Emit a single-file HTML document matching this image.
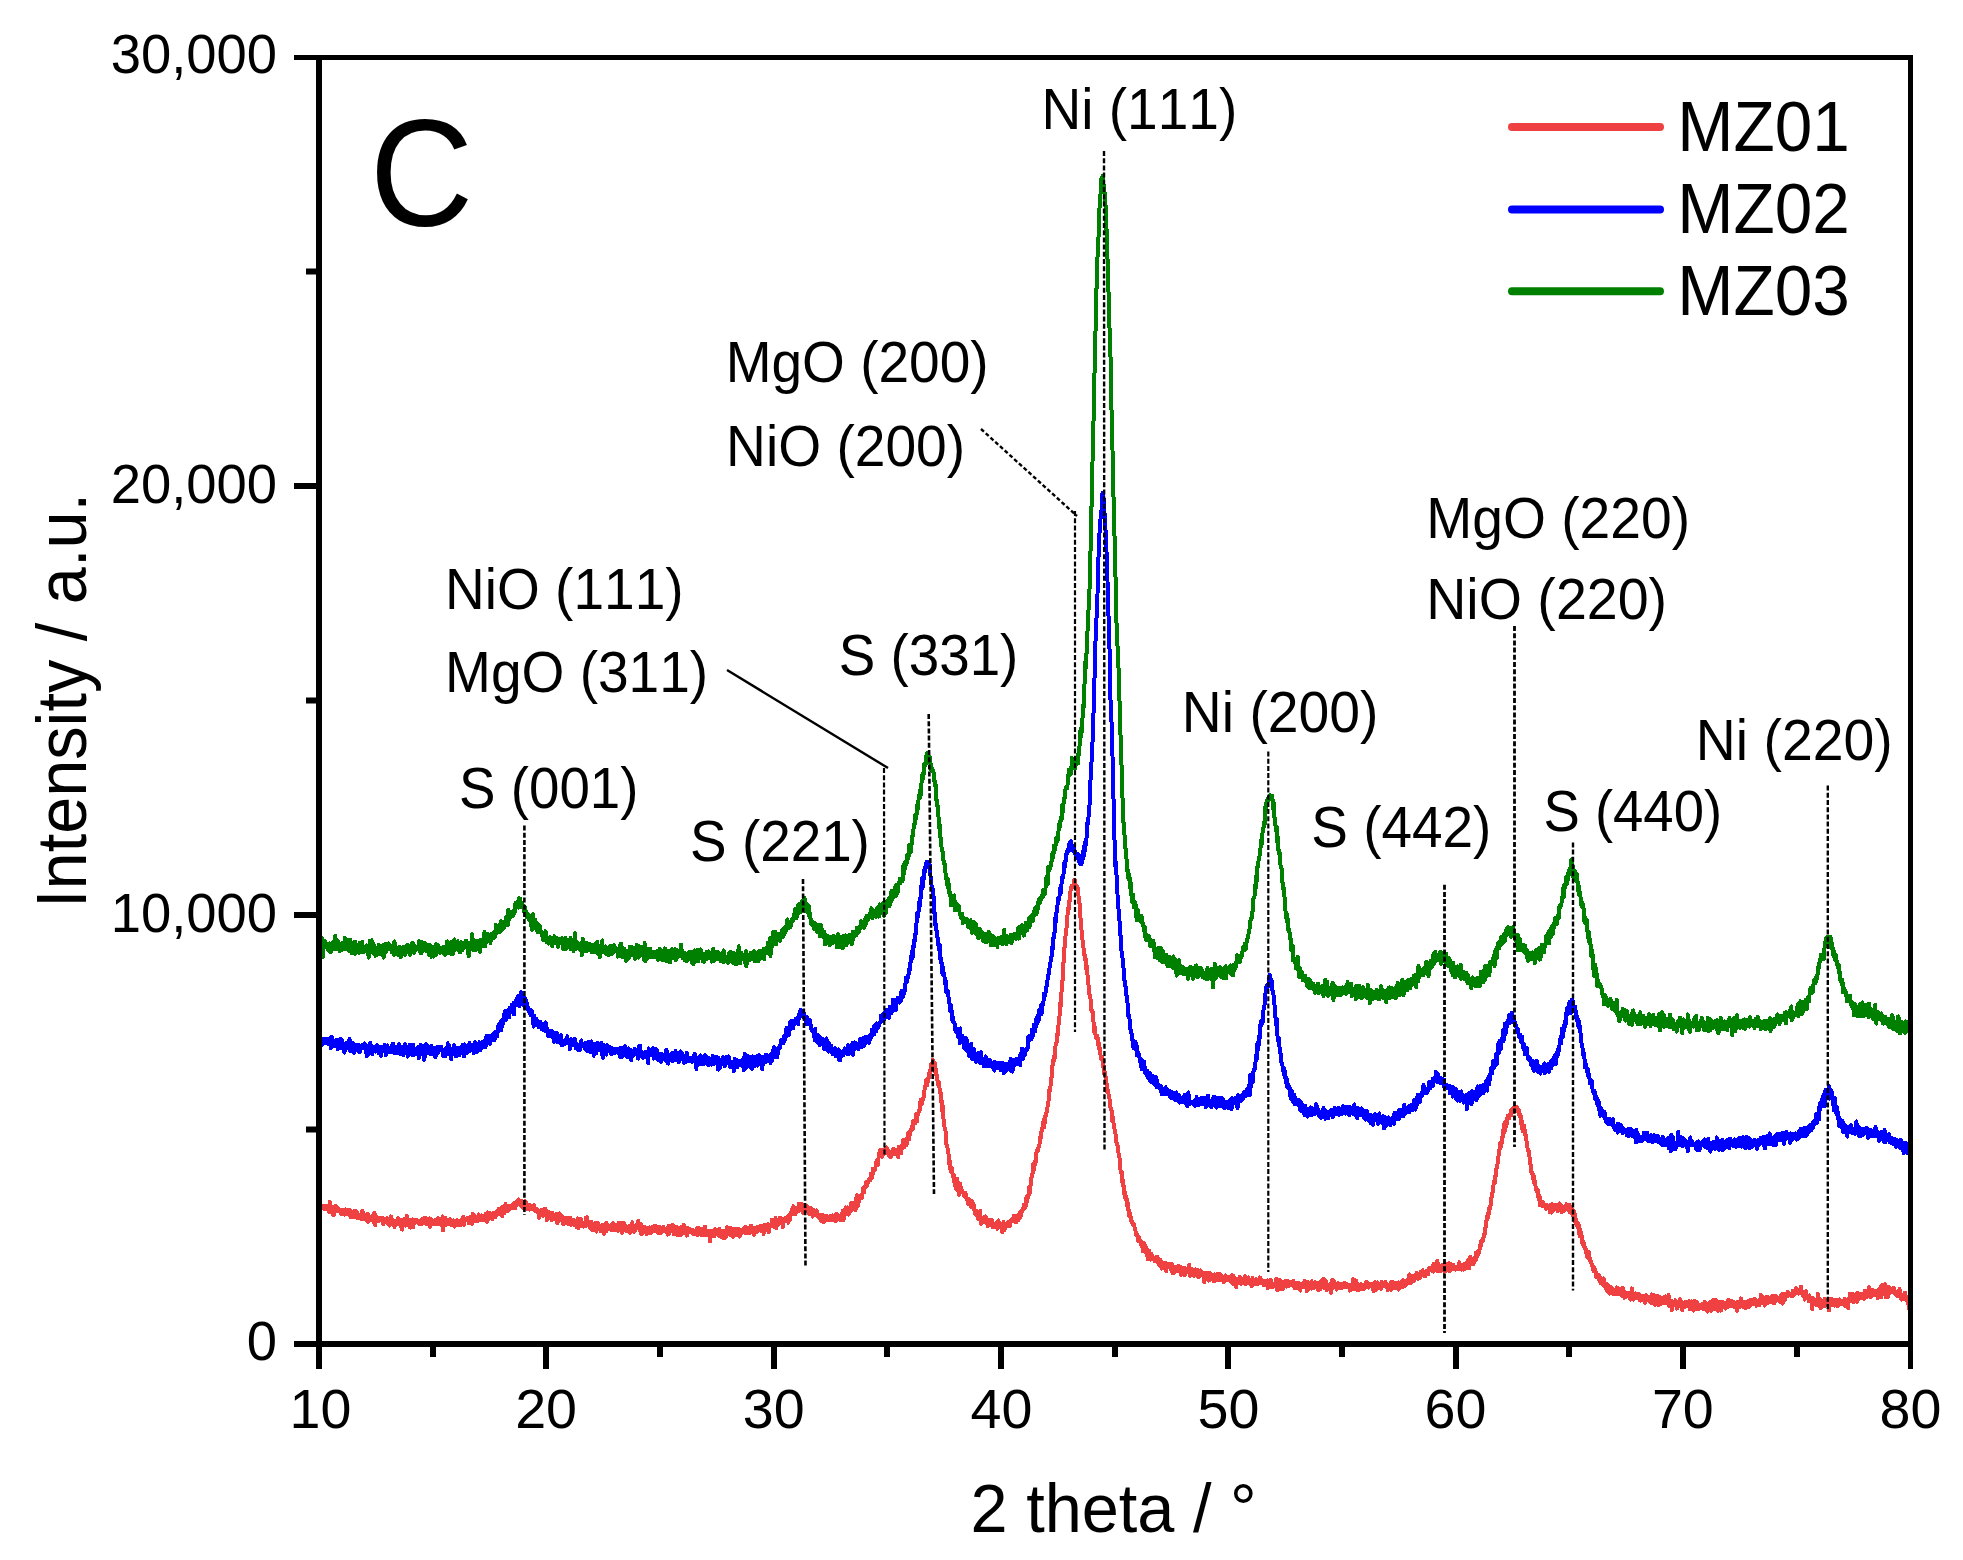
<!DOCTYPE html>
<html><head><meta charset="utf-8"><title>XRD patterns MZ01-MZ03</title>
<style>html,body{margin:0;padding:0;background:#fff;}svg{display:block;}</style>
</head><body>
<svg width="1963" height="1560" viewBox="0 0 1963 1560">
<rect width="100%" height="100%" fill="#fff"/>
<polyline fill="none" stroke="#EF4142" stroke-width="4" stroke-linejoin="round" shape-rendering="crispEdges" points="319.0,1207.3 319.5,1208.6 319.9,1207.5 320.4,1203.4 320.8,1209.0 321.3,1208.0 321.7,1205.6 322.2,1208.5 322.6,1208.0 323.1,1207.9 323.5,1207.4 324.0,1208.8 324.5,1205.6 324.9,1207.2 325.4,1206.5 325.8,1209.3 326.3,1208.0 326.7,1207.2 327.2,1206.1 327.6,1207.5 328.1,1208.3 328.5,1207.7 329.0,1211.7 329.5,1211.1 329.9,1201.9 330.4,1204.1 330.8,1208.5 331.3,1208.0 331.7,1209.7 332.2,1209.8 332.6,1214.7 333.1,1206.7 333.6,1208.6 334.0,1214.8 334.5,1211.4 334.9,1211.6 335.4,1208.8 335.8,1206.0 336.3,1210.7 336.7,1210.7 337.2,1207.4 337.6,1208.9 338.1,1210.6 338.6,1208.5 339.0,1210.7 339.5,1211.3 339.9,1211.3 340.4,1210.1 340.8,1213.0 341.3,1213.8 341.7,1212.5 342.2,1209.8 342.6,1213.8 343.1,1210.8 343.6,1214.4 344.0,1209.6 344.5,1214.7 344.9,1212.5 345.4,1209.5 345.8,1212.0 346.3,1213.0 346.7,1213.7 347.2,1210.7 347.6,1210.5 348.1,1213.8 348.6,1212.3 349.0,1214.2 349.5,1215.6 349.9,1209.7 350.4,1214.5 350.8,1217.1 351.3,1213.4 351.7,1212.2 352.2,1216.2 352.6,1215.1 353.1,1216.8 353.6,1213.8 354.0,1211.1 354.5,1214.6 354.9,1213.9 355.4,1217.0 355.8,1215.6 356.3,1211.2 356.7,1212.4 357.2,1217.7 357.7,1217.2 358.1,1214.0 358.6,1215.7 359.0,1216.9 359.5,1217.1 359.9,1218.2 360.4,1216.7 360.8,1215.9 361.3,1215.6 361.7,1219.0 362.2,1210.8 362.7,1216.2 363.1,1216.7 363.6,1213.1 364.0,1217.6 364.5,1215.2 364.9,1219.1 365.4,1216.7 365.8,1218.8 366.3,1220.3 366.7,1218.3 367.2,1215.2 367.7,1213.7 368.1,1222.0 368.6,1217.4 369.0,1216.1 369.5,1218.2 369.9,1217.5 370.4,1220.2 370.8,1218.2 371.3,1218.3 371.7,1216.6 372.2,1219.6 372.7,1215.9 373.1,1220.3 373.6,1222.5 374.0,1215.0 374.5,1212.7 374.9,1220.5 375.4,1225.4 375.8,1216.7 376.3,1216.1 376.7,1220.8 377.2,1217.3 377.7,1218.3 378.1,1218.7 378.6,1221.0 379.0,1218.8 379.5,1220.6 379.9,1219.5 380.4,1217.9 380.8,1219.3 381.3,1217.8 381.8,1220.3 382.2,1217.6 382.7,1217.7 383.1,1224.2 383.6,1220.5 384.0,1220.6 384.5,1222.0 384.9,1219.8 385.4,1220.3 385.8,1222.0 386.3,1221.8 386.8,1218.2 387.2,1223.3 387.7,1219.8 388.1,1218.7 388.6,1219.1 389.0,1220.5 389.5,1225.6 389.9,1218.6 390.4,1222.0 390.8,1216.3 391.3,1221.7 391.8,1224.1 392.2,1221.3 392.7,1220.3 393.1,1222.5 393.6,1223.7 394.0,1223.7 394.5,1227.0 394.9,1222.7 395.4,1220.7 395.8,1221.9 396.3,1222.1 396.8,1222.5 397.2,1222.2 397.7,1222.8 398.1,1218.2 398.6,1224.5 399.0,1221.0 399.5,1219.5 399.9,1224.0 400.4,1225.8 400.8,1223.7 401.3,1222.9 401.8,1220.2 402.2,1229.7 402.7,1224.7 403.1,1219.7 403.6,1220.6 404.0,1222.7 404.5,1218.6 404.9,1222.9 405.4,1221.4 405.9,1225.6 406.3,1224.9 406.8,1215.7 407.2,1222.6 407.7,1218.5 408.1,1225.3 408.6,1222.9 409.0,1223.9 409.5,1219.8 409.9,1227.1 410.4,1227.6 410.9,1219.8 411.3,1223.4 411.8,1220.8 412.2,1222.4 412.7,1219.3 413.1,1227.2 413.6,1220.1 414.0,1221.8 414.5,1223.8 414.9,1220.9 415.4,1221.9 415.9,1221.1 416.3,1222.2 416.8,1219.6 417.2,1221.4 417.7,1222.0 418.1,1221.7 418.6,1222.6 419.0,1221.8 419.5,1224.4 419.9,1221.7 420.4,1222.2 420.9,1220.8 421.3,1221.2 421.8,1219.3 422.2,1223.8 422.7,1219.6 423.1,1220.6 423.6,1223.4 424.0,1223.5 424.5,1221.5 424.9,1217.5 425.4,1223.6 425.9,1223.1 426.3,1219.0 426.8,1224.4 427.2,1220.7 427.7,1219.7 428.1,1222.7 428.6,1222.1 429.0,1223.0 429.5,1218.5 430.0,1227.0 430.4,1221.0 430.9,1218.7 431.3,1224.0 431.8,1221.6 432.2,1223.3 432.7,1221.7 433.1,1222.4 433.6,1223.1 434.0,1220.6 434.5,1224.2 435.0,1221.3 435.4,1220.3 435.9,1222.7 436.3,1223.6 436.8,1221.9 437.2,1220.3 437.7,1224.0 438.1,1218.1 438.6,1219.9 439.0,1222.6 439.5,1219.1 440.0,1222.6 440.4,1222.4 440.9,1224.7 441.3,1220.2 441.8,1220.9 442.2,1223.3 442.7,1216.4 443.1,1230.3 443.6,1220.8 444.0,1220.7 444.5,1224.7 445.0,1222.4 445.4,1218.1 445.9,1224.1 446.3,1224.6 446.8,1221.4 447.2,1221.8 447.7,1223.7 448.1,1220.2 448.6,1223.6 449.0,1223.0 449.5,1220.8 450.0,1219.0 450.4,1221.9 450.9,1220.2 451.3,1224.9 451.8,1222.7 452.2,1224.3 452.7,1222.7 453.1,1223.0 453.6,1220.3 454.1,1223.9 454.5,1226.7 455.0,1221.4 455.4,1220.7 455.9,1221.7 456.3,1220.9 456.8,1220.3 457.2,1222.4 457.7,1221.2 458.1,1225.5 458.6,1221.9 459.1,1222.6 459.5,1224.2 460.0,1221.0 460.4,1225.3 460.9,1220.0 461.3,1219.5 461.8,1220.6 462.2,1221.2 462.7,1217.9 463.1,1221.2 463.6,1217.1 464.1,1224.7 464.5,1220.9 465.0,1219.5 465.4,1218.7 465.9,1220.0 466.3,1220.3 466.8,1218.2 467.2,1218.4 467.7,1220.2 468.1,1219.3 468.6,1222.9 469.1,1223.3 469.5,1220.4 470.0,1221.5 470.4,1216.9 470.9,1221.7 471.3,1219.9 471.8,1221.2 472.2,1223.9 472.7,1214.1 473.2,1220.3 473.6,1216.9 474.1,1221.0 474.5,1216.1 475.0,1218.1 475.4,1219.7 475.9,1220.7 476.3,1219.2 476.8,1217.0 477.2,1217.5 477.7,1221.0 478.2,1218.7 478.6,1214.4 479.1,1220.6 479.5,1219.4 480.0,1220.5 480.4,1217.4 480.9,1220.2 481.3,1215.3 481.8,1219.3 482.2,1216.6 482.7,1219.4 483.2,1220.1 483.6,1215.6 484.1,1217.3 484.5,1217.4 485.0,1220.1 485.4,1218.8 485.9,1213.9 486.3,1218.0 486.8,1218.6 487.2,1222.0 487.7,1212.3 488.2,1215.1 488.6,1219.7 489.1,1212.8 489.5,1213.1 490.0,1217.3 490.4,1218.4 490.9,1214.1 491.3,1217.0 491.8,1215.8 492.2,1219.2 492.7,1215.2 493.2,1217.6 493.6,1212.7 494.1,1214.3 494.5,1214.4 495.0,1217.3 495.4,1215.7 495.9,1212.2 496.3,1215.6 496.8,1215.6 497.3,1213.2 497.7,1212.7 498.2,1212.6 498.6,1208.7 499.1,1213.2 499.5,1213.1 500.0,1210.1 500.4,1213.9 500.9,1208.4 501.3,1210.3 501.8,1210.3 502.3,1216.2 502.7,1207.0 503.2,1212.2 503.6,1213.0 504.1,1211.4 504.5,1213.2 505.0,1207.5 505.4,1204.1 505.9,1211.5 506.3,1206.3 506.8,1208.3 507.3,1205.9 507.7,1211.2 508.2,1210.4 508.6,1206.2 509.1,1210.0 509.5,1207.7 510.0,1206.8 510.4,1206.9 510.9,1206.0 511.3,1207.7 511.8,1206.7 512.3,1204.7 512.7,1207.8 513.2,1203.5 513.6,1205.4 514.1,1205.5 514.5,1207.9 515.0,1202.7 515.4,1208.0 515.9,1203.9 516.3,1202.7 516.8,1201.3 517.3,1204.3 517.7,1202.8 518.2,1199.7 518.6,1199.5 519.1,1200.8 519.5,1200.4 520.0,1204.8 520.4,1205.5 520.9,1204.2 521.4,1202.9 521.8,1201.0 522.3,1202.3 522.7,1204.4 523.2,1207.7 523.6,1204.8 524.1,1201.9 524.5,1202.9 525.0,1201.8 525.4,1201.3 525.9,1203.0 526.4,1204.3 526.8,1208.6 527.3,1204.5 527.7,1208.0 528.2,1209.3 528.6,1205.4 529.1,1209.6 529.5,1207.7 530.0,1205.1 530.4,1207.2 530.9,1206.9 531.4,1206.6 531.8,1207.0 532.3,1208.2 532.7,1209.2 533.2,1206.2 533.6,1208.7 534.1,1205.2 534.5,1209.9 535.0,1211.1 535.4,1210.1 535.9,1210.7 536.4,1211.6 536.8,1208.7 537.3,1210.0 537.7,1212.1 538.2,1213.5 538.6,1212.2 539.1,1217.8 539.5,1211.4 540.0,1214.3 540.4,1215.2 540.9,1211.9 541.4,1210.3 541.8,1209.6 542.3,1213.2 542.7,1215.8 543.2,1213.9 543.6,1213.8 544.1,1212.6 544.5,1215.1 545.0,1208.6 545.5,1214.7 545.9,1214.3 546.4,1211.0 546.8,1220.0 547.3,1211.3 547.7,1212.2 548.2,1212.1 548.6,1218.0 549.1,1213.2 549.5,1217.2 550.0,1217.2 550.5,1216.5 550.9,1212.7 551.4,1214.6 551.8,1220.4 552.3,1213.1 552.7,1214.4 553.2,1216.2 553.6,1218.8 554.1,1217.5 554.5,1218.9 555.0,1214.5 555.5,1219.7 555.9,1218.8 556.4,1213.6 556.8,1221.5 557.3,1223.5 557.7,1216.0 558.2,1218.2 558.6,1221.7 559.1,1214.6 559.5,1213.5 560.0,1215.3 560.5,1217.3 560.9,1217.4 561.4,1220.5 561.8,1219.7 562.3,1216.1 562.7,1220.7 563.2,1224.1 563.6,1222.5 564.1,1222.2 564.5,1219.8 565.0,1222.4 565.5,1217.6 565.9,1222.0 566.4,1220.1 566.8,1223.2 567.3,1221.7 567.7,1217.9 568.2,1221.1 568.6,1223.9 569.1,1218.1 569.6,1219.7 570.0,1219.3 570.5,1217.6 570.9,1223.8 571.4,1224.8 571.8,1223.6 572.3,1222.4 572.7,1221.7 573.2,1222.6 573.6,1220.2 574.1,1224.4 574.6,1224.9 575.0,1224.7 575.5,1221.2 575.9,1222.8 576.4,1222.3 576.8,1227.3 577.3,1223.4 577.7,1218.3 578.2,1224.1 578.6,1227.9 579.1,1225.0 579.6,1225.6 580.0,1223.6 580.5,1218.7 580.9,1219.2 581.4,1220.7 581.8,1223.6 582.3,1224.7 582.7,1225.8 583.2,1223.3 583.6,1226.6 584.1,1223.6 584.6,1222.6 585.0,1226.6 585.5,1222.3 585.9,1217.8 586.4,1222.1 586.8,1225.1 587.3,1217.2 587.7,1224.1 588.2,1224.2 588.6,1221.6 589.1,1221.5 589.6,1224.1 590.0,1224.0 590.5,1228.6 590.9,1226.4 591.4,1221.6 591.8,1223.5 592.3,1227.5 592.7,1230.5 593.2,1226.8 593.7,1226.7 594.1,1230.6 594.6,1226.0 595.0,1225.3 595.5,1222.6 595.9,1224.9 596.4,1231.7 596.8,1222.8 597.3,1226.4 597.7,1222.9 598.2,1226.8 598.7,1228.8 599.1,1226.0 599.6,1228.5 600.0,1228.5 600.5,1227.9 600.9,1231.1 601.4,1228.8 601.8,1226.1 602.3,1225.2 602.7,1224.9 603.2,1228.2 603.7,1226.2 604.1,1233.9 604.6,1231.7 605.0,1226.6 605.5,1226.4 605.9,1231.5 606.4,1222.6 606.8,1226.2 607.3,1229.7 607.7,1225.1 608.2,1226.2 608.7,1226.6 609.1,1229.2 609.6,1227.9 610.0,1228.6 610.5,1229.1 610.9,1227.7 611.4,1230.5 611.8,1225.9 612.3,1224.2 612.7,1223.3 613.2,1223.8 613.7,1226.5 614.1,1230.5 614.6,1228.3 615.0,1226.5 615.5,1225.3 615.9,1226.7 616.4,1227.0 616.8,1226.7 617.3,1224.5 617.8,1226.9 618.2,1230.7 618.7,1222.8 619.1,1227.6 619.6,1223.0 620.0,1228.7 620.5,1226.4 620.9,1223.1 621.4,1228.6 621.8,1232.9 622.3,1228.7 622.8,1231.4 623.2,1228.3 623.7,1223.1 624.1,1229.8 624.6,1227.5 625.0,1224.9 625.5,1230.6 625.9,1229.4 626.4,1227.4 626.8,1230.9 627.3,1226.6 627.8,1230.4 628.2,1226.4 628.7,1230.2 629.1,1226.1 629.6,1232.6 630.0,1229.5 630.5,1232.5 630.9,1226.9 631.4,1227.8 631.8,1231.1 632.3,1222.2 632.8,1226.4 633.2,1231.6 633.7,1230.3 634.1,1231.6 634.6,1228.4 635.0,1230.6 635.5,1227.4 635.9,1225.8 636.4,1225.0 636.8,1227.9 637.3,1227.9 637.8,1227.7 638.2,1220.5 638.7,1224.3 639.1,1228.0 639.6,1230.1 640.0,1228.0 640.5,1227.2 640.9,1223.7 641.4,1234.5 641.9,1226.7 642.3,1233.7 642.8,1233.4 643.2,1230.2 643.7,1228.1 644.1,1229.9 644.6,1226.7 645.0,1230.3 645.5,1229.7 645.9,1231.0 646.4,1232.1 646.9,1234.1 647.3,1228.8 647.8,1232.4 648.2,1227.8 648.7,1227.6 649.1,1228.3 649.6,1227.4 650.0,1232.3 650.5,1232.2 650.9,1233.1 651.4,1229.9 651.9,1230.6 652.3,1228.5 652.8,1227.1 653.2,1231.1 653.7,1230.7 654.1,1227.3 654.6,1231.5 655.0,1225.7 655.5,1229.6 655.9,1228.5 656.4,1228.8 656.9,1227.4 657.3,1232.5 657.8,1231.6 658.2,1233.2 658.7,1230.5 659.1,1227.0 659.6,1229.3 660.0,1227.3 660.5,1231.4 660.9,1233.3 661.4,1231.1 661.9,1228.8 662.3,1229.4 662.8,1230.8 663.2,1226.7 663.7,1230.7 664.1,1230.9 664.6,1229.0 665.0,1229.4 665.5,1230.9 666.0,1228.4 666.4,1228.4 666.9,1232.4 667.3,1231.0 667.8,1234.7 668.2,1228.0 668.7,1226.1 669.1,1232.9 669.6,1233.0 670.0,1228.7 670.5,1226.9 671.0,1230.5 671.4,1226.2 671.9,1229.8 672.3,1225.2 672.8,1230.1 673.2,1225.4 673.7,1230.1 674.1,1234.5 674.6,1230.1 675.0,1232.7 675.5,1229.1 676.0,1228.5 676.4,1227.0 676.9,1233.4 677.3,1230.7 677.8,1234.9 678.2,1227.9 678.7,1230.3 679.1,1231.1 679.6,1234.4 680.0,1235.4 680.5,1229.3 681.0,1228.1 681.4,1226.6 681.9,1234.3 682.3,1230.7 682.8,1229.4 683.2,1230.9 683.7,1224.6 684.1,1226.7 684.6,1233.4 685.0,1232.1 685.5,1231.5 686.0,1228.6 686.4,1232.6 686.9,1235.6 687.3,1228.1 687.8,1231.2 688.2,1230.1 688.7,1232.1 689.1,1231.3 689.6,1230.9 690.1,1229.1 690.5,1231.2 691.0,1229.8 691.4,1230.9 691.9,1231.2 692.3,1233.0 692.8,1229.9 693.2,1230.6 693.7,1234.1 694.1,1230.9 694.6,1230.8 695.1,1233.6 695.5,1232.2 696.0,1231.7 696.4,1232.1 696.9,1228.4 697.3,1232.7 697.8,1234.9 698.2,1233.0 698.7,1227.7 699.1,1232.3 699.6,1229.4 700.1,1231.1 700.5,1232.0 701.0,1228.7 701.4,1235.1 701.9,1231.6 702.3,1233.7 702.8,1233.4 703.2,1235.2 703.7,1234.8 704.1,1228.2 704.6,1232.0 705.1,1226.5 705.5,1230.8 706.0,1233.7 706.4,1234.2 706.9,1235.2 707.3,1231.0 707.8,1232.8 708.2,1232.2 708.7,1235.2 709.1,1236.0 709.6,1231.1 710.1,1241.5 710.5,1232.1 711.0,1231.2 711.4,1233.6 711.9,1234.0 712.3,1233.5 712.8,1230.5 713.2,1235.8 713.7,1232.3 714.2,1236.0 714.6,1235.7 715.1,1229.0 715.5,1229.8 716.0,1229.7 716.4,1232.9 716.9,1232.4 717.3,1233.0 717.8,1230.3 718.2,1233.4 718.7,1235.8 719.2,1229.0 719.6,1231.8 720.1,1233.0 720.5,1232.0 721.0,1231.9 721.4,1236.8 721.9,1235.6 722.3,1234.5 722.8,1230.5 723.2,1238.0 723.7,1233.3 724.2,1231.0 724.6,1231.6 725.1,1231.2 725.5,1237.7 726.0,1233.0 726.4,1232.6 726.9,1227.1 727.3,1234.3 727.8,1229.8 728.2,1229.6 728.7,1234.0 729.2,1230.3 729.6,1234.6 730.1,1235.3 730.5,1228.0 731.0,1232.1 731.4,1228.5 731.9,1232.3 732.3,1234.7 732.8,1229.0 733.2,1236.9 733.7,1231.6 734.2,1229.4 734.6,1232.1 735.1,1234.3 735.5,1228.9 736.0,1232.3 736.4,1228.9 736.9,1235.3 737.3,1232.6 737.8,1231.1 738.3,1234.8 738.7,1228.9 739.2,1231.1 739.6,1236.7 740.1,1231.7 740.5,1235.4 741.0,1232.4 741.4,1230.1 741.9,1231.2 742.3,1232.0 742.8,1230.7 743.3,1229.6 743.7,1229.7 744.2,1227.9 744.6,1231.8 745.1,1232.5 745.5,1233.3 746.0,1226.9 746.4,1233.3 746.9,1231.2 747.3,1227.6 747.8,1231.4 748.3,1233.1 748.7,1232.3 749.2,1232.8 749.6,1233.3 750.1,1233.1 750.5,1230.7 751.0,1225.5 751.4,1228.7 751.9,1231.5 752.3,1229.3 752.8,1232.1 753.3,1232.4 753.7,1230.4 754.2,1234.9 754.6,1227.7 755.1,1232.4 755.5,1228.8 756.0,1228.0 756.4,1231.4 756.9,1228.3 757.4,1231.9 757.8,1226.7 758.3,1229.6 758.7,1227.4 759.2,1228.8 759.6,1228.3 760.1,1226.3 760.5,1230.7 761.0,1225.8 761.4,1226.4 761.9,1231.0 762.4,1231.0 762.8,1230.2 763.3,1229.2 763.7,1233.9 764.2,1225.1 764.6,1226.1 765.1,1225.4 765.5,1230.0 766.0,1228.3 766.4,1230.2 766.9,1229.7 767.4,1226.6 767.8,1225.0 768.3,1224.4 768.7,1232.2 769.2,1229.0 769.6,1227.9 770.1,1225.4 770.5,1225.6 771.0,1225.1 771.4,1225.0 771.9,1219.6 772.4,1225.3 772.8,1224.3 773.3,1225.8 773.7,1225.5 774.2,1226.9 774.6,1224.6 775.1,1226.4 775.5,1217.9 776.0,1221.3 776.4,1228.2 776.9,1220.7 777.4,1222.8 777.8,1225.1 778.3,1220.9 778.7,1224.7 779.2,1219.1 779.6,1217.7 780.1,1219.0 780.5,1217.9 781.0,1221.8 781.5,1220.8 781.9,1222.2 782.4,1218.6 782.8,1227.3 783.3,1220.4 783.7,1220.3 784.2,1221.3 784.6,1219.3 785.1,1218.1 785.5,1219.6 786.0,1221.4 786.5,1220.5 786.9,1221.0 787.4,1216.9 787.8,1216.1 788.3,1222.8 788.7,1216.9 789.2,1218.3 789.6,1218.7 790.1,1220.0 790.5,1212.7 791.0,1214.4 791.5,1214.1 791.9,1214.0 792.4,1208.3 792.8,1213.7 793.3,1206.2 793.7,1213.8 794.2,1214.0 794.6,1213.8 795.1,1208.9 795.5,1213.9 796.0,1209.0 796.5,1207.7 796.9,1207.9 797.4,1207.8 797.8,1210.0 798.3,1211.3 798.7,1203.6 799.2,1207.2 799.6,1210.6 800.1,1208.6 800.5,1209.3 801.0,1204.2 801.5,1210.4 801.9,1204.1 802.4,1208.6 802.8,1211.6 803.3,1212.9 803.7,1209.6 804.2,1210.6 804.6,1207.0 805.1,1207.5 805.6,1211.8 806.0,1209.0 806.5,1208.8 806.9,1205.8 807.4,1209.8 807.8,1211.2 808.3,1207.8 808.7,1208.6 809.2,1214.0 809.6,1210.7 810.1,1209.7 810.6,1207.8 811.0,1209.4 811.5,1210.6 811.9,1214.9 812.4,1210.2 812.8,1216.6 813.3,1210.1 813.7,1211.8 814.2,1215.1 814.6,1212.8 815.1,1211.6 815.6,1213.7 816.0,1215.5 816.5,1210.4 816.9,1214.3 817.4,1215.0 817.8,1214.5 818.3,1217.6 818.7,1214.6 819.2,1215.4 819.6,1216.6 820.1,1218.5 820.6,1216.2 821.0,1220.7 821.5,1214.7 821.9,1220.3 822.4,1215.0 822.8,1216.8 823.3,1218.2 823.7,1222.4 824.2,1219.6 824.6,1216.4 825.1,1220.7 825.6,1217.0 826.0,1215.6 826.5,1218.7 826.9,1217.9 827.4,1220.1 827.8,1216.4 828.3,1218.7 828.7,1219.4 829.2,1218.5 829.7,1217.8 830.1,1216.2 830.6,1220.2 831.0,1218.3 831.5,1219.2 831.9,1217.1 832.4,1218.0 832.8,1215.4 833.3,1218.2 833.7,1219.9 834.2,1218.2 834.7,1220.1 835.1,1218.7 835.6,1221.2 836.0,1217.3 836.5,1213.6 836.9,1218.6 837.4,1217.0 837.8,1214.8 838.3,1218.7 838.7,1217.6 839.2,1217.9 839.7,1215.8 840.1,1216.9 840.6,1216.9 841.0,1220.5 841.5,1214.1 841.9,1215.6 842.4,1216.3 842.8,1210.8 843.3,1210.8 843.7,1219.9 844.2,1209.7 844.7,1215.2 845.1,1211.2 845.6,1211.0 846.0,1207.4 846.5,1209.7 846.9,1213.4 847.4,1207.5 847.8,1212.0 848.3,1210.8 848.7,1214.6 849.2,1207.9 849.7,1211.8 850.1,1210.4 850.6,1207.1 851.0,1203.2 851.5,1210.8 851.9,1203.2 852.4,1205.1 852.8,1208.1 853.3,1208.3 853.8,1203.1 854.2,1204.7 854.7,1203.8 855.1,1207.0 855.6,1209.9 856.0,1198.6 856.5,1205.0 856.9,1195.1 857.4,1201.8 857.8,1198.4 858.3,1205.6 858.8,1200.4 859.2,1197.4 859.7,1197.2 860.1,1196.2 860.6,1197.2 861.0,1195.5 861.5,1196.6 861.9,1198.0 862.4,1195.0 862.8,1189.3 863.3,1187.4 863.8,1188.6 864.2,1192.2 864.7,1187.8 865.1,1186.0 865.6,1187.2 866.0,1182.4 866.5,1182.3 866.9,1185.6 867.4,1182.9 867.8,1181.8 868.3,1182.9 868.8,1179.9 869.2,1178.8 869.7,1178.5 870.1,1180.2 870.6,1177.8 871.0,1173.6 871.5,1174.7 871.9,1175.9 872.4,1177.8 872.8,1169.0 873.3,1171.5 873.8,1168.8 874.2,1170.4 874.7,1168.3 875.1,1169.7 875.6,1166.3 876.0,1162.5 876.5,1161.3 876.9,1162.4 877.4,1161.1 877.9,1164.9 878.3,1161.9 878.8,1153.6 879.2,1156.4 879.7,1151.3 880.1,1149.8 880.6,1155.2 881.0,1154.4 881.5,1150.3 881.9,1156.9 882.4,1150.3 882.9,1149.7 883.3,1154.2 883.8,1153.1 884.2,1152.1 884.7,1152.2 885.1,1152.9 885.6,1152.0 886.0,1151.8 886.5,1147.5 886.9,1148.8 887.4,1153.7 887.9,1150.3 888.3,1153.4 888.8,1155.1 889.2,1151.1 889.7,1152.6 890.1,1157.1 890.6,1153.6 891.0,1156.4 891.5,1155.6 891.9,1153.6 892.4,1151.4 892.9,1149.6 893.3,1148.8 893.8,1152.8 894.2,1152.7 894.7,1151.1 895.1,1153.6 895.6,1149.9 896.0,1154.2 896.5,1151.4 896.9,1151.2 897.4,1151.2 897.9,1150.9 898.3,1157.3 898.8,1146.9 899.2,1151.2 899.7,1153.6 900.1,1151.9 900.6,1149.0 901.0,1153.6 901.5,1146.0 902.0,1144.9 902.4,1148.9 902.9,1143.2 903.3,1140.2 903.8,1147.6 904.2,1146.5 904.7,1145.7 905.1,1141.9 905.6,1142.8 906.0,1139.1 906.5,1145.1 907.0,1141.9 907.4,1140.8 907.9,1133.1 908.3,1138.9 908.8,1139.5 909.2,1137.6 909.7,1135.4 910.1,1132.2 910.6,1130.1 911.0,1131.2 911.5,1129.5 912.0,1127.9 912.4,1125.4 912.9,1129.3 913.3,1121.1 913.8,1122.9 914.2,1120.6 914.7,1123.6 915.1,1123.6 915.6,1122.2 916.0,1120.0 916.5,1113.6 917.0,1121.4 917.4,1116.4 917.9,1113.8 918.3,1113.0 918.8,1111.0 919.2,1111.7 919.7,1110.1 920.1,1107.1 920.6,1100.1 921.0,1104.9 921.5,1104.6 922.0,1103.1 922.4,1099.6 922.9,1099.4 923.3,1099.1 923.8,1093.6 924.2,1096.6 924.7,1086.3 925.1,1086.3 925.6,1085.5 926.1,1079.9 926.5,1081.7 927.0,1085.5 927.4,1083.6 927.9,1079.0 928.3,1081.3 928.8,1076.0 929.2,1072.6 929.7,1073.0 930.1,1070.4 930.6,1070.9 931.1,1063.8 931.5,1068.6 932.0,1063.8 932.4,1066.2 932.9,1059.7 933.3,1062.5 933.8,1064.2 934.2,1067.0 934.7,1062.9 935.1,1071.5 935.6,1070.2 936.1,1069.4 936.5,1075.7 937.0,1074.9 937.4,1079.6 937.9,1084.5 938.3,1082.7 938.8,1081.9 939.2,1084.8 939.7,1090.2 940.1,1092.5 940.6,1092.9 941.1,1096.6 941.5,1103.2 942.0,1110.7 942.4,1101.9 942.9,1114.1 943.3,1115.7 943.8,1122.1 944.2,1126.2 944.7,1127.8 945.1,1128.7 945.6,1131.4 946.1,1133.8 946.5,1145.0 947.0,1144.9 947.4,1147.4 947.9,1151.1 948.3,1151.4 948.8,1158.3 949.2,1163.6 949.7,1165.8 950.2,1161.7 950.6,1171.5 951.1,1168.4 951.5,1167.5 952.0,1170.9 952.4,1172.9 952.9,1176.5 953.3,1174.9 953.8,1174.7 954.2,1178.7 954.7,1185.0 955.2,1179.2 955.6,1182.8 956.1,1182.5 956.5,1189.6 957.0,1178.8 957.4,1187.0 957.9,1181.7 958.3,1184.0 958.8,1185.9 959.2,1194.8 959.7,1185.7 960.2,1183.5 960.6,1192.1 961.1,1187.4 961.5,1189.6 962.0,1190.7 962.4,1191.6 962.9,1191.6 963.3,1193.3 963.8,1194.2 964.2,1196.1 964.7,1193.5 965.2,1193.4 965.6,1193.3 966.1,1198.1 966.5,1197.2 967.0,1199.5 967.4,1200.2 967.9,1203.9 968.3,1201.0 968.8,1203.2 969.2,1199.1 969.7,1200.2 970.2,1203.0 970.6,1201.5 971.1,1207.1 971.5,1202.8 972.0,1207.1 972.4,1201.5 972.9,1205.6 973.3,1208.2 973.8,1209.1 974.3,1205.9 974.7,1211.2 975.2,1214.0 975.6,1213.8 976.1,1211.2 976.5,1211.9 977.0,1211.0 977.4,1216.1 977.9,1218.7 978.3,1214.4 978.8,1211.9 979.3,1217.2 979.7,1218.9 980.2,1210.8 980.6,1218.3 981.1,1223.8 981.5,1220.8 982.0,1220.4 982.4,1220.3 982.9,1222.2 983.3,1217.4 983.8,1217.9 984.3,1221.3 984.7,1218.8 985.2,1221.4 985.6,1216.3 986.1,1223.2 986.5,1223.6 987.0,1221.9 987.4,1222.4 987.9,1226.2 988.3,1219.7 988.8,1220.3 989.3,1220.1 989.7,1222.0 990.2,1220.7 990.6,1223.5 991.1,1222.0 991.5,1220.1 992.0,1220.1 992.4,1227.1 992.9,1224.1 993.3,1223.8 993.8,1224.6 994.3,1224.5 994.7,1226.7 995.2,1226.3 995.6,1223.5 996.1,1223.0 996.5,1222.5 997.0,1222.1 997.4,1228.8 997.9,1223.1 998.4,1220.4 998.8,1223.4 999.3,1223.5 999.7,1226.3 1000.2,1223.3 1000.6,1226.8 1001.1,1226.4 1001.5,1228.6 1002.0,1230.7 1002.4,1232.4 1002.9,1228.5 1003.4,1222.1 1003.8,1223.9 1004.3,1225.4 1004.7,1229.8 1005.2,1226.1 1005.6,1227.3 1006.1,1223.6 1006.5,1225.3 1007.0,1225.5 1007.4,1222.3 1007.9,1225.2 1008.4,1225.7 1008.8,1222.3 1009.3,1225.0 1009.7,1226.3 1010.2,1222.1 1010.6,1221.7 1011.1,1220.7 1011.5,1219.6 1012.0,1221.3 1012.4,1219.6 1012.9,1219.5 1013.4,1218.1 1013.8,1215.9 1014.3,1217.1 1014.7,1220.0 1015.2,1215.9 1015.6,1217.0 1016.1,1222.4 1016.5,1220.8 1017.0,1215.9 1017.4,1218.7 1017.9,1215.2 1018.4,1220.5 1018.8,1214.5 1019.3,1215.7 1019.7,1218.4 1020.2,1212.3 1020.6,1217.1 1021.1,1211.1 1021.5,1213.0 1022.0,1210.8 1022.5,1210.4 1022.9,1210.1 1023.4,1208.4 1023.8,1205.0 1024.3,1208.5 1024.7,1206.9 1025.2,1207.1 1025.6,1206.0 1026.1,1197.8 1026.5,1202.9 1027.0,1201.5 1027.5,1195.5 1027.9,1197.9 1028.4,1197.4 1028.8,1190.6 1029.3,1186.6 1029.7,1187.1 1030.2,1192.8 1030.6,1184.2 1031.1,1178.3 1031.5,1178.4 1032.0,1174.3 1032.5,1173.6 1032.9,1172.7 1033.4,1163.9 1033.8,1169.1 1034.3,1169.7 1034.7,1163.6 1035.2,1161.0 1035.6,1162.6 1036.1,1154.6 1036.5,1152.6 1037.0,1150.2 1037.5,1151.2 1037.9,1150.5 1038.4,1147.2 1038.8,1146.7 1039.3,1145.4 1039.7,1142.5 1040.2,1137.1 1040.6,1136.4 1041.1,1138.1 1041.6,1130.3 1042.0,1130.2 1042.5,1127.7 1042.9,1126.3 1043.4,1122.0 1043.8,1119.4 1044.3,1127.2 1044.7,1121.5 1045.2,1115.7 1045.6,1115.7 1046.1,1115.9 1046.6,1111.5 1047.0,1112.0 1047.5,1106.7 1047.9,1104.7 1048.4,1102.3 1048.8,1098.0 1049.3,1089.3 1049.7,1091.7 1050.2,1088.5 1050.6,1085.4 1051.1,1078.2 1051.6,1078.0 1052.0,1074.1 1052.5,1065.5 1052.9,1060.8 1053.4,1064.0 1053.8,1056.9 1054.3,1058.4 1054.7,1058.1 1055.2,1048.2 1055.6,1044.9 1056.1,1043.5 1056.6,1042.0 1057.0,1034.1 1057.5,1036.4 1057.9,1031.8 1058.4,1026.8 1058.8,1019.4 1059.3,1018.4 1059.7,1013.5 1060.2,1003.4 1060.6,1006.5 1061.1,995.3 1061.6,991.6 1062.0,984.0 1062.5,980.6 1062.9,976.4 1063.4,964.9 1063.8,956.1 1064.3,952.3 1064.7,943.5 1065.2,938.6 1065.7,934.4 1066.1,929.4 1066.6,927.6 1067.0,916.8 1067.5,915.3 1067.9,908.7 1068.4,909.3 1068.8,908.7 1069.3,900.2 1069.7,901.2 1070.2,893.6 1070.7,889.0 1071.1,888.0 1071.6,885.6 1072.0,885.6 1072.5,885.6 1072.9,887.2 1073.4,884.4 1073.8,882.6 1074.3,879.9 1074.7,879.7 1075.2,882.8 1075.7,884.9 1076.1,887.1 1076.6,889.2 1077.0,889.6 1077.5,886.7 1077.9,890.5 1078.4,893.3 1078.8,902.0 1079.3,899.6 1079.7,907.1 1080.2,915.5 1080.7,919.8 1081.1,924.9 1081.6,930.9 1082.0,933.3 1082.5,940.2 1082.9,945.5 1083.4,947.1 1083.8,950.4 1084.3,953.0 1084.7,959.0 1085.2,955.3 1085.7,960.5 1086.1,965.5 1086.6,970.9 1087.0,966.0 1087.5,975.2 1087.9,980.5 1088.4,982.7 1088.8,991.5 1089.3,993.7 1089.8,995.8 1090.2,996.3 1090.7,1000.5 1091.1,1004.7 1091.6,1011.5 1092.0,1010.4 1092.5,1011.1 1092.9,1015.3 1093.4,1020.0 1093.8,1028.1 1094.3,1032.5 1094.8,1027.3 1095.2,1033.1 1095.7,1036.4 1096.1,1038.1 1096.6,1036.7 1097.0,1035.8 1097.5,1039.8 1097.9,1038.4 1098.4,1045.5 1098.8,1048.7 1099.3,1043.7 1099.8,1050.1 1100.2,1052.6 1100.7,1056.7 1101.1,1058.8 1101.6,1059.1 1102.0,1057.3 1102.5,1060.1 1102.9,1066.2 1103.4,1064.0 1103.8,1067.9 1104.3,1074.5 1104.8,1073.6 1105.2,1072.6 1105.7,1078.0 1106.1,1083.0 1106.6,1083.5 1107.0,1089.5 1107.5,1092.3 1107.9,1090.0 1108.4,1092.9 1108.8,1096.5 1109.3,1096.3 1109.8,1102.9 1110.2,1104.2 1110.7,1109.4 1111.1,1108.8 1111.6,1111.0 1112.0,1120.6 1112.5,1116.5 1112.9,1119.9 1113.4,1122.1 1113.9,1125.7 1114.3,1126.6 1114.8,1131.2 1115.2,1132.0 1115.7,1135.2 1116.1,1139.7 1116.6,1143.1 1117.0,1145.1 1117.5,1144.8 1117.9,1150.5 1118.4,1152.2 1118.9,1155.4 1119.3,1154.5 1119.8,1163.8 1120.2,1165.0 1120.7,1172.8 1121.1,1173.2 1121.6,1171.8 1122.0,1173.9 1122.5,1182.8 1122.9,1180.2 1123.4,1186.4 1123.9,1186.3 1124.3,1194.5 1124.8,1191.6 1125.2,1197.3 1125.7,1199.0 1126.1,1196.5 1126.6,1198.8 1127.0,1205.3 1127.5,1203.5 1127.9,1203.1 1128.4,1210.2 1128.9,1215.4 1129.3,1210.6 1129.8,1216.0 1130.2,1213.8 1130.7,1219.3 1131.1,1217.0 1131.6,1222.6 1132.0,1222.3 1132.5,1222.0 1132.9,1224.6 1133.4,1224.1 1133.9,1224.1 1134.3,1225.6 1134.8,1229.4 1135.2,1228.0 1135.7,1232.9 1136.1,1234.3 1136.6,1235.2 1137.0,1233.9 1137.5,1236.3 1138.0,1237.1 1138.4,1241.4 1138.9,1237.0 1139.3,1239.0 1139.8,1240.3 1140.2,1241.4 1140.7,1240.7 1141.1,1241.8 1141.6,1246.7 1142.0,1243.3 1142.5,1247.9 1143.0,1251.4 1143.4,1250.2 1143.9,1243.2 1144.3,1250.3 1144.8,1250.2 1145.2,1251.0 1145.7,1246.2 1146.1,1252.8 1146.6,1248.8 1147.0,1255.3 1147.5,1255.3 1148.0,1259.6 1148.4,1252.8 1148.9,1250.5 1149.3,1257.5 1149.8,1257.5 1150.2,1254.9 1150.7,1259.7 1151.1,1258.5 1151.6,1254.0 1152.0,1256.8 1152.5,1257.0 1153.0,1258.3 1153.4,1259.4 1153.9,1257.6 1154.3,1259.2 1154.8,1261.5 1155.2,1260.1 1155.7,1260.0 1156.1,1260.2 1156.6,1261.0 1157.0,1256.7 1157.5,1262.2 1158.0,1259.5 1158.4,1262.6 1158.9,1258.9 1159.3,1265.2 1159.8,1263.7 1160.2,1260.0 1160.7,1264.2 1161.1,1262.0 1161.6,1268.6 1162.1,1265.5 1162.5,1262.5 1163.0,1265.3 1163.4,1264.9 1163.9,1268.2 1164.3,1266.3 1164.8,1266.8 1165.2,1262.9 1165.7,1267.9 1166.1,1271.3 1166.6,1267.9 1167.1,1266.3 1167.5,1267.0 1168.0,1264.4 1168.4,1267.4 1168.9,1264.3 1169.3,1267.3 1169.8,1266.4 1170.2,1265.4 1170.7,1269.1 1171.1,1264.0 1171.6,1267.8 1172.1,1264.7 1172.5,1272.7 1173.0,1273.2 1173.4,1270.5 1173.9,1273.2 1174.3,1270.0 1174.8,1270.0 1175.2,1267.7 1175.7,1266.6 1176.1,1269.3 1176.6,1267.7 1177.1,1268.1 1177.5,1271.1 1178.0,1269.1 1178.4,1265.6 1178.9,1269.0 1179.3,1267.8 1179.8,1269.0 1180.2,1267.1 1180.7,1273.0 1181.1,1274.8 1181.6,1267.4 1182.1,1271.9 1182.5,1271.8 1183.0,1267.7 1183.4,1270.8 1183.9,1274.1 1184.3,1272.8 1184.8,1274.9 1185.2,1268.0 1185.7,1269.1 1186.2,1271.8 1186.6,1272.1 1187.1,1271.3 1187.5,1270.4 1188.0,1270.4 1188.4,1270.0 1188.9,1272.8 1189.3,1264.8 1189.8,1275.8 1190.2,1270.6 1190.7,1268.4 1191.2,1273.5 1191.6,1268.7 1192.1,1273.3 1192.5,1271.4 1193.0,1274.0 1193.4,1274.5 1193.9,1275.9 1194.3,1271.5 1194.8,1272.1 1195.2,1272.9 1195.7,1269.5 1196.2,1274.6 1196.6,1273.5 1197.1,1269.9 1197.5,1276.4 1198.0,1276.9 1198.4,1270.3 1198.9,1275.1 1199.3,1276.9 1199.8,1275.9 1200.2,1271.5 1200.7,1270.5 1201.2,1273.8 1201.6,1272.9 1202.1,1274.2 1202.5,1274.1 1203.0,1275.8 1203.4,1273.1 1203.9,1274.2 1204.3,1282.1 1204.8,1274.5 1205.2,1276.7 1205.7,1275.7 1206.2,1275.6 1206.6,1272.8 1207.1,1276.5 1207.5,1275.2 1208.0,1277.4 1208.4,1280.6 1208.9,1276.0 1209.3,1277.5 1209.8,1273.1 1210.3,1276.1 1210.7,1279.7 1211.2,1275.8 1211.6,1274.4 1212.1,1276.6 1212.5,1275.7 1213.0,1275.7 1213.4,1275.4 1213.9,1281.4 1214.3,1274.3 1214.8,1275.6 1215.3,1275.2 1215.7,1279.8 1216.2,1276.1 1216.6,1280.2 1217.1,1277.4 1217.5,1277.0 1218.0,1273.5 1218.4,1280.2 1218.9,1278.6 1219.3,1278.4 1219.8,1277.1 1220.3,1276.5 1220.7,1274.4 1221.2,1280.0 1221.6,1278.4 1222.1,1276.9 1222.5,1276.3 1223.0,1278.2 1223.4,1277.8 1223.9,1282.2 1224.3,1280.1 1224.8,1276.7 1225.3,1275.5 1225.7,1277.8 1226.2,1276.1 1226.6,1278.7 1227.1,1279.6 1227.5,1280.2 1228.0,1279.7 1228.4,1278.3 1228.9,1280.3 1229.3,1276.6 1229.8,1278.7 1230.3,1281.0 1230.7,1279.8 1231.2,1275.9 1231.6,1276.3 1232.1,1275.2 1232.5,1283.8 1233.0,1275.5 1233.4,1279.1 1233.9,1284.1 1234.4,1282.2 1234.8,1282.9 1235.3,1278.4 1235.7,1281.6 1236.2,1287.4 1236.6,1279.7 1237.1,1280.9 1237.5,1279.1 1238.0,1279.9 1238.4,1281.0 1238.9,1283.5 1239.4,1277.9 1239.8,1276.6 1240.3,1280.3 1240.7,1280.8 1241.2,1283.9 1241.6,1282.2 1242.1,1278.9 1242.5,1281.9 1243.0,1283.3 1243.4,1281.3 1243.9,1279.8 1244.4,1282.4 1244.8,1279.8 1245.3,1276.1 1245.7,1284.1 1246.2,1277.6 1246.6,1280.1 1247.1,1280.2 1247.5,1280.2 1248.0,1280.3 1248.4,1277.5 1248.9,1282.5 1249.4,1281.3 1249.8,1281.4 1250.3,1284.0 1250.7,1284.1 1251.2,1284.7 1251.6,1286.1 1252.1,1282.6 1252.5,1277.7 1253.0,1282.1 1253.4,1281.7 1253.9,1281.9 1254.4,1280.2 1254.8,1279.6 1255.3,1283.8 1255.7,1284.3 1256.2,1279.1 1256.6,1283.3 1257.1,1281.6 1257.5,1281.1 1258.0,1283.8 1258.5,1282.0 1258.9,1280.8 1259.4,1282.4 1259.8,1277.3 1260.3,1280.9 1260.7,1281.3 1261.2,1279.0 1261.6,1282.9 1262.1,1283.2 1262.5,1281.1 1263.0,1282.2 1263.5,1284.4 1263.9,1285.4 1264.4,1280.9 1264.8,1283.7 1265.3,1285.4 1265.7,1282.8 1266.2,1281.0 1266.6,1281.1 1267.1,1282.2 1267.5,1280.5 1268.0,1288.1 1268.5,1281.7 1268.9,1284.1 1269.4,1283.7 1269.8,1284.9 1270.3,1282.4 1270.7,1280.1 1271.2,1287.5 1271.6,1283.2 1272.1,1283.8 1272.5,1284.0 1273.0,1286.7 1273.5,1285.5 1273.9,1286.6 1274.4,1285.8 1274.8,1284.1 1275.3,1284.4 1275.7,1282.0 1276.2,1279.0 1276.6,1283.3 1277.1,1281.3 1277.5,1290.5 1278.0,1287.9 1278.5,1287.0 1278.9,1282.7 1279.4,1289.3 1279.8,1279.9 1280.3,1281.2 1280.7,1282.3 1281.2,1281.9 1281.6,1284.7 1282.1,1284.9 1282.6,1289.2 1283.0,1286.9 1283.5,1287.5 1283.9,1285.6 1284.4,1284.2 1284.8,1282.9 1285.3,1280.9 1285.7,1282.5 1286.2,1283.7 1286.6,1286.6 1287.1,1280.5 1287.6,1281.4 1288.0,1285.4 1288.5,1282.2 1288.9,1285.7 1289.4,1283.9 1289.8,1283.1 1290.3,1281.7 1290.7,1284.8 1291.2,1283.2 1291.6,1283.5 1292.1,1283.5 1292.6,1285.6 1293.0,1285.5 1293.5,1280.9 1293.9,1284.8 1294.4,1286.2 1294.8,1287.9 1295.3,1287.3 1295.7,1285.9 1296.2,1282.5 1296.6,1283.5 1297.1,1287.7 1297.6,1283.7 1298.0,1288.0 1298.5,1288.7 1298.9,1282.8 1299.4,1286.6 1299.8,1285.3 1300.3,1290.6 1300.7,1287.7 1301.2,1284.3 1301.6,1286.6 1302.1,1283.4 1302.6,1285.3 1303.0,1286.2 1303.5,1286.1 1303.9,1286.5 1304.4,1283.5 1304.8,1281.1 1305.3,1284.9 1305.7,1283.6 1306.2,1284.0 1306.7,1291.2 1307.1,1288.7 1307.6,1285.4 1308.0,1282.3 1308.5,1282.6 1308.9,1286.8 1309.4,1288.6 1309.8,1285.2 1310.3,1286.3 1310.7,1286.6 1311.2,1288.6 1311.7,1281.2 1312.1,1286.3 1312.6,1287.0 1313.0,1288.3 1313.5,1287.0 1313.9,1283.2 1314.4,1284.5 1314.8,1282.2 1315.3,1286.5 1315.7,1286.5 1316.2,1287.3 1316.7,1283.6 1317.1,1283.1 1317.6,1289.8 1318.0,1286.5 1318.5,1290.4 1318.9,1287.1 1319.4,1282.3 1319.8,1288.0 1320.3,1289.1 1320.7,1284.9 1321.2,1281.2 1321.7,1287.7 1322.1,1285.6 1322.6,1286.7 1323.0,1279.3 1323.5,1287.1 1323.9,1279.1 1324.4,1283.8 1324.8,1288.2 1325.3,1281.4 1325.8,1281.3 1326.2,1284.9 1326.7,1290.1 1327.1,1290.0 1327.6,1284.5 1328.0,1288.5 1328.5,1287.4 1328.9,1286.7 1329.4,1286.9 1329.8,1284.2 1330.3,1288.0 1330.8,1288.6 1331.2,1292.7 1331.7,1288.3 1332.1,1279.9 1332.6,1283.0 1333.0,1286.8 1333.5,1286.2 1333.9,1281.3 1334.4,1285.6 1334.8,1285.1 1335.3,1285.9 1335.8,1285.7 1336.2,1288.3 1336.7,1289.6 1337.1,1287.7 1337.6,1283.2 1338.0,1283.8 1338.5,1284.3 1338.9,1285.8 1339.4,1284.9 1339.8,1285.1 1340.3,1283.7 1340.8,1288.4 1341.2,1288.1 1341.7,1288.4 1342.1,1285.8 1342.6,1287.1 1343.0,1283.7 1343.5,1283.5 1343.9,1284.6 1344.4,1287.5 1344.8,1285.6 1345.3,1283.1 1345.8,1286.2 1346.2,1287.0 1346.7,1286.4 1347.1,1284.3 1347.6,1286.2 1348.0,1284.9 1348.5,1285.2 1348.9,1285.8 1349.4,1287.9 1349.9,1290.6 1350.3,1289.9 1350.8,1287.6 1351.2,1285.0 1351.7,1285.2 1352.1,1285.3 1352.6,1288.9 1353.0,1279.1 1353.5,1286.6 1353.9,1281.0 1354.4,1286.0 1354.9,1289.3 1355.3,1283.7 1355.8,1280.3 1356.2,1289.2 1356.7,1289.8 1357.1,1287.2 1357.6,1289.1 1358.0,1284.0 1358.5,1288.9 1358.9,1290.3 1359.4,1287.6 1359.9,1286.7 1360.3,1289.2 1360.8,1288.8 1361.2,1284.1 1361.7,1289.4 1362.1,1287.9 1362.6,1286.4 1363.0,1289.3 1363.5,1288.3 1363.9,1287.9 1364.4,1284.7 1364.9,1288.1 1365.3,1283.2 1365.8,1285.7 1366.2,1281.8 1366.7,1281.7 1367.1,1287.1 1367.6,1285.8 1368.0,1286.2 1368.5,1287.5 1368.9,1286.9 1369.4,1283.8 1369.9,1286.2 1370.3,1285.8 1370.8,1284.7 1371.2,1285.7 1371.7,1285.1 1372.1,1284.4 1372.6,1285.2 1373.0,1286.6 1373.5,1291.2 1374.0,1284.0 1374.4,1287.3 1374.9,1282.3 1375.3,1290.0 1375.8,1285.2 1376.2,1286.3 1376.7,1289.2 1377.1,1288.5 1377.6,1282.3 1378.0,1287.4 1378.5,1285.4 1379.0,1287.5 1379.4,1286.4 1379.9,1287.8 1380.3,1286.7 1380.8,1285.7 1381.2,1288.9 1381.7,1282.1 1382.1,1284.9 1382.6,1283.6 1383.0,1285.6 1383.5,1284.9 1384.0,1285.6 1384.4,1284.8 1384.9,1284.8 1385.3,1281.9 1385.8,1285.9 1386.2,1286.8 1386.7,1284.5 1387.1,1284.4 1387.6,1284.4 1388.0,1290.2 1388.5,1286.5 1389.0,1287.0 1389.4,1285.2 1389.9,1284.8 1390.3,1283.8 1390.8,1289.9 1391.2,1281.7 1391.7,1286.7 1392.1,1285.9 1392.6,1285.4 1393.0,1282.1 1393.5,1282.9 1394.0,1288.5 1394.4,1284.3 1394.9,1288.2 1395.3,1287.6 1395.8,1287.4 1396.2,1287.8 1396.7,1282.8 1397.1,1284.6 1397.6,1287.4 1398.1,1282.4 1398.5,1289.6 1399.0,1284.0 1399.4,1285.1 1399.9,1282.6 1400.3,1285.9 1400.8,1283.0 1401.2,1284.1 1401.7,1281.7 1402.1,1287.4 1402.6,1280.2 1403.1,1285.2 1403.5,1284.5 1404.0,1284.8 1404.4,1281.0 1404.9,1285.9 1405.3,1285.5 1405.8,1283.3 1406.2,1283.5 1406.7,1282.1 1407.1,1283.8 1407.6,1280.0 1408.1,1283.2 1408.5,1282.6 1409.0,1277.8 1409.4,1274.5 1409.9,1280.5 1410.3,1280.1 1410.8,1283.3 1411.2,1280.2 1411.7,1278.5 1412.1,1276.1 1412.6,1279.0 1413.1,1277.5 1413.5,1276.0 1414.0,1278.2 1414.4,1280.8 1414.9,1278.1 1415.3,1275.0 1415.8,1278.2 1416.2,1274.4 1416.7,1272.9 1417.1,1277.8 1417.6,1274.9 1418.1,1278.8 1418.5,1276.5 1419.0,1273.5 1419.4,1275.8 1419.9,1278.2 1420.3,1274.2 1420.8,1271.8 1421.2,1272.5 1421.7,1271.9 1422.2,1270.7 1422.6,1270.2 1423.1,1274.3 1423.5,1275.7 1424.0,1271.8 1424.4,1274.5 1424.9,1274.5 1425.3,1276.3 1425.8,1271.4 1426.2,1270.7 1426.7,1272.5 1427.2,1271.4 1427.6,1271.8 1428.1,1274.1 1428.5,1269.6 1429.0,1271.0 1429.4,1267.8 1429.9,1269.7 1430.3,1268.3 1430.8,1267.9 1431.2,1269.1 1431.7,1268.4 1432.2,1270.3 1432.6,1271.3 1433.1,1265.5 1433.5,1271.6 1434.0,1263.4 1434.4,1269.5 1434.9,1270.6 1435.3,1267.1 1435.8,1268.1 1436.2,1266.7 1436.7,1270.8 1437.2,1260.6 1437.6,1266.0 1438.1,1263.5 1438.5,1268.8 1439.0,1271.5 1439.4,1271.2 1439.9,1269.8 1440.3,1268.7 1440.8,1266.1 1441.2,1271.0 1441.7,1269.5 1442.2,1265.8 1442.6,1264.6 1443.1,1266.2 1443.5,1270.5 1444.0,1270.8 1444.4,1271.7 1444.9,1265.7 1445.3,1266.7 1445.8,1271.0 1446.3,1268.1 1446.7,1269.4 1447.2,1264.1 1447.6,1266.5 1448.1,1267.3 1448.5,1266.4 1449.0,1266.3 1449.4,1263.2 1449.9,1271.3 1450.3,1267.5 1450.8,1263.5 1451.3,1269.8 1451.7,1267.2 1452.2,1268.8 1452.6,1266.5 1453.1,1265.0 1453.5,1265.0 1454.0,1267.7 1454.4,1268.7 1454.9,1268.0 1455.3,1268.3 1455.8,1269.6 1456.3,1267.3 1456.7,1269.0 1457.2,1269.2 1457.6,1267.1 1458.1,1266.1 1458.5,1265.2 1459.0,1263.2 1459.4,1262.2 1459.9,1269.3 1460.3,1265.9 1460.8,1264.5 1461.3,1269.7 1461.7,1268.1 1462.2,1265.7 1462.6,1268.0 1463.1,1264.9 1463.5,1266.1 1464.0,1269.6 1464.4,1267.6 1464.9,1264.1 1465.3,1266.4 1465.8,1267.4 1466.3,1264.0 1466.7,1263.0 1467.2,1268.5 1467.6,1262.9 1468.1,1260.1 1468.5,1263.5 1469.0,1268.6 1469.4,1264.2 1469.9,1264.8 1470.4,1256.7 1470.8,1260.4 1471.3,1264.5 1471.7,1260.2 1472.2,1264.1 1472.6,1261.7 1473.1,1261.1 1473.5,1263.9 1474.0,1258.0 1474.4,1257.7 1474.9,1258.7 1475.4,1258.5 1475.8,1253.1 1476.3,1259.6 1476.7,1256.3 1477.2,1254.3 1477.6,1255.3 1478.1,1251.6 1478.5,1254.4 1479.0,1250.3 1479.4,1250.7 1479.9,1245.4 1480.4,1245.5 1480.8,1245.8 1481.3,1241.2 1481.7,1240.4 1482.2,1240.4 1482.6,1241.6 1483.1,1239.0 1483.5,1237.6 1484.0,1234.2 1484.4,1233.8 1484.9,1233.5 1485.4,1228.0 1485.8,1226.7 1486.3,1225.0 1486.7,1216.5 1487.2,1219.3 1487.6,1218.5 1488.1,1217.2 1488.5,1212.4 1489.0,1213.4 1489.4,1207.2 1489.9,1206.1 1490.4,1208.4 1490.8,1198.5 1491.3,1199.3 1491.7,1196.8 1492.2,1194.5 1492.6,1191.0 1493.1,1191.6 1493.5,1184.9 1494.0,1181.8 1494.5,1183.7 1494.9,1176.9 1495.4,1178.0 1495.8,1174.3 1496.3,1169.6 1496.7,1167.5 1497.2,1165.2 1497.6,1163.6 1498.1,1158.0 1498.5,1156.2 1499.0,1150.3 1499.5,1150.4 1499.9,1143.7 1500.4,1145.8 1500.8,1142.3 1501.3,1146.4 1501.7,1142.3 1502.2,1136.7 1502.6,1137.7 1503.1,1134.6 1503.5,1129.5 1504.0,1124.9 1504.5,1132.3 1504.9,1129.0 1505.4,1121.7 1505.8,1126.8 1506.3,1126.1 1506.7,1120.8 1507.2,1123.1 1507.6,1115.6 1508.1,1118.1 1508.5,1117.5 1509.0,1118.3 1509.5,1116.2 1509.9,1114.7 1510.4,1114.6 1510.8,1110.7 1511.3,1115.2 1511.7,1109.9 1512.2,1112.1 1512.6,1109.5 1513.1,1108.4 1513.5,1110.1 1514.0,1109.5 1514.5,1111.5 1514.9,1110.8 1515.4,1106.7 1515.8,1109.6 1516.3,1109.0 1516.7,1107.3 1517.2,1107.2 1517.6,1111.4 1518.1,1110.4 1518.6,1109.3 1519.0,1113.6 1519.5,1115.7 1519.9,1116.7 1520.4,1114.8 1520.8,1117.9 1521.3,1124.2 1521.7,1120.5 1522.2,1123.2 1522.6,1131.4 1523.1,1128.1 1523.6,1127.6 1524.0,1125.7 1524.5,1132.9 1524.9,1130.3 1525.4,1135.4 1525.8,1135.1 1526.3,1135.2 1526.7,1145.7 1527.2,1143.7 1527.6,1148.8 1528.1,1151.0 1528.6,1150.0 1529.0,1154.8 1529.5,1156.4 1529.9,1162.5 1530.4,1163.9 1530.8,1164.6 1531.3,1172.3 1531.7,1172.0 1532.2,1174.2 1532.6,1173.4 1533.1,1178.5 1533.6,1175.7 1534.0,1182.2 1534.5,1180.3 1534.9,1184.7 1535.4,1185.2 1535.8,1188.1 1536.3,1190.0 1536.7,1190.5 1537.2,1192.1 1537.6,1190.0 1538.1,1190.4 1538.6,1199.7 1539.0,1199.4 1539.5,1195.5 1539.9,1205.2 1540.4,1199.7 1540.8,1203.8 1541.3,1204.5 1541.7,1204.5 1542.2,1206.4 1542.7,1201.9 1543.1,1205.7 1543.6,1205.4 1544.0,1206.3 1544.5,1205.6 1544.9,1204.8 1545.4,1204.7 1545.8,1208.9 1546.3,1204.6 1546.7,1207.8 1547.2,1207.9 1547.7,1206.8 1548.1,1208.2 1548.6,1208.6 1549.0,1206.0 1549.5,1208.3 1549.9,1212.3 1550.4,1204.9 1550.8,1206.9 1551.3,1205.8 1551.7,1212.7 1552.2,1204.3 1552.7,1207.9 1553.1,1210.2 1553.6,1205.7 1554.0,1207.6 1554.5,1206.2 1554.9,1204.6 1555.4,1207.8 1555.8,1209.2 1556.3,1207.0 1556.7,1208.4 1557.2,1209.7 1557.7,1211.0 1558.1,1204.9 1558.6,1209.5 1559.0,1206.4 1559.5,1203.3 1559.9,1206.1 1560.4,1209.6 1560.8,1208.8 1561.3,1205.3 1561.7,1212.0 1562.2,1209.0 1562.7,1207.8 1563.1,1206.6 1563.6,1209.0 1564.0,1207.0 1564.5,1210.8 1564.9,1208.8 1565.4,1209.5 1565.8,1207.2 1566.3,1204.3 1566.8,1209.3 1567.2,1205.5 1567.7,1207.7 1568.1,1208.0 1568.6,1206.1 1569.0,1210.3 1569.5,1204.7 1569.9,1212.3 1570.4,1207.5 1570.8,1211.9 1571.3,1213.3 1571.8,1208.7 1572.2,1209.8 1572.7,1214.9 1573.1,1214.0 1573.6,1214.8 1574.0,1211.1 1574.5,1212.7 1574.9,1219.4 1575.4,1222.9 1575.8,1218.8 1576.3,1219.8 1576.8,1223.8 1577.2,1225.8 1577.7,1227.4 1578.1,1226.3 1578.6,1224.0 1579.0,1233.8 1579.5,1230.3 1579.9,1236.1 1580.4,1229.3 1580.8,1236.5 1581.3,1235.7 1581.8,1235.7 1582.2,1242.4 1582.7,1244.8 1583.1,1241.7 1583.6,1246.3 1584.0,1243.4 1584.5,1245.8 1584.9,1248.0 1585.4,1249.0 1585.8,1252.6 1586.3,1249.2 1586.8,1255.7 1587.2,1256.8 1587.7,1254.9 1588.1,1253.6 1588.6,1251.7 1589.0,1258.5 1589.5,1257.8 1589.9,1260.9 1590.4,1259.0 1590.9,1262.6 1591.3,1263.4 1591.8,1264.5 1592.2,1266.2 1592.7,1267.1 1593.1,1269.8 1593.6,1266.4 1594.0,1271.1 1594.5,1270.7 1594.9,1270.2 1595.4,1269.8 1595.9,1276.8 1596.3,1274.7 1596.8,1273.7 1597.2,1276.0 1597.7,1276.6 1598.1,1276.1 1598.6,1274.7 1599.0,1279.1 1599.5,1279.0 1599.9,1279.2 1600.4,1282.9 1600.9,1277.7 1601.3,1279.1 1601.8,1282.4 1602.2,1284.5 1602.7,1284.5 1603.1,1285.2 1603.6,1278.4 1604.0,1285.5 1604.5,1285.8 1604.9,1286.9 1605.4,1283.9 1605.9,1287.3 1606.3,1288.9 1606.8,1290.8 1607.2,1287.8 1607.7,1284.3 1608.1,1288.1 1608.6,1289.9 1609.0,1289.9 1609.5,1293.7 1610.0,1288.8 1610.4,1287.0 1610.9,1288.3 1611.3,1291.7 1611.8,1288.4 1612.2,1288.1 1612.7,1288.8 1613.1,1294.1 1613.6,1291.9 1614.0,1290.7 1614.5,1293.8 1615.0,1293.5 1615.4,1289.6 1615.9,1294.2 1616.3,1292.9 1616.8,1287.3 1617.2,1289.6 1617.7,1293.3 1618.1,1294.0 1618.6,1292.2 1619.0,1290.6 1619.5,1293.7 1620.0,1288.7 1620.4,1294.7 1620.9,1293.1 1621.3,1293.5 1621.8,1292.1 1622.2,1295.8 1622.7,1288.1 1623.1,1291.8 1623.6,1295.5 1624.0,1292.4 1624.5,1297.8 1625.0,1295.4 1625.4,1292.5 1625.9,1297.2 1626.3,1294.3 1626.8,1296.1 1627.2,1293.2 1627.7,1293.3 1628.1,1296.6 1628.6,1295.2 1629.0,1293.2 1629.5,1292.9 1630.0,1296.8 1630.4,1299.6 1630.9,1293.2 1631.3,1297.1 1631.8,1288.3 1632.2,1292.1 1632.7,1297.2 1633.1,1299.6 1633.6,1295.9 1634.1,1297.1 1634.5,1296.5 1635.0,1298.4 1635.4,1293.3 1635.9,1297.6 1636.3,1295.0 1636.8,1295.3 1637.2,1296.2 1637.7,1295.8 1638.1,1294.4 1638.6,1295.8 1639.1,1294.1 1639.5,1300.2 1640.0,1298.3 1640.4,1295.6 1640.9,1300.6 1641.3,1300.0 1641.8,1298.1 1642.2,1295.6 1642.7,1297.6 1643.1,1298.5 1643.6,1300.6 1644.1,1296.8 1644.5,1295.9 1645.0,1303.0 1645.4,1300.9 1645.9,1298.3 1646.3,1295.3 1646.8,1298.9 1647.2,1300.5 1647.7,1299.7 1648.1,1300.0 1648.6,1298.1 1649.1,1300.9 1649.5,1296.7 1650.0,1297.2 1650.4,1297.1 1650.9,1296.8 1651.3,1303.3 1651.8,1294.4 1652.2,1299.2 1652.7,1296.3 1653.1,1295.7 1653.6,1299.1 1654.1,1295.1 1654.5,1298.8 1655.0,1304.8 1655.4,1299.0 1655.9,1300.4 1656.3,1297.3 1656.8,1300.7 1657.2,1295.9 1657.7,1300.1 1658.2,1299.4 1658.6,1305.2 1659.1,1299.7 1659.5,1299.1 1660.0,1298.7 1660.4,1297.2 1660.9,1302.1 1661.3,1303.9 1661.8,1299.5 1662.2,1302.2 1662.7,1299.7 1663.2,1301.6 1663.6,1301.9 1664.1,1297.3 1664.5,1299.0 1665.0,1303.3 1665.4,1296.3 1665.9,1301.2 1666.3,1300.4 1666.8,1299.0 1667.2,1301.5 1667.7,1302.3 1668.2,1302.9 1668.6,1295.1 1669.1,1305.9 1669.5,1300.7 1670.0,1304.5 1670.4,1301.7 1670.9,1300.6 1671.3,1302.0 1671.8,1310.2 1672.2,1306.2 1672.7,1301.6 1673.2,1303.1 1673.6,1305.4 1674.1,1304.1 1674.5,1303.0 1675.0,1302.3 1675.4,1300.2 1675.9,1304.9 1676.3,1305.8 1676.8,1308.7 1677.2,1301.8 1677.7,1304.9 1678.2,1303.3 1678.6,1306.6 1679.1,1303.3 1679.5,1302.0 1680.0,1299.4 1680.4,1305.5 1680.9,1304.2 1681.3,1306.7 1681.8,1302.6 1682.3,1310.5 1682.7,1302.3 1683.2,1305.4 1683.6,1305.2 1684.1,1307.0 1684.5,1303.9 1685.0,1302.1 1685.4,1302.0 1685.9,1306.6 1686.3,1304.8 1686.8,1305.5 1687.3,1302.7 1687.7,1305.1 1688.2,1305.4 1688.6,1306.4 1689.1,1301.3 1689.5,1303.1 1690.0,1309.3 1690.4,1304.1 1690.9,1304.9 1691.3,1304.2 1691.8,1301.5 1692.3,1302.6 1692.7,1306.2 1693.2,1303.7 1693.6,1310.5 1694.1,1301.7 1694.5,1300.6 1695.0,1304.5 1695.4,1302.5 1695.9,1309.0 1696.3,1304.6 1696.8,1307.0 1697.3,1302.1 1697.7,1307.4 1698.2,1307.3 1698.6,1308.9 1699.1,1306.3 1699.5,1307.1 1700.0,1306.2 1700.4,1308.2 1700.9,1304.8 1701.3,1307.3 1701.8,1304.5 1702.3,1307.7 1702.7,1305.2 1703.2,1304.3 1703.6,1304.3 1704.1,1309.6 1704.5,1302.1 1705.0,1302.3 1705.4,1307.6 1705.9,1303.5 1706.4,1304.8 1706.8,1304.7 1707.3,1311.7 1707.7,1304.3 1708.2,1304.2 1708.6,1305.0 1709.1,1306.5 1709.5,1307.2 1710.0,1302.3 1710.4,1307.1 1710.9,1310.8 1711.4,1301.5 1711.8,1307.3 1712.3,1307.8 1712.7,1306.3 1713.2,1305.4 1713.6,1300.0 1714.1,1308.8 1714.5,1305.0 1715.0,1305.3 1715.4,1308.9 1715.9,1299.9 1716.4,1305.6 1716.8,1307.2 1717.3,1307.5 1717.7,1307.2 1718.2,1310.8 1718.6,1306.4 1719.1,1308.2 1719.5,1307.5 1720.0,1301.9 1720.4,1303.6 1720.9,1310.7 1721.4,1304.8 1721.8,1305.3 1722.3,1302.2 1722.7,1304.6 1723.2,1302.1 1723.6,1303.8 1724.1,1306.7 1724.5,1303.2 1725.0,1303.7 1725.4,1308.6 1725.9,1306.4 1726.4,1306.4 1726.8,1307.6 1727.3,1303.7 1727.7,1304.1 1728.2,1299.9 1728.6,1306.8 1729.1,1304.4 1729.5,1304.9 1730.0,1302.1 1730.5,1306.4 1730.9,1306.3 1731.4,1305.2 1731.8,1300.7 1732.3,1302.5 1732.7,1304.5 1733.2,1302.5 1733.6,1305.5 1734.1,1307.0 1734.5,1302.5 1735.0,1303.9 1735.5,1302.6 1735.9,1306.9 1736.4,1306.5 1736.8,1310.8 1737.3,1304.2 1737.7,1301.8 1738.2,1305.1 1738.6,1303.4 1739.1,1304.4 1739.5,1307.0 1740.0,1303.1 1740.5,1305.6 1740.9,1298.4 1741.4,1306.3 1741.8,1304.0 1742.3,1303.0 1742.7,1302.3 1743.2,1307.0 1743.6,1302.1 1744.1,1306.5 1744.5,1302.0 1745.0,1303.4 1745.5,1304.1 1745.9,1308.2 1746.4,1303.7 1746.8,1303.6 1747.3,1302.8 1747.7,1302.2 1748.2,1301.3 1748.6,1307.3 1749.1,1306.4 1749.5,1301.0 1750.0,1303.0 1750.5,1299.6 1750.9,1304.9 1751.4,1304.2 1751.8,1302.7 1752.3,1300.3 1752.7,1304.2 1753.2,1303.8 1753.6,1301.7 1754.1,1303.9 1754.6,1298.7 1755.0,1300.5 1755.5,1299.5 1755.9,1302.1 1756.4,1305.9 1756.8,1301.8 1757.3,1304.5 1757.7,1301.5 1758.2,1300.5 1758.6,1304.0 1759.1,1302.7 1759.6,1304.9 1760.0,1303.7 1760.5,1299.2 1760.9,1294.8 1761.4,1301.4 1761.8,1298.1 1762.3,1297.4 1762.7,1297.2 1763.2,1299.2 1763.6,1300.2 1764.1,1300.7 1764.6,1305.7 1765.0,1297.5 1765.5,1300.4 1765.9,1297.3 1766.4,1297.8 1766.8,1300.4 1767.3,1301.2 1767.7,1296.9 1768.2,1302.9 1768.6,1297.7 1769.1,1302.3 1769.6,1299.7 1770.0,1302.0 1770.5,1301.1 1770.9,1298.9 1771.4,1300.8 1771.8,1296.1 1772.3,1296.1 1772.7,1298.4 1773.2,1302.7 1773.6,1297.3 1774.1,1297.6 1774.6,1303.1 1775.0,1299.0 1775.5,1298.8 1775.9,1296.1 1776.4,1298.7 1776.8,1300.0 1777.3,1298.3 1777.7,1300.2 1778.2,1299.0 1778.7,1300.7 1779.1,1300.0 1779.6,1297.5 1780.0,1299.9 1780.5,1302.2 1780.9,1298.3 1781.4,1294.4 1781.8,1297.8 1782.3,1296.7 1782.7,1303.6 1783.2,1298.8 1783.7,1294.1 1784.1,1296.2 1784.6,1300.2 1785.0,1293.5 1785.5,1295.1 1785.9,1296.2 1786.4,1295.7 1786.8,1294.4 1787.3,1296.1 1787.7,1292.1 1788.2,1294.1 1788.7,1293.9 1789.1,1294.5 1789.6,1294.4 1790.0,1295.0 1790.5,1293.9 1790.9,1293.6 1791.4,1295.3 1791.8,1296.5 1792.3,1296.4 1792.7,1290.9 1793.2,1294.1 1793.7,1295.1 1794.1,1292.3 1794.6,1293.9 1795.0,1291.9 1795.5,1293.2 1795.9,1288.2 1796.4,1293.0 1796.8,1290.4 1797.3,1289.6 1797.7,1290.5 1798.2,1293.6 1798.7,1293.4 1799.1,1291.6 1799.6,1293.1 1800.0,1289.9 1800.5,1288.0 1800.9,1286.6 1801.4,1291.5 1801.8,1291.6 1802.3,1292.4 1802.8,1292.9 1803.2,1296.3 1803.7,1291.5 1804.1,1292.4 1804.6,1299.6 1805.0,1297.3 1805.5,1295.1 1805.9,1291.3 1806.4,1294.7 1806.8,1296.3 1807.3,1297.3 1807.8,1298.3 1808.2,1297.4 1808.7,1301.1 1809.1,1295.4 1809.6,1297.9 1810.0,1297.1 1810.5,1300.9 1810.9,1299.5 1811.4,1301.3 1811.8,1299.6 1812.3,1309.0 1812.8,1301.6 1813.2,1298.1 1813.7,1300.1 1814.1,1299.3 1814.6,1302.3 1815.0,1303.0 1815.5,1301.7 1815.9,1300.4 1816.4,1299.4 1816.8,1305.2 1817.3,1304.1 1817.8,1294.1 1818.2,1301.7 1818.7,1299.6 1819.1,1300.9 1819.6,1306.1 1820.0,1299.2 1820.5,1299.5 1820.9,1308.4 1821.4,1301.1 1821.8,1301.8 1822.3,1305.3 1822.8,1301.3 1823.2,1302.7 1823.7,1303.3 1824.1,1306.3 1824.6,1298.8 1825.0,1300.8 1825.5,1302.6 1825.9,1305.2 1826.4,1301.4 1826.9,1304.1 1827.3,1301.7 1827.8,1302.0 1828.2,1306.2 1828.7,1302.4 1829.1,1310.4 1829.6,1303.9 1830.0,1305.8 1830.5,1304.8 1830.9,1299.0 1831.4,1299.0 1831.9,1304.1 1832.3,1300.0 1832.8,1301.4 1833.2,1301.9 1833.7,1300.4 1834.1,1305.6 1834.6,1304.5 1835.0,1302.9 1835.5,1303.8 1835.9,1300.1 1836.4,1304.5 1836.9,1300.1 1837.3,1306.1 1837.8,1300.4 1838.2,1300.6 1838.7,1304.8 1839.1,1303.5 1839.6,1299.4 1840.0,1303.2 1840.5,1301.6 1840.9,1301.5 1841.4,1302.9 1841.9,1302.8 1842.3,1303.8 1842.8,1302.3 1843.2,1301.8 1843.7,1300.7 1844.1,1304.5 1844.6,1298.8 1845.0,1305.4 1845.5,1305.9 1845.9,1305.8 1846.4,1299.9 1846.9,1305.4 1847.3,1302.9 1847.8,1302.6 1848.2,1308.1 1848.7,1300.2 1849.1,1301.0 1849.6,1296.4 1850.0,1293.8 1850.5,1300.0 1851.0,1300.2 1851.4,1300.8 1851.9,1299.7 1852.3,1293.8 1852.8,1299.7 1853.2,1301.4 1853.7,1302.4 1854.1,1296.0 1854.6,1296.0 1855.0,1296.4 1855.5,1296.4 1856.0,1293.9 1856.4,1296.1 1856.9,1301.7 1857.3,1295.0 1857.8,1292.8 1858.2,1296.7 1858.7,1296.0 1859.1,1298.9 1859.6,1295.2 1860.0,1296.5 1860.5,1294.8 1861.0,1294.3 1861.4,1297.6 1861.9,1296.9 1862.3,1296.3 1862.8,1297.6 1863.2,1294.1 1863.7,1296.1 1864.1,1296.5 1864.6,1298.8 1865.0,1291.0 1865.5,1294.7 1866.0,1296.5 1866.4,1293.8 1866.9,1295.4 1867.3,1296.7 1867.8,1296.0 1868.2,1290.4 1868.7,1291.5 1869.1,1287.3 1869.6,1295.9 1870.0,1294.6 1870.5,1297.3 1871.0,1294.0 1871.4,1290.8 1871.9,1296.2 1872.3,1290.1 1872.8,1293.2 1873.2,1292.6 1873.7,1294.9 1874.1,1295.1 1874.6,1291.6 1875.1,1290.7 1875.5,1292.3 1876.0,1290.8 1876.4,1294.6 1876.9,1293.0 1877.3,1295.4 1877.8,1298.4 1878.2,1289.5 1878.7,1290.1 1879.1,1292.7 1879.6,1292.4 1880.1,1290.4 1880.5,1286.9 1881.0,1297.5 1881.4,1291.2 1881.9,1288.0 1882.3,1284.8 1882.8,1294.3 1883.2,1291.6 1883.7,1290.7 1884.1,1288.0 1884.6,1290.3 1885.1,1289.6 1885.5,1284.2 1886.0,1297.2 1886.4,1291.6 1886.9,1289.6 1887.3,1288.1 1887.8,1289.0 1888.2,1296.7 1888.7,1291.6 1889.1,1287.3 1889.6,1293.0 1890.1,1292.1 1890.5,1292.3 1891.0,1290.8 1891.4,1290.8 1891.9,1291.9 1892.3,1291.0 1892.8,1288.2 1893.2,1289.4 1893.7,1292.1 1894.2,1288.2 1894.6,1292.1 1895.1,1291.9 1895.5,1294.7 1896.0,1293.5 1896.4,1292.6 1896.9,1292.8 1897.3,1294.8 1897.8,1296.3 1898.2,1291.5 1898.7,1290.5 1899.2,1292.7 1899.6,1289.0 1900.1,1293.0 1900.5,1297.3 1901.0,1297.9 1901.4,1299.5 1901.9,1296.0 1902.3,1296.5 1902.8,1294.8 1903.2,1295.3 1903.7,1297.5 1904.2,1299.4 1904.6,1298.4 1905.1,1292.5 1905.5,1299.1 1906.0,1298.2 1906.4,1296.9 1906.9,1299.1 1907.3,1301.3 1907.8,1299.6 1908.2,1297.8 1908.7,1308.3 1909.2,1298.6 1909.6,1301.7 1910.1,1304.0 1910.5,1299.0"/>
<polyline fill="none" stroke="#0000FF" stroke-width="4" stroke-linejoin="round" shape-rendering="crispEdges" points="319.0,1040.9 319.5,1038.7 319.9,1039.1 320.4,1032.8 320.8,1046.0 321.3,1044.1 321.7,1039.6 322.2,1043.0 322.6,1041.6 323.1,1039.0 323.5,1043.8 324.0,1039.9 324.5,1039.9 324.9,1038.6 325.4,1042.5 325.8,1040.9 326.3,1042.9 326.7,1039.4 327.2,1041.8 327.6,1038.7 328.1,1044.2 328.5,1042.2 329.0,1042.8 329.5,1043.1 329.9,1038.8 330.4,1044.4 330.8,1048.5 331.3,1037.1 331.7,1036.9 332.2,1037.7 332.6,1045.1 333.1,1043.0 333.6,1046.0 334.0,1045.0 334.5,1043.6 334.9,1043.9 335.4,1042.6 335.8,1045.9 336.3,1039.8 336.7,1042.1 337.2,1044.3 337.6,1049.2 338.1,1041.4 338.6,1040.5 339.0,1042.2 339.5,1047.1 339.9,1043.5 340.4,1048.4 340.8,1038.6 341.3,1048.0 341.7,1047.8 342.2,1040.4 342.6,1045.3 343.1,1048.7 343.6,1045.3 344.0,1048.3 344.5,1052.6 344.9,1046.2 345.4,1044.6 345.8,1043.2 346.3,1047.7 346.7,1045.2 347.2,1045.3 347.6,1045.7 348.1,1048.1 348.6,1042.9 349.0,1041.5 349.5,1038.8 349.9,1050.2 350.4,1046.8 350.8,1051.3 351.3,1046.7 351.7,1044.5 352.2,1048.4 352.6,1046.8 353.1,1043.2 353.6,1044.4 354.0,1052.7 354.5,1048.4 354.9,1048.7 355.4,1046.6 355.8,1045.4 356.3,1050.3 356.7,1047.3 357.2,1045.3 357.7,1047.3 358.1,1045.0 358.6,1048.4 359.0,1051.4 359.5,1045.4 359.9,1052.4 360.4,1046.0 360.8,1048.5 361.3,1045.5 361.7,1047.5 362.2,1048.3 362.7,1046.9 363.1,1046.1 363.6,1046.2 364.0,1045.8 364.5,1043.5 364.9,1047.6 365.4,1049.7 365.8,1051.3 366.3,1050.5 366.7,1056.2 367.2,1049.6 367.7,1047.2 368.1,1054.5 368.6,1045.4 369.0,1051.7 369.5,1045.8 369.9,1049.9 370.4,1042.7 370.8,1051.6 371.3,1048.4 371.7,1045.9 372.2,1054.1 372.7,1051.3 373.1,1049.1 373.6,1046.7 374.0,1048.9 374.5,1048.6 374.9,1051.4 375.4,1051.6 375.8,1047.1 376.3,1047.5 376.7,1047.6 377.2,1045.1 377.7,1047.4 378.1,1049.0 378.6,1051.5 379.0,1053.4 379.5,1046.9 379.9,1051.1 380.4,1048.0 380.8,1055.9 381.3,1049.3 381.8,1051.1 382.2,1046.6 382.7,1047.0 383.1,1050.2 383.6,1048.4 384.0,1050.7 384.5,1044.8 384.9,1051.7 385.4,1046.9 385.8,1055.0 386.3,1048.8 386.8,1053.2 387.2,1045.4 387.7,1051.1 388.1,1047.1 388.6,1048.3 389.0,1049.9 389.5,1048.9 389.9,1050.7 390.4,1052.2 390.8,1052.0 391.3,1049.7 391.8,1045.7 392.2,1047.5 392.7,1049.4 393.1,1043.5 393.6,1052.4 394.0,1049.3 394.5,1049.3 394.9,1053.0 395.4,1052.2 395.8,1050.8 396.3,1047.1 396.8,1051.1 397.2,1051.3 397.7,1047.5 398.1,1053.5 398.6,1051.8 399.0,1044.2 399.5,1050.7 399.9,1046.4 400.4,1053.8 400.8,1052.8 401.3,1046.9 401.8,1047.6 402.2,1050.7 402.7,1049.6 403.1,1055.1 403.6,1052.7 404.0,1049.6 404.5,1052.2 404.9,1044.2 405.4,1051.4 405.9,1053.2 406.3,1050.0 406.8,1048.3 407.2,1052.3 407.7,1056.6 408.1,1051.2 408.6,1047.1 409.0,1055.1 409.5,1044.8 409.9,1052.2 410.4,1048.9 410.9,1053.6 411.3,1048.1 411.8,1054.8 412.2,1051.7 412.7,1045.4 413.1,1044.6 413.6,1049.8 414.0,1054.8 414.5,1051.2 414.9,1051.0 415.4,1050.1 415.9,1053.1 416.3,1052.0 416.8,1051.7 417.2,1047.8 417.7,1054.6 418.1,1055.2 418.6,1046.9 419.0,1058.1 419.5,1053.2 419.9,1049.5 420.4,1045.1 420.9,1053.1 421.3,1052.8 421.8,1049.2 422.2,1045.5 422.7,1054.6 423.1,1049.3 423.6,1049.6 424.0,1059.9 424.5,1057.7 424.9,1054.1 425.4,1049.7 425.9,1053.2 426.3,1044.1 426.8,1051.5 427.2,1048.8 427.7,1047.2 428.1,1046.3 428.6,1052.9 429.0,1051.5 429.5,1051.8 430.0,1053.9 430.4,1048.7 430.9,1047.5 431.3,1045.8 431.8,1050.3 432.2,1053.7 432.7,1050.9 433.1,1053.3 433.6,1047.7 434.0,1049.9 434.5,1049.0 435.0,1047.5 435.4,1057.2 435.9,1054.0 436.3,1049.0 436.8,1049.0 437.2,1051.2 437.7,1047.0 438.1,1052.8 438.6,1047.4 439.0,1050.3 439.5,1048.3 440.0,1050.0 440.4,1047.3 440.9,1046.6 441.3,1048.5 441.8,1049.4 442.2,1050.6 442.7,1051.7 443.1,1056.2 443.6,1054.0 444.0,1050.7 444.5,1053.7 445.0,1049.4 445.4,1056.0 445.9,1053.2 446.3,1047.3 446.8,1053.8 447.2,1054.0 447.7,1043.2 448.1,1049.2 448.6,1050.0 449.0,1045.5 449.5,1048.2 450.0,1048.5 450.4,1053.0 450.9,1052.3 451.3,1059.5 451.8,1050.1 452.2,1054.9 452.7,1051.5 453.1,1052.1 453.6,1047.6 454.1,1045.3 454.5,1048.8 455.0,1053.5 455.4,1056.0 455.9,1052.9 456.3,1052.5 456.8,1048.3 457.2,1055.6 457.7,1055.0 458.1,1049.1 458.6,1050.5 459.1,1047.5 459.5,1055.1 460.0,1051.7 460.4,1050.1 460.9,1051.6 461.3,1051.6 461.8,1048.9 462.2,1046.2 462.7,1046.0 463.1,1044.5 463.6,1051.3 464.1,1056.6 464.5,1044.4 465.0,1050.0 465.4,1050.8 465.9,1046.4 466.3,1050.0 466.8,1045.8 467.2,1052.8 467.7,1047.2 468.1,1049.2 468.6,1050.9 469.1,1047.4 469.5,1043.1 470.0,1046.9 470.4,1050.8 470.9,1048.0 471.3,1048.9 471.8,1044.7 472.2,1048.4 472.7,1050.1 473.2,1047.8 473.6,1053.5 474.1,1046.9 474.5,1044.1 475.0,1042.2 475.4,1050.7 475.9,1046.8 476.3,1050.0 476.8,1048.2 477.2,1051.7 477.7,1050.4 478.2,1045.2 478.6,1047.1 479.1,1049.5 479.5,1042.2 480.0,1050.4 480.4,1049.5 480.9,1048.6 481.3,1044.7 481.8,1046.1 482.2,1041.5 482.7,1044.9 483.2,1042.7 483.6,1044.6 484.1,1042.5 484.5,1044.7 485.0,1047.2 485.4,1039.2 485.9,1045.9 486.3,1036.5 486.8,1035.7 487.2,1041.7 487.7,1041.8 488.2,1042.8 488.6,1036.0 489.1,1040.5 489.5,1040.8 490.0,1043.9 490.4,1039.3 490.9,1040.9 491.3,1035.7 491.8,1037.7 492.2,1036.4 492.7,1039.4 493.2,1033.6 493.6,1033.4 494.1,1037.2 494.5,1040.3 495.0,1035.3 495.4,1034.4 495.9,1031.7 496.3,1035.4 496.8,1033.0 497.3,1036.0 497.7,1031.0 498.2,1026.3 498.6,1026.8 499.1,1024.8 499.5,1023.3 500.0,1030.4 500.4,1028.3 500.9,1021.3 501.3,1030.0 501.8,1024.6 502.3,1020.3 502.7,1023.8 503.2,1021.7 503.6,1018.9 504.1,1014.6 504.5,1020.1 505.0,1020.2 505.4,1010.6 505.9,1019.7 506.3,1019.2 506.8,1015.2 507.3,1016.3 507.7,1014.4 508.2,1012.0 508.6,1012.9 509.1,1017.5 509.5,1008.2 510.0,1012.8 510.4,1011.9 510.9,1008.4 511.3,1008.5 511.8,1004.7 512.3,1005.6 512.7,1007.5 513.2,1007.6 513.6,1002.9 514.1,1014.4 514.5,1002.3 515.0,1003.6 515.4,1001.8 515.9,1000.5 516.3,1005.1 516.8,998.9 517.3,1003.9 517.7,1002.8 518.2,995.6 518.6,1001.7 519.1,996.2 519.5,1006.5 520.0,996.8 520.4,995.1 520.9,992.3 521.4,994.5 521.8,997.0 522.3,996.2 522.7,996.0 523.2,998.2 523.6,1000.4 524.1,1006.2 524.5,997.2 525.0,1001.5 525.4,1001.1 525.9,1000.2 526.4,1001.8 526.8,1003.8 527.3,1009.7 527.7,1007.7 528.2,1007.4 528.6,1011.8 529.1,1011.5 529.5,1010.6 530.0,1013.2 530.4,1010.1 530.9,1015.2 531.4,1015.4 531.8,1013.3 532.3,1011.5 532.7,1020.6 533.2,1016.9 533.6,1026.7 534.1,1015.9 534.5,1021.2 535.0,1017.9 535.4,1020.6 535.9,1023.0 536.4,1018.6 536.8,1021.3 537.3,1022.7 537.7,1023.1 538.2,1025.1 538.6,1026.9 539.1,1026.8 539.5,1025.5 540.0,1024.0 540.4,1022.1 540.9,1023.7 541.4,1024.8 541.8,1029.0 542.3,1026.1 542.7,1023.8 543.2,1030.0 543.6,1026.0 544.1,1026.5 544.5,1028.5 545.0,1031.0 545.5,1022.5 545.9,1026.8 546.4,1031.2 546.8,1029.9 547.3,1028.7 547.7,1030.0 548.2,1036.3 548.6,1030.9 549.1,1034.9 549.5,1035.4 550.0,1031.9 550.5,1035.0 550.9,1032.5 551.4,1032.4 551.8,1031.1 552.3,1037.6 552.7,1034.0 553.2,1033.8 553.6,1032.3 554.1,1041.7 554.5,1038.7 555.0,1036.3 555.5,1034.9 555.9,1032.6 556.4,1038.5 556.8,1038.8 557.3,1033.8 557.7,1042.1 558.2,1041.2 558.6,1036.0 559.1,1037.6 559.5,1038.2 560.0,1040.3 560.5,1039.6 560.9,1035.2 561.4,1045.0 561.8,1041.7 562.3,1044.8 562.7,1044.9 563.2,1040.6 563.6,1042.4 564.1,1043.8 564.5,1044.1 565.0,1041.3 565.5,1040.0 565.9,1042.2 566.4,1039.7 566.8,1040.6 567.3,1036.2 567.7,1042.9 568.2,1039.5 568.6,1041.1 569.1,1042.8 569.6,1044.1 570.0,1049.1 570.5,1044.0 570.9,1039.1 571.4,1044.0 571.8,1041.8 572.3,1045.0 572.7,1041.8 573.2,1041.8 573.6,1042.5 574.1,1042.3 574.6,1038.6 575.0,1042.3 575.5,1044.5 575.9,1048.3 576.4,1043.8 576.8,1043.6 577.3,1046.7 577.7,1046.7 578.2,1050.0 578.6,1047.0 579.1,1045.2 579.6,1049.5 580.0,1050.2 580.5,1044.0 580.9,1046.1 581.4,1040.5 581.8,1044.6 582.3,1043.1 582.7,1045.3 583.2,1044.5 583.6,1045.6 584.1,1045.8 584.6,1047.8 585.0,1047.0 585.5,1044.6 585.9,1042.5 586.4,1050.4 586.8,1051.0 587.3,1045.3 587.7,1048.5 588.2,1042.1 588.6,1042.1 589.1,1046.1 589.6,1051.6 590.0,1043.9 590.5,1044.6 590.9,1052.2 591.4,1041.4 591.8,1049.4 592.3,1049.0 592.7,1046.9 593.2,1048.2 593.7,1055.8 594.1,1044.2 594.6,1046.8 595.0,1047.1 595.5,1045.8 595.9,1043.8 596.4,1053.0 596.8,1048.8 597.3,1042.7 597.7,1046.1 598.2,1049.6 598.7,1049.6 599.1,1044.0 599.6,1048.2 600.0,1049.4 600.5,1049.8 600.9,1049.9 601.4,1043.1 601.8,1054.6 602.3,1049.5 602.7,1054.6 603.2,1057.9 603.7,1048.6 604.1,1045.3 604.6,1051.9 605.0,1048.7 605.5,1048.0 605.9,1046.2 606.4,1054.7 606.8,1048.2 607.3,1045.3 607.7,1048.3 608.2,1046.2 608.7,1050.3 609.1,1048.6 609.6,1046.7 610.0,1051.9 610.5,1048.1 610.9,1052.4 611.4,1054.1 611.8,1049.2 612.3,1048.3 612.7,1051.0 613.2,1053.2 613.7,1050.5 614.1,1051.0 614.6,1050.6 615.0,1051.7 615.5,1052.7 615.9,1048.7 616.4,1049.4 616.8,1051.1 617.3,1049.0 617.8,1051.5 618.2,1052.8 618.7,1051.1 619.1,1049.4 619.6,1048.9 620.0,1056.8 620.5,1054.2 620.9,1048.0 621.4,1049.0 621.8,1057.4 622.3,1056.4 622.8,1052.2 623.2,1055.4 623.7,1047.3 624.1,1051.9 624.6,1054.3 625.0,1046.3 625.5,1049.7 625.9,1054.6 626.4,1055.7 626.8,1050.4 627.3,1053.2 627.8,1057.4 628.2,1051.3 628.7,1048.4 629.1,1052.4 629.6,1051.4 630.0,1056.7 630.5,1053.2 630.9,1050.3 631.4,1060.3 631.8,1051.3 632.3,1054.4 632.8,1055.1 633.2,1055.5 633.7,1053.7 634.1,1055.0 634.6,1053.0 635.0,1048.9 635.5,1052.7 635.9,1052.8 636.4,1052.9 636.8,1053.9 637.3,1051.6 637.8,1057.7 638.2,1058.5 638.7,1046.9 639.1,1053.8 639.6,1051.6 640.0,1045.8 640.5,1055.2 640.9,1052.1 641.4,1052.9 641.9,1052.1 642.3,1057.5 642.8,1058.0 643.2,1055.1 643.7,1056.4 644.1,1054.0 644.6,1054.8 645.0,1052.1 645.5,1054.6 645.9,1052.3 646.4,1055.8 646.9,1057.2 647.3,1055.7 647.8,1058.4 648.2,1063.1 648.7,1048.3 649.1,1054.9 649.6,1053.2 650.0,1053.6 650.5,1050.8 650.9,1055.3 651.4,1054.3 651.9,1053.2 652.3,1054.5 652.8,1053.5 653.2,1048.1 653.7,1058.7 654.1,1054.5 654.6,1052.5 655.0,1056.5 655.5,1053.5 655.9,1048.9 656.4,1058.4 656.9,1050.5 657.3,1055.1 657.8,1056.2 658.2,1060.0 658.7,1059.6 659.1,1056.5 659.6,1053.6 660.0,1054.8 660.5,1059.5 660.9,1061.7 661.4,1057.9 661.9,1054.2 662.3,1059.5 662.8,1055.2 663.2,1055.1 663.7,1055.6 664.1,1058.3 664.6,1057.4 665.0,1059.6 665.5,1060.6 666.0,1058.2 666.4,1049.5 666.9,1051.5 667.3,1057.3 667.8,1056.6 668.2,1063.6 668.7,1056.8 669.1,1056.5 669.6,1059.9 670.0,1060.4 670.5,1056.4 671.0,1058.6 671.4,1053.7 671.9,1054.3 672.3,1061.1 672.8,1053.0 673.2,1060.2 673.7,1059.5 674.1,1059.8 674.6,1060.3 675.0,1059.3 675.5,1050.9 676.0,1054.5 676.4,1055.8 676.9,1060.5 677.3,1054.3 677.8,1055.6 678.2,1056.7 678.7,1062.0 679.1,1053.5 679.6,1053.8 680.0,1059.9 680.5,1051.5 681.0,1059.1 681.4,1056.7 681.9,1053.3 682.3,1056.9 682.8,1055.2 683.2,1058.8 683.7,1059.5 684.1,1063.0 684.6,1058.4 685.0,1058.8 685.5,1056.7 686.0,1058.5 686.4,1061.9 686.9,1052.7 687.3,1060.8 687.8,1057.1 688.2,1059.0 688.7,1059.9 689.1,1061.5 689.6,1059.7 690.1,1057.8 690.5,1060.0 691.0,1059.1 691.4,1058.5 691.9,1059.8 692.3,1061.9 692.8,1059.7 693.2,1059.8 693.7,1055.4 694.1,1059.0 694.6,1053.7 695.1,1061.8 695.5,1056.7 696.0,1063.6 696.4,1068.9 696.9,1058.5 697.3,1063.9 697.8,1061.1 698.2,1058.1 698.7,1057.3 699.1,1061.7 699.6,1064.3 700.1,1061.1 700.5,1055.4 701.0,1056.9 701.4,1059.5 701.9,1064.4 702.3,1061.2 702.8,1061.3 703.2,1064.1 703.7,1059.8 704.1,1060.2 704.6,1060.0 705.1,1055.1 705.5,1062.1 706.0,1061.9 706.4,1063.7 706.9,1057.1 707.3,1058.3 707.8,1063.7 708.2,1061.9 708.7,1065.2 709.1,1058.3 709.6,1061.6 710.1,1059.0 710.5,1062.1 711.0,1059.6 711.4,1062.9 711.9,1064.6 712.3,1063.4 712.8,1055.7 713.2,1064.3 713.7,1062.8 714.2,1058.2 714.6,1058.7 715.1,1061.6 715.5,1063.3 716.0,1060.2 716.4,1056.6 716.9,1062.6 717.3,1062.2 717.8,1069.3 718.2,1057.8 718.7,1069.7 719.2,1067.3 719.6,1062.9 720.1,1067.1 720.5,1062.3 721.0,1065.0 721.4,1059.8 721.9,1062.3 722.3,1059.0 722.8,1057.3 723.2,1061.3 723.7,1060.2 724.2,1064.0 724.6,1066.2 725.1,1061.8 725.5,1062.5 726.0,1063.0 726.4,1057.2 726.9,1063.3 727.3,1062.5 727.8,1062.3 728.2,1059.1 728.7,1056.4 729.2,1061.8 729.6,1063.6 730.1,1066.8 730.5,1066.1 731.0,1067.2 731.4,1063.8 731.9,1066.3 732.3,1062.1 732.8,1064.7 733.2,1065.7 733.7,1071.1 734.2,1063.6 734.6,1058.9 735.1,1067.1 735.5,1060.4 736.0,1062.7 736.4,1062.0 736.9,1060.1 737.3,1067.0 737.8,1064.8 738.3,1061.0 738.7,1063.2 739.2,1061.6 739.6,1064.9 740.1,1061.8 740.5,1060.6 741.0,1061.0 741.4,1061.6 741.9,1063.9 742.3,1060.1 742.8,1062.7 743.3,1064.4 743.7,1070.2 744.2,1065.7 744.6,1053.7 745.1,1061.4 745.5,1061.7 746.0,1063.9 746.4,1067.7 746.9,1065.1 747.3,1055.6 747.8,1063.6 748.3,1062.9 748.7,1063.8 749.2,1066.6 749.6,1059.0 750.1,1065.7 750.5,1057.0 751.0,1062.2 751.4,1063.1 751.9,1068.9 752.3,1059.5 752.8,1056.3 753.3,1063.6 753.7,1059.3 754.2,1066.1 754.6,1058.9 755.1,1058.3 755.5,1064.7 756.0,1061.0 756.4,1063.8 756.9,1056.1 757.4,1065.6 757.8,1058.5 758.3,1062.8 758.7,1057.0 759.2,1055.2 759.6,1059.2 760.1,1060.4 760.5,1064.7 761.0,1060.8 761.4,1061.8 761.9,1061.6 762.4,1069.1 762.8,1056.8 763.3,1063.2 763.7,1058.7 764.2,1059.9 764.6,1057.3 765.1,1062.5 765.5,1054.9 766.0,1054.6 766.4,1057.9 766.9,1054.8 767.4,1060.5 767.8,1061.0 768.3,1055.7 768.7,1060.3 769.2,1055.7 769.6,1057.4 770.1,1057.4 770.5,1063.0 771.0,1057.0 771.4,1054.0 771.9,1053.7 772.4,1059.9 772.8,1050.7 773.3,1054.0 773.7,1053.9 774.2,1047.1 774.6,1052.8 775.1,1056.9 775.5,1054.0 776.0,1050.0 776.4,1054.4 776.9,1053.3 777.4,1057.4 777.8,1048.2 778.3,1048.7 778.7,1049.5 779.2,1048.3 779.6,1048.4 780.1,1047.1 780.5,1044.5 781.0,1040.9 781.5,1043.3 781.9,1039.7 782.4,1039.8 782.8,1040.4 783.3,1042.6 783.7,1042.7 784.2,1035.8 784.6,1039.0 785.1,1039.6 785.5,1036.1 786.0,1030.3 786.5,1027.9 786.9,1036.2 787.4,1035.7 787.8,1032.9 788.3,1028.0 788.7,1035.0 789.2,1033.4 789.6,1028.7 790.1,1027.4 790.5,1021.3 791.0,1029.0 791.5,1020.9 791.9,1027.4 792.4,1026.9 792.8,1024.3 793.3,1028.3 793.7,1021.8 794.2,1024.1 794.6,1024.1 795.1,1021.8 795.5,1019.1 796.0,1023.6 796.5,1020.5 796.9,1018.0 797.4,1017.5 797.8,1017.9 798.3,1024.1 798.7,1017.0 799.2,1015.6 799.6,1012.7 800.1,1012.0 800.5,1009.8 801.0,1016.3 801.5,1015.8 801.9,1012.6 802.4,1011.4 802.8,1015.2 803.3,1014.9 803.7,1012.7 804.2,1018.2 804.6,1018.2 805.1,1018.0 805.6,1021.1 806.0,1017.2 806.5,1023.9 806.9,1017.0 807.4,1022.3 807.8,1023.3 808.3,1021.2 808.7,1023.8 809.2,1019.6 809.6,1019.7 810.1,1024.7 810.6,1024.0 811.0,1029.0 811.5,1028.2 811.9,1030.9 812.4,1030.9 812.8,1031.3 813.3,1031.8 813.7,1031.1 814.2,1031.5 814.6,1040.0 815.1,1029.0 815.6,1034.6 816.0,1039.0 816.5,1037.8 816.9,1041.6 817.4,1039.6 817.8,1034.6 818.3,1038.1 818.7,1035.3 819.2,1043.3 819.6,1045.2 820.1,1039.9 820.6,1043.4 821.0,1040.9 821.5,1038.2 821.9,1041.7 822.4,1038.7 822.8,1042.3 823.3,1045.1 823.7,1047.1 824.2,1049.3 824.6,1044.7 825.1,1046.8 825.6,1047.8 826.0,1048.6 826.5,1038.4 826.9,1045.2 827.4,1050.4 827.8,1044.8 828.3,1049.4 828.7,1051.5 829.2,1043.4 829.7,1049.0 830.1,1050.6 830.6,1050.2 831.0,1045.8 831.5,1051.9 831.9,1049.3 832.4,1053.9 832.8,1053.0 833.3,1050.3 833.7,1052.8 834.2,1050.4 834.7,1050.7 835.1,1048.2 835.6,1052.6 836.0,1056.1 836.5,1054.1 836.9,1053.8 837.4,1052.0 837.8,1052.3 838.3,1056.2 838.7,1049.3 839.2,1060.3 839.7,1053.6 840.1,1060.5 840.6,1057.3 841.0,1052.3 841.5,1055.8 841.9,1054.2 842.4,1054.7 842.8,1055.6 843.3,1051.3 843.7,1051.0 844.2,1051.5 844.7,1048.4 845.1,1051.6 845.6,1053.0 846.0,1052.9 846.5,1052.6 846.9,1050.6 847.4,1054.1 847.8,1045.1 848.3,1050.1 848.7,1050.1 849.2,1053.8 849.7,1052.9 850.1,1053.1 850.6,1050.5 851.0,1053.3 851.5,1047.0 851.9,1050.2 852.4,1043.2 852.8,1054.9 853.3,1054.3 853.8,1047.3 854.2,1046.4 854.7,1042.3 855.1,1043.8 855.6,1048.7 856.0,1047.6 856.5,1043.3 856.9,1046.1 857.4,1045.3 857.8,1048.5 858.3,1049.0 858.8,1045.9 859.2,1046.6 859.7,1045.9 860.1,1039.2 860.6,1045.9 861.0,1044.8 861.5,1046.9 861.9,1038.5 862.4,1046.1 862.8,1041.3 863.3,1043.7 863.8,1046.1 864.2,1037.3 864.7,1037.3 865.1,1043.9 865.6,1036.8 866.0,1036.8 866.5,1041.2 866.9,1038.1 867.4,1040.7 867.8,1038.7 868.3,1037.1 868.8,1039.8 869.2,1043.0 869.7,1035.4 870.1,1039.7 870.6,1038.1 871.0,1034.4 871.5,1034.9 871.9,1030.0 872.4,1030.5 872.8,1032.7 873.3,1031.1 873.8,1034.7 874.2,1026.1 874.7,1028.6 875.1,1026.9 875.6,1027.9 876.0,1031.4 876.5,1023.4 876.9,1029.2 877.4,1024.1 877.9,1024.4 878.3,1027.9 878.8,1023.3 879.2,1025.7 879.7,1023.3 880.1,1021.9 880.6,1020.7 881.0,1015.8 881.5,1018.3 881.9,1020.5 882.4,1020.1 882.9,1014.2 883.3,1021.4 883.8,1019.5 884.2,1013.1 884.7,1013.3 885.1,1017.5 885.6,1010.0 886.0,1012.6 886.5,1014.2 886.9,1013.5 887.4,1013.2 887.9,1014.1 888.3,1009.9 888.8,1010.4 889.2,1017.8 889.7,1006.6 890.1,1009.1 890.6,1010.4 891.0,1007.6 891.5,1012.9 891.9,1008.9 892.4,1010.5 892.9,999.6 893.3,1010.9 893.8,1010.3 894.2,1003.9 894.7,1009.8 895.1,1006.0 895.6,1007.5 896.0,1009.7 896.5,1003.9 896.9,999.8 897.4,1002.3 897.9,997.8 898.3,998.6 898.8,998.1 899.2,997.5 899.7,1002.6 900.1,1000.9 900.6,994.7 901.0,1000.2 901.5,990.7 902.0,993.0 902.4,993.7 902.9,996.9 903.3,994.3 903.8,992.2 904.2,993.4 904.7,990.1 905.1,990.4 905.6,982.0 906.0,977.5 906.5,979.6 907.0,981.6 907.4,978.0 907.9,978.1 908.3,975.7 908.8,973.3 909.2,972.4 909.7,965.7 910.1,969.4 910.6,960.8 911.0,961.5 911.5,955.3 912.0,958.9 912.4,950.2 912.9,956.8 913.3,945.5 913.8,947.4 914.2,942.8 914.7,937.1 915.1,940.2 915.6,931.5 916.0,934.0 916.5,922.9 917.0,920.1 917.4,912.8 917.9,917.1 918.3,914.7 918.8,909.0 919.2,904.4 919.7,898.6 920.1,905.6 920.6,897.5 921.0,886.4 921.5,888.2 922.0,878.1 922.4,888.2 922.9,886.8 923.3,882.7 923.8,875.7 924.2,871.9 924.7,867.3 925.1,871.1 925.6,865.0 926.1,864.3 926.5,861.9 927.0,861.7 927.4,864.7 927.9,867.1 928.3,863.1 928.8,864.1 929.2,862.6 929.7,864.8 930.1,868.3 930.6,877.7 931.1,879.2 931.5,885.1 932.0,887.0 932.4,888.0 932.9,889.0 933.3,896.1 933.8,897.6 934.2,913.3 934.7,912.9 935.1,915.8 935.6,927.6 936.1,924.1 936.5,930.7 937.0,932.0 937.4,937.0 937.9,937.9 938.3,943.8 938.8,949.8 939.2,944.5 939.7,944.5 940.1,958.6 940.6,957.8 941.1,962.9 941.5,962.0 942.0,970.5 942.4,974.0 942.9,967.2 943.3,975.4 943.8,973.8 944.2,973.0 944.7,979.3 945.1,984.2 945.6,980.2 946.1,982.6 946.5,992.5 947.0,990.8 947.4,994.0 947.9,991.3 948.3,995.0 948.8,999.6 949.2,1002.0 949.7,1004.2 950.2,1011.0 950.6,1008.8 951.1,1005.7 951.5,1010.0 952.0,1014.7 952.4,1021.0 952.9,1016.8 953.3,1019.7 953.8,1022.7 954.2,1022.2 954.7,1023.4 955.2,1026.7 955.6,1031.8 956.1,1031.3 956.5,1029.9 957.0,1033.0 957.4,1028.6 957.9,1036.7 958.3,1036.7 958.8,1036.2 959.2,1030.9 959.7,1043.2 960.2,1028.4 960.6,1035.1 961.1,1036.1 961.5,1041.8 962.0,1035.6 962.4,1041.7 962.9,1041.1 963.3,1041.2 963.8,1045.4 964.2,1047.7 964.7,1045.1 965.2,1043.5 965.6,1037.8 966.1,1050.0 966.5,1045.0 967.0,1040.6 967.4,1047.4 967.9,1051.9 968.3,1047.4 968.8,1044.7 969.2,1055.9 969.7,1051.2 970.2,1050.9 970.6,1053.5 971.1,1043.9 971.5,1051.0 972.0,1051.2 972.4,1059.2 972.9,1050.8 973.3,1051.3 973.8,1049.1 974.3,1051.3 974.7,1053.6 975.2,1055.5 975.6,1054.5 976.1,1061.8 976.5,1057.4 977.0,1058.3 977.4,1060.9 977.9,1059.0 978.3,1055.7 978.8,1052.8 979.3,1059.1 979.7,1055.7 980.2,1062.7 980.6,1056.5 981.1,1052.2 981.5,1059.6 982.0,1063.1 982.4,1059.3 982.9,1060.8 983.3,1060.9 983.8,1066.1 984.3,1061.9 984.7,1061.1 985.2,1059.5 985.6,1056.5 986.1,1066.4 986.5,1065.8 987.0,1059.4 987.4,1064.6 987.9,1064.0 988.3,1062.0 988.8,1062.4 989.3,1066.0 989.7,1060.1 990.2,1062.5 990.6,1064.1 991.1,1064.5 991.5,1064.1 992.0,1065.6 992.4,1066.8 992.9,1062.5 993.3,1065.8 993.8,1064.1 994.3,1070.7 994.7,1061.7 995.2,1065.5 995.6,1068.6 996.1,1065.7 996.5,1065.7 997.0,1065.1 997.4,1068.0 997.9,1063.4 998.4,1066.9 998.8,1067.0 999.3,1062.8 999.7,1068.3 1000.2,1066.1 1000.6,1068.6 1001.1,1070.4 1001.5,1068.8 1002.0,1064.0 1002.4,1068.8 1002.9,1062.7 1003.4,1065.3 1003.8,1073.0 1004.3,1067.7 1004.7,1072.5 1005.2,1066.9 1005.6,1067.5 1006.1,1063.8 1006.5,1070.2 1007.0,1066.4 1007.4,1068.9 1007.9,1068.1 1008.4,1068.2 1008.8,1067.4 1009.3,1066.0 1009.7,1065.9 1010.2,1063.5 1010.6,1058.8 1011.1,1066.8 1011.5,1071.5 1012.0,1068.1 1012.4,1071.7 1012.9,1065.6 1013.4,1060.8 1013.8,1060.4 1014.3,1065.5 1014.7,1063.9 1015.2,1061.9 1015.6,1064.4 1016.1,1059.0 1016.5,1063.0 1017.0,1060.1 1017.4,1061.0 1017.9,1063.9 1018.4,1059.3 1018.8,1063.6 1019.3,1063.0 1019.7,1056.0 1020.2,1065.3 1020.6,1053.6 1021.1,1056.7 1021.5,1058.9 1022.0,1048.9 1022.5,1058.9 1022.9,1058.7 1023.4,1054.2 1023.8,1054.8 1024.3,1053.9 1024.7,1051.7 1025.2,1054.8 1025.6,1049.3 1026.1,1049.3 1026.5,1049.4 1027.0,1049.8 1027.5,1049.3 1027.9,1039.9 1028.4,1036.9 1028.8,1041.5 1029.3,1040.4 1029.7,1035.9 1030.2,1038.9 1030.6,1038.5 1031.1,1036.4 1031.5,1039.1 1032.0,1029.4 1032.5,1031.5 1032.9,1036.3 1033.4,1031.3 1033.8,1024.5 1034.3,1027.6 1034.7,1029.6 1035.2,1031.3 1035.6,1025.8 1036.1,1026.4 1036.5,1018.2 1037.0,1019.8 1037.5,1023.3 1037.9,1015.4 1038.4,1017.1 1038.8,1010.3 1039.3,1019.6 1039.7,1013.3 1040.2,1014.3 1040.6,1006.4 1041.1,1005.6 1041.6,1014.1 1042.0,1005.7 1042.5,1003.5 1042.9,1005.1 1043.4,1003.5 1043.8,993.7 1044.3,994.9 1044.7,996.1 1045.2,993.9 1045.6,992.8 1046.1,988.2 1046.6,986.3 1047.0,985.4 1047.5,980.0 1047.9,976.8 1048.4,974.9 1048.8,973.8 1049.3,970.3 1049.7,966.3 1050.2,964.0 1050.6,961.4 1051.1,959.3 1051.6,955.9 1052.0,947.1 1052.5,950.4 1052.9,938.5 1053.4,941.4 1053.8,933.5 1054.3,933.6 1054.7,931.2 1055.2,918.1 1055.6,922.2 1056.1,917.5 1056.6,911.6 1057.0,910.9 1057.5,905.0 1057.9,903.9 1058.4,897.4 1058.8,900.3 1059.3,896.9 1059.7,894.8 1060.2,887.8 1060.6,893.0 1061.1,891.0 1061.6,882.1 1062.0,878.6 1062.5,876.3 1062.9,877.4 1063.4,876.2 1063.8,868.4 1064.3,862.2 1064.7,867.5 1065.2,863.3 1065.7,861.4 1066.1,859.8 1066.6,852.2 1067.0,853.4 1067.5,850.1 1067.9,850.3 1068.4,851.5 1068.8,846.6 1069.3,843.3 1069.7,849.8 1070.2,848.3 1070.7,845.7 1071.1,841.1 1071.6,844.4 1072.0,848.1 1072.5,850.0 1072.9,847.2 1073.4,850.9 1073.8,848.2 1074.3,849.6 1074.7,853.2 1075.2,851.3 1075.7,853.4 1076.1,856.5 1076.6,858.3 1077.0,854.0 1077.5,856.1 1077.9,853.9 1078.4,855.0 1078.8,861.0 1079.3,859.3 1079.7,855.9 1080.2,863.9 1080.7,860.0 1081.1,861.9 1081.6,863.9 1082.0,862.8 1082.5,859.8 1082.9,852.0 1083.4,858.1 1083.8,852.5 1084.3,847.6 1084.7,842.5 1085.2,850.6 1085.7,843.8 1086.1,840.2 1086.6,837.8 1087.0,831.4 1087.5,822.4 1087.9,823.9 1088.4,819.2 1088.8,811.4 1089.3,807.9 1089.8,801.8 1090.2,785.2 1090.7,777.3 1091.1,771.9 1091.6,759.7 1092.0,749.8 1092.5,742.1 1092.9,731.1 1093.4,716.1 1093.8,704.9 1094.3,685.0 1094.8,667.9 1095.2,650.5 1095.7,636.5 1096.1,629.0 1096.6,615.4 1097.0,606.1 1097.5,594.0 1097.9,573.8 1098.4,561.2 1098.8,546.7 1099.3,535.7 1099.8,528.8 1100.2,521.4 1100.7,517.3 1101.1,511.2 1101.6,510.8 1102.0,500.7 1102.5,493.1 1102.9,497.3 1103.4,496.3 1103.8,503.4 1104.3,512.7 1104.8,514.2 1105.2,523.3 1105.7,534.1 1106.1,539.8 1106.6,554.5 1107.0,567.2 1107.5,581.0 1107.9,596.3 1108.4,611.0 1108.8,628.9 1109.3,642.7 1109.8,658.5 1110.2,683.9 1110.7,709.2 1111.1,718.7 1111.6,722.6 1112.0,739.6 1112.5,756.1 1112.9,768.1 1113.4,795.9 1113.9,809.6 1114.3,835.1 1114.8,846.2 1115.2,866.0 1115.7,861.1 1116.1,873.7 1116.6,875.3 1117.0,890.4 1117.5,894.3 1117.9,903.9 1118.4,908.2 1118.9,910.8 1119.3,918.8 1119.8,923.1 1120.2,929.5 1120.7,938.9 1121.1,947.3 1121.6,952.0 1122.0,956.1 1122.5,957.8 1122.9,966.0 1123.4,966.3 1123.9,974.0 1124.3,980.1 1124.8,981.0 1125.2,984.0 1125.7,987.8 1126.1,994.8 1126.6,995.6 1127.0,995.9 1127.5,1002.9 1127.9,1004.9 1128.4,1016.8 1128.9,1016.2 1129.3,1015.4 1129.8,1024.3 1130.2,1028.9 1130.7,1030.5 1131.1,1030.5 1131.6,1034.1 1132.0,1036.5 1132.5,1040.6 1132.9,1040.4 1133.4,1047.9 1133.9,1041.8 1134.3,1048.7 1134.8,1045.5 1135.2,1041.5 1135.7,1044.5 1136.1,1043.8 1136.6,1045.3 1137.0,1055.5 1137.5,1050.9 1138.0,1056.0 1138.4,1052.5 1138.9,1056.3 1139.3,1054.2 1139.8,1061.2 1140.2,1058.7 1140.7,1059.1 1141.1,1061.0 1141.6,1069.2 1142.0,1064.8 1142.5,1066.9 1143.0,1061.3 1143.4,1064.0 1143.9,1067.8 1144.3,1061.9 1144.8,1072.6 1145.2,1070.1 1145.7,1070.0 1146.1,1070.2 1146.6,1070.8 1147.0,1070.7 1147.5,1077.3 1148.0,1075.8 1148.4,1078.2 1148.9,1074.1 1149.3,1073.1 1149.8,1080.6 1150.2,1073.4 1150.7,1075.9 1151.1,1080.6 1151.6,1082.4 1152.0,1075.6 1152.5,1079.4 1153.0,1080.9 1153.4,1081.0 1153.9,1079.3 1154.3,1084.6 1154.8,1081.4 1155.2,1082.8 1155.7,1077.1 1156.1,1084.1 1156.6,1078.9 1157.0,1087.5 1157.5,1087.2 1158.0,1084.5 1158.4,1087.0 1158.9,1087.2 1159.3,1086.8 1159.8,1088.7 1160.2,1087.6 1160.7,1086.9 1161.1,1086.2 1161.6,1094.2 1162.1,1089.9 1162.5,1089.6 1163.0,1092.2 1163.4,1089.1 1163.9,1089.4 1164.3,1093.0 1164.8,1094.4 1165.2,1093.6 1165.7,1087.2 1166.1,1092.2 1166.6,1092.3 1167.1,1094.0 1167.5,1090.1 1168.0,1089.9 1168.4,1093.0 1168.9,1090.9 1169.3,1090.6 1169.8,1093.9 1170.2,1097.1 1170.7,1094.9 1171.1,1098.2 1171.6,1091.9 1172.1,1097.3 1172.5,1095.3 1173.0,1092.8 1173.4,1094.4 1173.9,1093.2 1174.3,1095.4 1174.8,1093.9 1175.2,1100.3 1175.7,1095.5 1176.1,1092.4 1176.6,1096.3 1177.1,1098.2 1177.5,1096.2 1178.0,1100.0 1178.4,1094.7 1178.9,1095.0 1179.3,1102.7 1179.8,1097.9 1180.2,1099.7 1180.7,1099.7 1181.1,1100.1 1181.6,1098.6 1182.1,1098.0 1182.5,1102.0 1183.0,1097.4 1183.4,1099.4 1183.9,1101.3 1184.3,1098.1 1184.8,1094.8 1185.2,1101.0 1185.7,1103.1 1186.2,1100.7 1186.6,1095.0 1187.1,1102.2 1187.5,1106.4 1188.0,1095.8 1188.4,1092.4 1188.9,1100.1 1189.3,1101.2 1189.8,1103.5 1190.2,1103.8 1190.7,1101.7 1191.2,1103.2 1191.6,1102.7 1192.1,1102.2 1192.5,1101.7 1193.0,1101.6 1193.4,1104.3 1193.9,1103.5 1194.3,1101.1 1194.8,1105.8 1195.2,1100.3 1195.7,1101.9 1196.2,1103.1 1196.6,1097.0 1197.1,1101.7 1197.5,1105.5 1198.0,1105.4 1198.4,1099.3 1198.9,1100.5 1199.3,1099.8 1199.8,1102.3 1200.2,1102.9 1200.7,1098.2 1201.2,1104.1 1201.6,1103.3 1202.1,1102.9 1202.5,1101.1 1203.0,1102.6 1203.4,1097.8 1203.9,1103.9 1204.3,1103.9 1204.8,1102.9 1205.2,1099.7 1205.7,1107.1 1206.2,1106.7 1206.6,1097.6 1207.1,1104.6 1207.5,1103.8 1208.0,1095.6 1208.4,1104.9 1208.9,1105.3 1209.3,1105.5 1209.8,1103.9 1210.3,1101.4 1210.7,1101.9 1211.2,1105.0 1211.6,1107.0 1212.1,1102.0 1212.5,1102.6 1213.0,1105.6 1213.4,1097.0 1213.9,1104.8 1214.3,1102.8 1214.8,1096.9 1215.3,1105.8 1215.7,1100.7 1216.2,1105.9 1216.6,1107.7 1217.1,1099.7 1217.5,1099.9 1218.0,1103.5 1218.4,1098.2 1218.9,1105.7 1219.3,1104.1 1219.8,1106.5 1220.3,1098.0 1220.7,1104.1 1221.2,1104.9 1221.6,1098.1 1222.1,1106.2 1222.5,1099.3 1223.0,1104.0 1223.4,1099.4 1223.9,1105.7 1224.3,1108.4 1224.8,1103.4 1225.3,1103.3 1225.7,1107.0 1226.2,1101.7 1226.6,1103.1 1227.1,1105.3 1227.5,1104.1 1228.0,1107.5 1228.4,1106.2 1228.9,1108.3 1229.3,1102.4 1229.8,1105.7 1230.3,1099.8 1230.7,1104.9 1231.2,1107.3 1231.6,1109.0 1232.1,1098.0 1232.5,1101.1 1233.0,1103.7 1233.4,1098.7 1233.9,1102.9 1234.4,1102.7 1234.8,1099.4 1235.3,1099.1 1235.7,1097.8 1236.2,1101.3 1236.6,1104.1 1237.1,1100.9 1237.5,1108.3 1238.0,1095.2 1238.4,1097.8 1238.9,1101.4 1239.4,1095.7 1239.8,1100.0 1240.3,1101.1 1240.7,1098.9 1241.2,1097.4 1241.6,1100.6 1242.1,1098.6 1242.5,1099.2 1243.0,1098.2 1243.4,1094.1 1243.9,1092.3 1244.4,1094.0 1244.8,1095.1 1245.3,1093.4 1245.7,1096.3 1246.2,1093.6 1246.6,1095.1 1247.1,1091.8 1247.5,1088.6 1248.0,1092.6 1248.4,1090.8 1248.9,1085.9 1249.4,1086.3 1249.8,1095.0 1250.3,1074.9 1250.7,1087.2 1251.2,1082.4 1251.6,1080.2 1252.1,1077.7 1252.5,1075.1 1253.0,1081.9 1253.4,1071.2 1253.9,1069.5 1254.4,1070.7 1254.8,1067.2 1255.3,1063.3 1255.7,1060.6 1256.2,1054.8 1256.6,1059.4 1257.1,1049.9 1257.5,1042.7 1258.0,1050.2 1258.5,1046.2 1258.9,1041.7 1259.4,1035.9 1259.8,1037.9 1260.3,1027.8 1260.7,1021.4 1261.2,1025.6 1261.6,1024.7 1262.1,1021.5 1262.5,1023.2 1263.0,1016.4 1263.5,1010.1 1263.9,1007.1 1264.4,1007.2 1264.8,1001.1 1265.3,997.7 1265.7,989.6 1266.2,991.2 1266.6,985.4 1267.1,987.5 1267.5,984.9 1268.0,984.6 1268.5,986.3 1268.9,978.9 1269.4,983.0 1269.8,974.6 1270.3,978.7 1270.7,982.2 1271.2,987.0 1271.6,980.1 1272.1,985.7 1272.5,990.5 1273.0,993.6 1273.5,995.0 1273.9,997.1 1274.4,1002.6 1274.8,1010.3 1275.3,1010.3 1275.7,1023.6 1276.2,1025.2 1276.6,1018.8 1277.1,1026.5 1277.5,1035.6 1278.0,1039.5 1278.5,1042.0 1278.9,1037.7 1279.4,1044.4 1279.8,1052.9 1280.3,1052.5 1280.7,1053.9 1281.2,1059.7 1281.6,1063.9 1282.1,1063.7 1282.6,1066.2 1283.0,1070.7 1283.5,1067.6 1283.9,1068.4 1284.4,1075.4 1284.8,1071.2 1285.3,1078.2 1285.7,1076.2 1286.2,1082.7 1286.6,1078.1 1287.1,1086.9 1287.6,1085.9 1288.0,1085.5 1288.5,1085.3 1288.9,1088.9 1289.4,1087.8 1289.8,1088.3 1290.3,1096.5 1290.7,1096.2 1291.2,1099.2 1291.6,1092.2 1292.1,1091.3 1292.6,1093.3 1293.0,1101.0 1293.5,1102.2 1293.9,1094.5 1294.4,1104.0 1294.8,1099.9 1295.3,1098.0 1295.7,1101.8 1296.2,1104.2 1296.6,1102.2 1297.1,1102.7 1297.6,1101.1 1298.0,1099.6 1298.5,1103.3 1298.9,1099.8 1299.4,1107.0 1299.8,1102.9 1300.3,1109.9 1300.7,1101.3 1301.2,1110.9 1301.6,1104.1 1302.1,1104.4 1302.6,1108.4 1303.0,1110.6 1303.5,1108.0 1303.9,1107.3 1304.4,1114.9 1304.8,1110.5 1305.3,1105.5 1305.7,1108.6 1306.2,1115.0 1306.7,1111.0 1307.1,1112.7 1307.6,1116.7 1308.0,1108.8 1308.5,1112.0 1308.9,1108.9 1309.4,1111.2 1309.8,1113.1 1310.3,1107.4 1310.7,1112.2 1311.2,1112.3 1311.7,1115.3 1312.1,1110.3 1312.6,1108.3 1313.0,1113.6 1313.5,1109.0 1313.9,1113.1 1314.4,1114.4 1314.8,1110.0 1315.3,1112.4 1315.7,1109.6 1316.2,1104.1 1316.7,1108.4 1317.1,1106.5 1317.6,1113.0 1318.0,1109.6 1318.5,1112.5 1318.9,1112.8 1319.4,1116.2 1319.8,1111.9 1320.3,1111.7 1320.7,1114.5 1321.2,1117.9 1321.7,1112.6 1322.1,1113.9 1322.6,1112.2 1323.0,1110.6 1323.5,1108.0 1323.9,1112.5 1324.4,1111.9 1324.8,1111.9 1325.3,1118.8 1325.8,1111.6 1326.2,1113.6 1326.7,1111.4 1327.1,1116.2 1327.6,1111.6 1328.0,1118.2 1328.5,1111.6 1328.9,1114.7 1329.4,1115.5 1329.8,1111.5 1330.3,1114.9 1330.8,1112.4 1331.2,1109.7 1331.7,1110.0 1332.1,1113.0 1332.6,1117.5 1333.0,1110.4 1333.5,1113.6 1333.9,1109.3 1334.4,1112.6 1334.8,1107.7 1335.3,1109.2 1335.8,1111.6 1336.2,1109.3 1336.7,1110.7 1337.1,1114.6 1337.6,1111.1 1338.0,1109.2 1338.5,1107.6 1338.9,1109.7 1339.4,1114.9 1339.8,1111.0 1340.3,1110.8 1340.8,1113.5 1341.2,1113.8 1341.7,1114.3 1342.1,1110.0 1342.6,1108.3 1343.0,1105.9 1343.5,1108.9 1343.9,1109.9 1344.4,1113.3 1344.8,1112.0 1345.3,1109.2 1345.8,1113.7 1346.2,1107.1 1346.7,1107.7 1347.1,1107.3 1347.6,1107.6 1348.0,1110.2 1348.5,1108.4 1348.9,1108.7 1349.4,1115.2 1349.9,1106.6 1350.3,1107.9 1350.8,1110.4 1351.2,1112.6 1351.7,1112.8 1352.1,1110.5 1352.6,1110.3 1353.0,1110.7 1353.5,1113.9 1353.9,1108.8 1354.4,1104.5 1354.9,1112.4 1355.3,1108.3 1355.8,1111.9 1356.2,1116.5 1356.7,1112.6 1357.1,1118.1 1357.6,1107.6 1358.0,1113.4 1358.5,1114.0 1358.9,1115.5 1359.4,1110.8 1359.9,1113.7 1360.3,1113.7 1360.8,1113.7 1361.2,1109.3 1361.7,1108.4 1362.1,1115.5 1362.6,1115.1 1363.0,1114.3 1363.5,1116.3 1363.9,1117.8 1364.4,1111.0 1364.9,1117.2 1365.3,1119.6 1365.8,1118.3 1366.2,1117.1 1366.7,1117.6 1367.1,1111.1 1367.6,1114.2 1368.0,1119.1 1368.5,1120.6 1368.9,1117.6 1369.4,1115.0 1369.9,1116.1 1370.3,1119.3 1370.8,1123.1 1371.2,1119.4 1371.7,1115.5 1372.1,1119.2 1372.6,1118.8 1373.0,1125.0 1373.5,1119.6 1374.0,1118.0 1374.4,1117.8 1374.9,1114.3 1375.3,1115.0 1375.8,1116.9 1376.2,1116.0 1376.7,1119.2 1377.1,1119.1 1377.6,1121.8 1378.0,1123.7 1378.5,1119.6 1379.0,1118.6 1379.4,1113.5 1379.9,1120.6 1380.3,1121.5 1380.8,1117.2 1381.2,1118.4 1381.7,1117.5 1382.1,1123.1 1382.6,1121.8 1383.0,1123.7 1383.5,1116.2 1384.0,1128.2 1384.4,1117.4 1384.9,1116.9 1385.3,1120.7 1385.8,1118.4 1386.2,1125.7 1386.7,1118.8 1387.1,1118.0 1387.6,1123.1 1388.0,1123.9 1388.5,1117.4 1389.0,1118.5 1389.4,1118.8 1389.9,1119.3 1390.3,1125.1 1390.8,1123.6 1391.2,1122.8 1391.7,1123.4 1392.1,1119.3 1392.6,1121.8 1393.0,1118.8 1393.5,1116.5 1394.0,1123.8 1394.4,1113.0 1394.9,1118.3 1395.3,1116.3 1395.8,1112.7 1396.2,1116.4 1396.7,1117.6 1397.1,1118.6 1397.6,1114.3 1398.1,1119.0 1398.5,1117.3 1399.0,1118.6 1399.4,1109.8 1399.9,1114.1 1400.3,1113.3 1400.8,1116.7 1401.2,1112.3 1401.7,1112.7 1402.1,1110.4 1402.6,1109.9 1403.1,1110.4 1403.5,1116.0 1404.0,1109.3 1404.4,1104.7 1404.9,1112.8 1405.3,1110.2 1405.8,1112.9 1406.2,1112.5 1406.7,1109.5 1407.1,1108.8 1407.6,1108.0 1408.1,1109.3 1408.5,1106.6 1409.0,1109.2 1409.4,1112.5 1409.9,1105.8 1410.3,1105.5 1410.8,1105.1 1411.2,1108.6 1411.7,1108.3 1412.1,1110.4 1412.6,1107.7 1413.1,1105.5 1413.5,1106.2 1414.0,1100.3 1414.4,1105.7 1414.9,1104.1 1415.3,1109.6 1415.8,1107.1 1416.2,1099.8 1416.7,1100.2 1417.1,1104.2 1417.6,1094.6 1418.1,1097.6 1418.5,1101.0 1419.0,1101.3 1419.4,1099.3 1419.9,1101.7 1420.3,1096.7 1420.8,1097.2 1421.2,1095.7 1421.7,1092.2 1422.2,1095.1 1422.6,1092.7 1423.1,1094.0 1423.5,1085.0 1424.0,1092.9 1424.4,1090.2 1424.9,1089.4 1425.3,1090.9 1425.8,1088.8 1426.2,1092.6 1426.7,1093.0 1427.2,1091.3 1427.6,1091.0 1428.1,1088.5 1428.5,1086.9 1429.0,1082.2 1429.4,1084.4 1429.9,1088.6 1430.3,1086.6 1430.8,1082.1 1431.2,1083.4 1431.7,1085.7 1432.2,1081.4 1432.6,1086.3 1433.1,1078.4 1433.5,1082.7 1434.0,1082.0 1434.4,1080.0 1434.9,1080.0 1435.3,1080.4 1435.8,1071.5 1436.2,1079.7 1436.7,1081.7 1437.2,1079.3 1437.6,1081.5 1438.1,1074.4 1438.5,1078.0 1439.0,1079.4 1439.4,1077.8 1439.9,1082.6 1440.3,1080.8 1440.8,1078.1 1441.2,1082.6 1441.7,1083.1 1442.2,1079.7 1442.6,1083.5 1443.1,1083.3 1443.5,1083.8 1444.0,1079.4 1444.4,1087.8 1444.9,1086.5 1445.3,1085.0 1445.8,1086.7 1446.3,1087.3 1446.7,1085.9 1447.2,1085.5 1447.6,1088.2 1448.1,1086.5 1448.5,1087.3 1449.0,1085.6 1449.4,1088.8 1449.9,1093.0 1450.3,1090.9 1450.8,1090.7 1451.3,1089.8 1451.7,1089.8 1452.2,1086.8 1452.6,1096.8 1453.1,1089.8 1453.5,1087.7 1454.0,1093.9 1454.4,1093.7 1454.9,1091.6 1455.3,1088.9 1455.8,1089.5 1456.3,1098.9 1456.7,1094.0 1457.2,1092.6 1457.6,1100.6 1458.1,1093.4 1458.5,1092.5 1459.0,1097.3 1459.4,1097.0 1459.9,1100.9 1460.3,1091.5 1460.8,1097.4 1461.3,1091.4 1461.7,1098.3 1462.2,1095.0 1462.6,1095.8 1463.1,1095.1 1463.5,1100.1 1464.0,1102.6 1464.4,1097.5 1464.9,1097.0 1465.3,1096.3 1465.8,1099.6 1466.3,1094.8 1466.7,1109.0 1467.2,1097.3 1467.6,1103.3 1468.1,1098.4 1468.5,1093.6 1469.0,1092.9 1469.4,1096.4 1469.9,1095.3 1470.4,1096.7 1470.8,1093.7 1471.3,1104.4 1471.7,1103.5 1472.2,1091.1 1472.6,1098.0 1473.1,1100.0 1473.5,1095.0 1474.0,1095.1 1474.4,1098.9 1474.9,1097.0 1475.4,1091.3 1475.8,1098.5 1476.3,1092.9 1476.7,1099.9 1477.2,1090.9 1477.6,1086.4 1478.1,1093.6 1478.5,1096.7 1479.0,1094.2 1479.4,1092.8 1479.9,1089.1 1480.4,1094.5 1480.8,1085.5 1481.3,1093.4 1481.7,1086.8 1482.2,1088.2 1482.6,1085.5 1483.1,1086.3 1483.5,1093.3 1484.0,1084.4 1484.4,1088.1 1484.9,1084.4 1485.4,1089.5 1485.8,1081.4 1486.3,1085.0 1486.7,1087.1 1487.2,1090.6 1487.6,1079.0 1488.1,1079.0 1488.5,1080.6 1489.0,1084.2 1489.4,1075.2 1489.9,1079.7 1490.4,1073.8 1490.8,1071.2 1491.3,1068.1 1491.7,1072.1 1492.2,1073.3 1492.6,1068.5 1493.1,1060.8 1493.5,1064.3 1494.0,1067.8 1494.5,1066.2 1494.9,1063.0 1495.4,1065.5 1495.8,1055.5 1496.3,1054.3 1496.7,1064.3 1497.2,1057.6 1497.6,1053.5 1498.1,1051.2 1498.5,1043.2 1499.0,1052.6 1499.5,1042.0 1499.9,1040.9 1500.4,1045.4 1500.8,1048.8 1501.3,1041.2 1501.7,1042.0 1502.2,1037.8 1502.6,1038.8 1503.1,1030.6 1503.5,1040.9 1504.0,1029.8 1504.5,1033.1 1504.9,1023.6 1505.4,1034.3 1505.8,1028.7 1506.3,1032.3 1506.7,1022.4 1507.2,1026.4 1507.6,1021.2 1508.1,1020.3 1508.5,1023.3 1509.0,1015.3 1509.5,1019.6 1509.9,1022.7 1510.4,1021.6 1510.8,1019.2 1511.3,1016.9 1511.7,1013.1 1512.2,1021.2 1512.6,1015.2 1513.1,1022.0 1513.5,1018.2 1514.0,1020.4 1514.5,1021.6 1514.9,1024.8 1515.4,1022.9 1515.8,1026.2 1516.3,1025.4 1516.7,1030.1 1517.2,1030.6 1517.6,1032.3 1518.1,1029.4 1518.6,1034.3 1519.0,1034.5 1519.5,1037.4 1519.9,1037.0 1520.4,1035.0 1520.8,1041.6 1521.3,1038.4 1521.7,1042.7 1522.2,1036.5 1522.6,1045.8 1523.1,1047.5 1523.6,1043.6 1524.0,1049.5 1524.5,1047.5 1524.9,1054.0 1525.4,1052.7 1525.8,1047.6 1526.3,1051.9 1526.7,1047.9 1527.2,1053.4 1527.6,1057.1 1528.1,1058.9 1528.6,1056.8 1529.0,1057.3 1529.5,1059.4 1529.9,1057.8 1530.4,1061.5 1530.8,1064.7 1531.3,1062.4 1531.7,1065.2 1532.2,1060.6 1532.6,1062.0 1533.1,1065.0 1533.6,1070.8 1534.0,1068.0 1534.5,1070.6 1534.9,1065.8 1535.4,1070.0 1535.8,1061.2 1536.3,1068.5 1536.7,1060.6 1537.2,1071.4 1537.6,1069.3 1538.1,1071.8 1538.6,1069.6 1539.0,1067.0 1539.5,1066.4 1539.9,1069.5 1540.4,1073.7 1540.8,1071.0 1541.3,1067.3 1541.7,1067.2 1542.2,1066.7 1542.7,1068.2 1543.1,1068.4 1543.6,1067.1 1544.0,1068.5 1544.5,1063.3 1544.9,1073.0 1545.4,1068.6 1545.8,1072.4 1546.3,1068.3 1546.7,1066.5 1547.2,1067.2 1547.7,1067.3 1548.1,1064.3 1548.6,1064.8 1549.0,1071.7 1549.5,1068.4 1549.9,1063.5 1550.4,1066.4 1550.8,1061.7 1551.3,1068.3 1551.7,1060.2 1552.2,1065.6 1552.7,1062.2 1553.1,1061.6 1553.6,1058.2 1554.0,1059.1 1554.5,1056.7 1554.9,1055.5 1555.4,1058.8 1555.8,1064.3 1556.3,1054.4 1556.7,1057.4 1557.2,1052.9 1557.7,1049.3 1558.1,1054.2 1558.6,1050.4 1559.0,1050.3 1559.5,1045.3 1559.9,1043.6 1560.4,1038.8 1560.8,1038.7 1561.3,1043.0 1561.7,1028.9 1562.2,1035.5 1562.7,1037.1 1563.1,1033.1 1563.6,1031.4 1564.0,1025.8 1564.5,1028.2 1564.9,1026.3 1565.4,1020.7 1565.8,1024.2 1566.3,1015.8 1566.8,1008.1 1567.2,1014.5 1567.7,1012.8 1568.1,1009.1 1568.6,1009.0 1569.0,1007.4 1569.5,1002.2 1569.9,1010.6 1570.4,1005.8 1570.8,1013.4 1571.3,1004.4 1571.8,1005.4 1572.2,999.4 1572.7,1007.6 1573.1,1001.5 1573.6,1007.4 1574.0,1009.5 1574.5,1010.2 1574.9,1006.5 1575.4,1008.0 1575.8,1014.4 1576.3,1017.4 1576.8,1019.9 1577.2,1017.0 1577.7,1018.5 1578.1,1026.2 1578.6,1020.8 1579.0,1027.4 1579.5,1026.8 1579.9,1026.4 1580.4,1030.5 1580.8,1038.7 1581.3,1041.4 1581.8,1045.6 1582.2,1046.2 1582.7,1048.9 1583.1,1054.2 1583.6,1055.4 1584.0,1053.2 1584.5,1058.9 1584.9,1067.5 1585.4,1061.8 1585.8,1067.7 1586.3,1067.5 1586.8,1071.8 1587.2,1068.4 1587.7,1068.8 1588.1,1075.8 1588.6,1073.7 1589.0,1077.3 1589.5,1077.9 1589.9,1083.3 1590.4,1082.5 1590.9,1083.6 1591.3,1081.5 1591.8,1081.0 1592.2,1084.6 1592.7,1091.2 1593.1,1092.1 1593.6,1093.1 1594.0,1091.4 1594.5,1090.8 1594.9,1098.8 1595.4,1097.2 1595.9,1099.6 1596.3,1096.2 1596.8,1098.3 1597.2,1103.6 1597.7,1105.1 1598.1,1100.8 1598.6,1105.9 1599.0,1102.4 1599.5,1110.8 1599.9,1110.0 1600.4,1115.8 1600.9,1114.3 1601.3,1108.4 1601.8,1111.9 1602.2,1110.6 1602.7,1113.3 1603.1,1116.1 1603.6,1114.5 1604.0,1115.4 1604.5,1111.8 1604.9,1118.5 1605.4,1117.4 1605.9,1120.1 1606.3,1122.0 1606.8,1119.5 1607.2,1122.2 1607.7,1118.8 1608.1,1124.2 1608.6,1121.7 1609.0,1120.5 1609.5,1122.1 1610.0,1118.9 1610.4,1121.7 1610.9,1122.8 1611.3,1124.6 1611.8,1124.6 1612.2,1123.2 1612.7,1124.9 1613.1,1119.1 1613.6,1126.3 1614.0,1128.0 1614.5,1129.0 1615.0,1130.2 1615.4,1126.5 1615.9,1127.2 1616.3,1126.2 1616.8,1126.4 1617.2,1128.6 1617.7,1132.6 1618.1,1123.5 1618.6,1127.4 1619.0,1130.0 1619.5,1126.3 1620.0,1130.9 1620.4,1125.6 1620.9,1129.0 1621.3,1125.2 1621.8,1131.3 1622.2,1128.3 1622.7,1132.9 1623.1,1130.2 1623.6,1128.4 1624.0,1130.2 1624.5,1132.1 1625.0,1131.8 1625.4,1131.3 1625.9,1131.2 1626.3,1132.5 1626.8,1135.2 1627.2,1131.0 1627.7,1134.3 1628.1,1129.0 1628.6,1136.1 1629.0,1134.6 1629.5,1132.5 1630.0,1132.7 1630.4,1128.7 1630.9,1134.3 1631.3,1133.5 1631.8,1130.1 1632.2,1133.1 1632.7,1136.4 1633.1,1135.3 1633.6,1135.7 1634.1,1133.3 1634.5,1137.8 1635.0,1135.2 1635.4,1138.0 1635.9,1142.4 1636.3,1129.5 1636.8,1134.3 1637.2,1135.9 1637.7,1133.8 1638.1,1139.3 1638.6,1135.2 1639.1,1141.5 1639.5,1138.8 1640.0,1137.9 1640.4,1136.6 1640.9,1139.4 1641.3,1138.4 1641.8,1141.5 1642.2,1138.4 1642.7,1140.4 1643.1,1138.6 1643.6,1138.4 1644.1,1132.7 1644.5,1137.6 1645.0,1138.9 1645.4,1134.2 1645.9,1133.6 1646.3,1137.0 1646.8,1138.9 1647.2,1132.9 1647.7,1139.2 1648.1,1141.3 1648.6,1137.6 1649.1,1139.2 1649.5,1140.0 1650.0,1136.6 1650.4,1140.6 1650.9,1140.2 1651.3,1135.1 1651.8,1140.6 1652.2,1141.8 1652.7,1135.9 1653.1,1141.9 1653.6,1138.5 1654.1,1135.3 1654.5,1136.3 1655.0,1136.9 1655.4,1141.3 1655.9,1138.3 1656.3,1138.6 1656.8,1136.0 1657.2,1140.1 1657.7,1136.2 1658.2,1138.1 1658.6,1142.1 1659.1,1142.4 1659.5,1138.8 1660.0,1140.3 1660.4,1142.2 1660.9,1140.6 1661.3,1144.4 1661.8,1144.9 1662.2,1140.6 1662.7,1137.1 1663.2,1140.5 1663.6,1145.2 1664.1,1144.6 1664.5,1144.9 1665.0,1144.7 1665.4,1139.8 1665.9,1142.3 1666.3,1144.9 1666.8,1142.4 1667.2,1144.4 1667.7,1138.6 1668.2,1138.1 1668.6,1148.1 1669.1,1144.3 1669.5,1143.9 1670.0,1146.6 1670.4,1149.0 1670.9,1151.1 1671.3,1134.9 1671.8,1143.6 1672.2,1145.6 1672.7,1136.6 1673.2,1137.1 1673.6,1142.1 1674.1,1148.5 1674.5,1145.7 1675.0,1149.5 1675.4,1143.8 1675.9,1146.3 1676.3,1147.7 1676.8,1144.5 1677.2,1143.1 1677.7,1143.6 1678.2,1131.8 1678.6,1144.3 1679.1,1137.6 1679.5,1140.8 1680.0,1145.6 1680.4,1144.7 1680.9,1137.3 1681.3,1145.2 1681.8,1145.9 1682.3,1144.3 1682.7,1145.8 1683.2,1145.5 1683.6,1138.5 1684.1,1143.2 1684.5,1143.0 1685.0,1140.1 1685.4,1143.8 1685.9,1141.5 1686.3,1143.8 1686.8,1141.4 1687.3,1147.4 1687.7,1151.0 1688.2,1142.4 1688.6,1144.3 1689.1,1144.4 1689.5,1145.7 1690.0,1143.8 1690.4,1137.4 1690.9,1145.5 1691.3,1144.0 1691.8,1141.1 1692.3,1143.9 1692.7,1142.9 1693.2,1145.3 1693.6,1143.6 1694.1,1143.7 1694.5,1144.9 1695.0,1145.4 1695.4,1144.7 1695.9,1148.3 1696.3,1145.4 1696.8,1142.3 1697.3,1150.1 1697.7,1145.1 1698.2,1149.6 1698.6,1141.5 1699.1,1146.6 1699.5,1150.2 1700.0,1148.8 1700.4,1145.1 1700.9,1143.0 1701.3,1143.0 1701.8,1144.3 1702.3,1141.9 1702.7,1142.6 1703.2,1141.8 1703.6,1141.8 1704.1,1145.7 1704.5,1139.4 1705.0,1145.4 1705.4,1147.1 1705.9,1142.0 1706.4,1142.1 1706.8,1145.0 1707.3,1144.8 1707.7,1147.9 1708.2,1138.7 1708.6,1144.7 1709.1,1149.3 1709.5,1145.2 1710.0,1150.4 1710.4,1151.7 1710.9,1143.2 1711.4,1149.5 1711.8,1146.5 1712.3,1144.8 1712.7,1144.0 1713.2,1144.2 1713.6,1142.0 1714.1,1144.3 1714.5,1147.8 1715.0,1148.7 1715.4,1143.6 1715.9,1146.5 1716.4,1146.3 1716.8,1137.4 1717.3,1147.0 1717.7,1140.9 1718.2,1141.2 1718.6,1147.3 1719.1,1149.9 1719.5,1141.2 1720.0,1141.9 1720.4,1141.7 1720.9,1143.0 1721.4,1143.4 1721.8,1142.0 1722.3,1139.5 1722.7,1150.0 1723.2,1142.9 1723.6,1142.1 1724.1,1147.2 1724.5,1143.3 1725.0,1147.8 1725.4,1146.8 1725.9,1147.4 1726.4,1143.1 1726.8,1146.3 1727.3,1139.5 1727.7,1140.0 1728.2,1144.4 1728.6,1143.2 1729.1,1148.3 1729.5,1143.3 1730.0,1138.6 1730.5,1144.3 1730.9,1143.1 1731.4,1144.6 1731.8,1140.4 1732.3,1141.6 1732.7,1144.1 1733.2,1146.2 1733.6,1145.2 1734.1,1146.2 1734.5,1139.3 1735.0,1143.1 1735.5,1144.4 1735.9,1146.7 1736.4,1144.5 1736.8,1142.9 1737.3,1143.3 1737.7,1143.3 1738.2,1139.1 1738.6,1143.6 1739.1,1146.0 1739.5,1145.7 1740.0,1137.6 1740.5,1143.4 1740.9,1138.7 1741.4,1146.7 1741.8,1145.0 1742.3,1145.4 1742.7,1141.1 1743.2,1137.2 1743.6,1139.9 1744.1,1142.0 1744.5,1138.4 1745.0,1139.9 1745.5,1148.4 1745.9,1138.8 1746.4,1144.6 1746.8,1137.0 1747.3,1143.6 1747.7,1145.3 1748.2,1144.1 1748.6,1146.4 1749.1,1148.2 1749.5,1138.3 1750.0,1143.4 1750.5,1144.1 1750.9,1143.8 1751.4,1147.3 1751.8,1143.2 1752.3,1146.1 1752.7,1145.9 1753.2,1142.7 1753.6,1143.9 1754.1,1139.8 1754.6,1143.1 1755.0,1142.7 1755.5,1141.6 1755.9,1140.6 1756.4,1145.0 1756.8,1141.6 1757.3,1148.9 1757.7,1145.9 1758.2,1144.1 1758.6,1139.9 1759.1,1144.5 1759.6,1142.1 1760.0,1141.9 1760.5,1138.2 1760.9,1143.3 1761.4,1142.2 1761.8,1140.0 1762.3,1139.3 1762.7,1140.5 1763.2,1137.2 1763.6,1139.5 1764.1,1145.5 1764.6,1139.1 1765.0,1148.2 1765.5,1136.9 1765.9,1144.4 1766.4,1144.3 1766.8,1144.5 1767.3,1142.6 1767.7,1135.8 1768.2,1144.3 1768.6,1144.0 1769.1,1140.7 1769.6,1133.2 1770.0,1143.8 1770.5,1137.6 1770.9,1139.5 1771.4,1144.2 1771.8,1144.4 1772.3,1141.4 1772.7,1138.4 1773.2,1145.3 1773.6,1143.6 1774.1,1139.5 1774.6,1136.9 1775.0,1140.7 1775.5,1135.5 1775.9,1145.1 1776.4,1141.1 1776.8,1138.4 1777.3,1140.7 1777.7,1134.1 1778.2,1139.0 1778.7,1137.2 1779.1,1134.2 1779.6,1137.0 1780.0,1140.0 1780.5,1134.4 1780.9,1138.1 1781.4,1134.1 1781.8,1139.2 1782.3,1133.0 1782.7,1140.6 1783.2,1140.3 1783.7,1140.7 1784.1,1143.7 1784.6,1138.5 1785.0,1138.2 1785.5,1139.6 1785.9,1136.2 1786.4,1131.6 1786.8,1133.6 1787.3,1133.5 1787.7,1137.8 1788.2,1135.1 1788.7,1135.7 1789.1,1138.6 1789.6,1137.3 1790.0,1142.8 1790.5,1136.3 1790.9,1133.4 1791.4,1140.2 1791.8,1134.8 1792.3,1135.8 1792.7,1138.9 1793.2,1136.3 1793.7,1137.8 1794.1,1133.5 1794.6,1134.4 1795.0,1137.2 1795.5,1133.4 1795.9,1133.7 1796.4,1134.7 1796.8,1139.6 1797.3,1139.1 1797.7,1135.1 1798.2,1134.4 1798.7,1131.9 1799.1,1138.0 1799.6,1135.0 1800.0,1136.5 1800.5,1129.1 1800.9,1135.8 1801.4,1133.6 1801.8,1135.3 1802.3,1136.0 1802.8,1132.6 1803.2,1131.3 1803.7,1134.4 1804.1,1128.3 1804.6,1136.3 1805.0,1132.8 1805.5,1128.0 1805.9,1135.3 1806.4,1134.1 1806.8,1135.6 1807.3,1133.7 1807.8,1131.9 1808.2,1129.9 1808.7,1126.4 1809.1,1131.6 1809.6,1130.7 1810.0,1127.2 1810.5,1129.9 1810.9,1124.8 1811.4,1130.4 1811.8,1127.0 1812.3,1126.8 1812.8,1123.1 1813.2,1127.6 1813.7,1124.4 1814.1,1121.2 1814.6,1123.3 1815.0,1120.5 1815.5,1123.4 1815.9,1114.4 1816.4,1114.5 1816.8,1123.3 1817.3,1114.4 1817.8,1116.4 1818.2,1112.6 1818.7,1113.3 1819.1,1119.4 1819.6,1103.8 1820.0,1110.2 1820.5,1107.2 1820.9,1105.7 1821.4,1101.8 1821.8,1100.0 1822.3,1106.0 1822.8,1102.3 1823.2,1096.2 1823.7,1099.1 1824.1,1094.0 1824.6,1106.3 1825.0,1097.7 1825.5,1090.1 1825.9,1097.9 1826.4,1096.3 1826.9,1094.7 1827.3,1093.7 1827.8,1091.1 1828.2,1091.9 1828.7,1086.0 1829.1,1096.3 1829.6,1098.7 1830.0,1094.4 1830.5,1095.4 1830.9,1090.1 1831.4,1094.0 1831.9,1092.0 1832.3,1093.5 1832.8,1100.5 1833.2,1104.6 1833.7,1101.3 1834.1,1110.5 1834.6,1106.7 1835.0,1098.3 1835.5,1105.3 1835.9,1112.1 1836.4,1110.1 1836.9,1114.5 1837.3,1107.7 1837.8,1118.6 1838.2,1112.5 1838.7,1118.8 1839.1,1125.7 1839.6,1120.5 1840.0,1120.5 1840.5,1124.5 1840.9,1120.4 1841.4,1120.8 1841.9,1127.6 1842.3,1120.6 1842.8,1122.1 1843.2,1132.1 1843.7,1123.3 1844.1,1129.1 1844.6,1131.7 1845.0,1128.4 1845.5,1125.6 1845.9,1131.7 1846.4,1126.4 1846.9,1136.0 1847.3,1136.5 1847.8,1126.5 1848.2,1131.6 1848.7,1127.8 1849.1,1131.2 1849.6,1129.4 1850.0,1127.2 1850.5,1131.9 1851.0,1125.2 1851.4,1131.4 1851.9,1130.0 1852.3,1128.1 1852.8,1133.5 1853.2,1130.8 1853.7,1129.7 1854.1,1130.3 1854.6,1130.2 1855.0,1133.9 1855.5,1130.1 1856.0,1122.1 1856.4,1121.5 1856.9,1128.0 1857.3,1127.4 1857.8,1130.5 1858.2,1127.2 1858.7,1129.0 1859.1,1135.7 1859.6,1127.5 1860.0,1134.3 1860.5,1131.4 1861.0,1135.9 1861.4,1134.7 1861.9,1132.1 1862.3,1135.3 1862.8,1132.7 1863.2,1128.6 1863.7,1133.7 1864.1,1133.8 1864.6,1131.9 1865.0,1133.2 1865.5,1131.1 1866.0,1133.5 1866.4,1131.7 1866.9,1127.8 1867.3,1131.8 1867.8,1137.6 1868.2,1135.3 1868.7,1137.5 1869.1,1132.9 1869.6,1131.6 1870.0,1129.6 1870.5,1133.5 1871.0,1136.2 1871.4,1135.7 1871.9,1135.5 1872.3,1131.7 1872.8,1133.7 1873.2,1131.0 1873.7,1136.0 1874.1,1135.4 1874.6,1131.6 1875.1,1134.1 1875.5,1126.7 1876.0,1136.0 1876.4,1131.3 1876.9,1132.8 1877.3,1135.9 1877.8,1136.2 1878.2,1132.1 1878.7,1139.3 1879.1,1140.7 1879.6,1139.1 1880.1,1138.8 1880.5,1135.0 1881.0,1139.4 1881.4,1132.5 1881.9,1131.9 1882.3,1136.0 1882.8,1136.5 1883.2,1133.2 1883.7,1141.7 1884.1,1131.8 1884.6,1130.1 1885.1,1135.5 1885.5,1142.1 1886.0,1139.6 1886.4,1138.6 1886.9,1138.2 1887.3,1139.7 1887.8,1139.2 1888.2,1138.8 1888.7,1138.4 1889.1,1134.0 1889.6,1142.3 1890.1,1138.2 1890.5,1141.0 1891.0,1141.6 1891.4,1143.5 1891.9,1138.1 1892.3,1143.4 1892.8,1143.8 1893.2,1141.1 1893.7,1141.5 1894.2,1142.4 1894.6,1139.0 1895.1,1141.0 1895.5,1139.2 1896.0,1146.7 1896.4,1140.8 1896.9,1140.1 1897.3,1144.2 1897.8,1145.6 1898.2,1143.0 1898.7,1141.5 1899.2,1145.9 1899.6,1147.5 1900.1,1140.0 1900.5,1148.1 1901.0,1140.0 1901.4,1147.7 1901.9,1144.5 1902.3,1145.2 1902.8,1148.4 1903.2,1150.8 1903.7,1153.0 1904.2,1150.9 1904.6,1148.9 1905.1,1142.7 1905.5,1145.7 1906.0,1147.5 1906.4,1145.3 1906.9,1149.1 1907.3,1146.6 1907.8,1153.0 1908.2,1146.9 1908.7,1143.6 1909.2,1146.0 1909.6,1145.5 1910.1,1150.0 1910.5,1152.2"/>
<polyline fill="none" stroke="#008000" stroke-width="4" stroke-linejoin="round" shape-rendering="crispEdges" points="319.0,951.9 319.5,935.4 319.9,946.1 320.4,942.6 320.8,943.0 321.3,943.9 321.7,937.4 322.2,943.9 322.6,941.6 323.1,956.7 323.5,945.6 324.0,943.5 324.5,943.8 324.9,942.5 325.4,941.1 325.8,943.5 326.3,946.7 326.7,944.1 327.2,948.5 327.6,944.3 328.1,945.2 328.5,950.7 329.0,947.1 329.5,943.4 329.9,944.6 330.4,947.2 330.8,952.3 331.3,944.4 331.7,944.5 332.2,949.1 332.6,942.3 333.1,944.5 333.6,948.8 334.0,947.7 334.5,946.0 334.9,948.1 335.4,935.6 335.8,949.5 336.3,942.4 336.7,939.9 337.2,947.0 337.6,948.5 338.1,944.5 338.6,942.2 339.0,946.3 339.5,946.0 339.9,951.3 340.4,949.0 340.8,947.1 341.3,950.4 341.7,945.7 342.2,943.2 342.6,948.7 343.1,948.7 343.6,945.9 344.0,943.9 344.5,947.6 344.9,937.8 345.4,949.3 345.8,948.7 346.3,941.1 346.7,947.2 347.2,943.6 347.6,949.8 348.1,939.8 348.6,943.9 349.0,949.8 349.5,951.4 349.9,939.5 350.4,945.6 350.8,948.6 351.3,945.2 351.7,953.2 352.2,943.2 352.6,948.8 353.1,943.8 353.6,952.7 354.0,947.6 354.5,946.4 354.9,941.5 355.4,953.8 355.8,950.5 356.3,950.5 356.7,951.9 357.2,949.1 357.7,945.6 358.1,945.0 358.6,945.1 359.0,952.9 359.5,942.7 359.9,945.9 360.4,946.9 360.8,948.8 361.3,950.1 361.7,943.6 362.2,941.9 362.7,948.1 363.1,952.5 363.6,950.9 364.0,948.9 364.5,947.0 364.9,949.2 365.4,947.3 365.8,951.2 366.3,945.4 366.7,948.7 367.2,947.9 367.7,950.2 368.1,949.1 368.6,957.5 369.0,953.7 369.5,953.7 369.9,941.0 370.4,947.1 370.8,946.2 371.3,950.3 371.7,940.2 372.2,952.7 372.7,952.3 373.1,943.8 373.6,944.9 374.0,945.6 374.5,948.7 374.9,950.8 375.4,955.9 375.8,947.8 376.3,951.3 376.7,949.1 377.2,954.9 377.7,951.3 378.1,953.5 378.6,944.7 379.0,947.9 379.5,945.7 379.9,954.1 380.4,951.0 380.8,947.6 381.3,947.1 381.8,950.5 382.2,946.2 382.7,945.4 383.1,950.5 383.6,957.6 384.0,947.9 384.5,946.8 384.9,944.6 385.4,944.0 385.8,950.7 386.3,951.9 386.8,948.9 387.2,950.0 387.7,949.3 388.1,949.3 388.6,943.4 389.0,947.2 389.5,949.3 389.9,946.1 390.4,947.2 390.8,945.9 391.3,947.7 391.8,952.0 392.2,947.5 392.7,948.4 393.1,951.9 393.6,951.3 394.0,955.0 394.5,941.4 394.9,952.0 395.4,947.2 395.8,949.4 396.3,952.0 396.8,952.9 397.2,952.7 397.7,949.5 398.1,954.8 398.6,948.0 399.0,948.5 399.5,951.9 399.9,947.0 400.4,956.8 400.8,952.7 401.3,956.8 401.8,948.9 402.2,947.6 402.7,949.6 403.1,951.6 403.6,946.9 404.0,950.4 404.5,948.9 404.9,954.8 405.4,946.6 405.9,952.8 406.3,946.7 406.8,945.5 407.2,946.4 407.7,944.7 408.1,949.5 408.6,952.7 409.0,949.6 409.5,951.2 409.9,954.8 410.4,949.9 410.9,949.7 411.3,948.0 411.8,943.2 412.2,951.7 412.7,942.6 413.1,951.3 413.6,948.9 414.0,953.0 414.5,948.7 414.9,946.0 415.4,950.2 415.9,946.9 416.3,948.2 416.8,949.0 417.2,948.4 417.7,948.2 418.1,945.9 418.6,948.2 419.0,941.2 419.5,948.3 419.9,944.5 420.4,952.9 420.9,953.4 421.3,941.8 421.8,949.3 422.2,948.3 422.7,945.0 423.1,950.7 423.6,947.1 424.0,942.4 424.5,947.8 424.9,948.2 425.4,949.1 425.9,944.3 426.3,950.9 426.8,951.3 427.2,944.5 427.7,946.3 428.1,948.4 428.6,946.6 429.0,954.9 429.5,949.4 430.0,945.0 430.4,945.7 430.9,948.4 431.3,956.8 431.8,947.9 432.2,949.0 432.7,950.4 433.1,948.4 433.6,956.7 434.0,946.6 434.5,951.1 435.0,949.0 435.4,950.7 435.9,944.2 436.3,954.8 436.8,947.9 437.2,948.5 437.7,945.0 438.1,945.7 438.6,950.3 439.0,951.9 439.5,951.0 440.0,952.6 440.4,950.8 440.9,948.3 441.3,951.2 441.8,950.3 442.2,947.8 442.7,950.8 443.1,952.8 443.6,949.0 444.0,946.8 444.5,950.7 445.0,954.9 445.4,947.3 445.9,947.7 446.3,947.5 446.8,952.4 447.2,941.4 447.7,949.3 448.1,952.2 448.6,945.0 449.0,953.3 449.5,949.8 450.0,945.9 450.4,948.6 450.9,942.3 451.3,945.7 451.8,954.3 452.2,944.5 452.7,954.3 453.1,947.4 453.6,951.2 454.1,947.8 454.5,939.5 455.0,945.5 455.4,948.2 455.9,943.3 456.3,942.6 456.8,948.7 457.2,945.0 457.7,941.2 458.1,944.8 458.6,950.3 459.1,945.4 459.5,950.5 460.0,952.5 460.4,947.1 460.9,942.9 461.3,942.2 461.8,946.7 462.2,950.0 462.7,947.7 463.1,948.6 463.6,945.0 464.1,947.6 464.5,944.8 465.0,945.2 465.4,941.7 465.9,940.6 466.3,944.5 466.8,942.2 467.2,942.6 467.7,948.4 468.1,945.5 468.6,956.4 469.1,949.1 469.5,943.4 470.0,948.4 470.4,946.8 470.9,943.0 471.3,949.3 471.8,942.5 472.2,934.2 472.7,948.0 473.2,942.8 473.6,950.3 474.1,942.5 474.5,940.5 475.0,950.2 475.4,940.7 475.9,945.2 476.3,949.6 476.8,944.7 477.2,943.9 477.7,944.4 478.2,947.0 478.6,940.9 479.1,945.9 479.5,945.7 480.0,951.9 480.4,942.1 480.9,939.9 481.3,945.6 481.8,941.3 482.2,943.6 482.7,942.7 483.2,946.2 483.6,939.4 484.1,941.1 484.5,932.0 485.0,937.6 485.4,946.0 485.9,937.7 486.3,937.3 486.8,935.1 487.2,941.2 487.7,939.4 488.2,934.2 488.6,940.5 489.1,938.7 489.5,940.1 490.0,934.7 490.4,942.9 490.9,937.8 491.3,935.5 491.8,933.6 492.2,934.2 492.7,937.8 493.2,933.3 493.6,937.7 494.1,935.5 494.5,937.8 495.0,935.4 495.4,931.8 495.9,924.7 496.3,932.1 496.8,933.4 497.3,930.7 497.7,931.6 498.2,927.4 498.6,927.2 499.1,924.7 499.5,932.5 500.0,927.7 500.4,924.8 500.9,921.3 501.3,925.1 501.8,930.3 502.3,926.3 502.7,921.5 503.2,928.7 503.6,928.1 504.1,926.0 504.5,924.7 505.0,925.5 505.4,922.7 505.9,923.0 506.3,916.8 506.8,924.4 507.3,919.3 507.7,925.2 508.2,910.0 508.6,919.3 509.1,919.8 509.5,914.5 510.0,916.8 510.4,917.3 510.9,916.2 511.3,911.7 511.8,912.5 512.3,916.1 512.7,916.4 513.2,911.5 513.6,910.8 514.1,910.6 514.5,913.0 515.0,904.8 515.4,903.2 515.9,907.9 516.3,902.9 516.8,904.2 517.3,906.2 517.7,907.2 518.2,901.2 518.6,907.7 519.1,898.2 519.5,906.4 520.0,898.7 520.4,899.9 520.9,906.9 521.4,903.4 521.8,902.4 522.3,904.0 522.7,907.8 523.2,906.5 523.6,907.2 524.1,911.8 524.5,906.2 525.0,907.8 525.4,908.4 525.9,915.3 526.4,915.5 526.8,917.4 527.3,913.5 527.7,913.8 528.2,918.2 528.6,914.5 529.1,919.7 529.5,920.0 530.0,915.5 530.4,918.3 530.9,918.8 531.4,926.1 531.8,929.8 532.3,920.8 532.7,921.8 533.2,914.2 533.6,923.8 534.1,923.7 534.5,920.5 535.0,927.8 535.4,920.0 535.9,925.4 536.4,927.3 536.8,922.9 537.3,931.1 537.7,932.3 538.2,924.1 538.6,924.5 539.1,932.3 539.5,930.4 540.0,926.6 540.4,930.4 540.9,931.4 541.4,931.7 541.8,935.6 542.3,934.4 542.7,939.8 543.2,938.8 543.6,936.6 544.1,938.5 544.5,939.7 545.0,937.8 545.5,931.2 545.9,939.1 546.4,936.6 546.8,942.4 547.3,937.2 547.7,939.1 548.2,938.7 548.6,943.8 549.1,938.7 549.5,937.3 550.0,939.6 550.5,937.2 550.9,939.5 551.4,939.1 551.8,940.3 552.3,946.5 552.7,938.3 553.2,940.0 553.6,939.4 554.1,942.7 554.5,936.2 555.0,938.1 555.5,940.6 555.9,942.8 556.4,940.8 556.8,939.4 557.3,938.2 557.7,943.3 558.2,946.7 558.6,942.8 559.1,942.5 559.5,943.5 560.0,938.6 560.5,941.0 560.9,941.2 561.4,943.4 561.8,942.3 562.3,938.1 562.7,946.7 563.2,948.8 563.6,941.9 564.1,944.4 564.5,944.0 565.0,946.0 565.5,937.9 565.9,949.1 566.4,941.7 566.8,948.1 567.3,943.9 567.7,942.3 568.2,943.3 568.6,947.1 569.1,940.9 569.6,942.7 570.0,942.4 570.5,938.1 570.9,949.0 571.4,946.5 571.8,944.4 572.3,948.8 572.7,941.2 573.2,944.5 573.6,951.0 574.1,948.4 574.6,937.0 575.0,933.1 575.5,941.4 575.9,949.1 576.4,943.6 576.8,944.6 577.3,947.7 577.7,942.4 578.2,946.4 578.6,948.5 579.1,947.4 579.6,947.3 580.0,943.7 580.5,947.8 580.9,944.5 581.4,950.8 581.8,955.5 582.3,943.6 582.7,938.5 583.2,944.9 583.6,947.8 584.1,950.3 584.6,950.5 585.0,943.9 585.5,943.9 585.9,951.4 586.4,942.9 586.8,950.9 587.3,946.2 587.7,949.8 588.2,949.7 588.6,950.0 589.1,950.2 589.6,943.8 590.0,948.5 590.5,947.5 590.9,948.6 591.4,952.0 591.8,946.7 592.3,945.1 592.7,945.1 593.2,946.7 593.7,950.6 594.1,945.0 594.6,952.2 595.0,949.1 595.5,947.3 595.9,943.4 596.4,949.1 596.8,950.8 597.3,942.0 597.7,952.7 598.2,954.4 598.7,949.7 599.1,950.3 599.6,957.3 600.0,953.1 600.5,945.5 600.9,948.7 601.4,948.2 601.8,948.3 602.3,940.4 602.7,951.7 603.2,946.7 603.7,949.7 604.1,948.6 604.6,952.3 605.0,948.2 605.5,946.4 605.9,951.3 606.4,954.4 606.8,948.3 607.3,954.4 607.7,950.5 608.2,947.7 608.7,955.1 609.1,946.8 609.6,953.4 610.0,948.0 610.5,951.5 610.9,945.5 611.4,946.9 611.8,953.8 612.3,950.7 612.7,950.3 613.2,948.6 613.7,951.8 614.1,945.2 614.6,946.3 615.0,949.8 615.5,947.4 615.9,947.9 616.4,950.3 616.8,950.1 617.3,949.8 617.8,956.7 618.2,954.4 618.7,955.2 619.1,950.7 619.6,949.1 620.0,945.7 620.5,949.7 620.9,943.5 621.4,949.0 621.8,953.9 622.3,957.0 622.8,954.7 623.2,948.2 623.7,953.1 624.1,948.5 624.6,954.4 625.0,951.1 625.5,954.6 625.9,960.8 626.4,954.9 626.8,960.0 627.3,952.3 627.8,950.6 628.2,956.6 628.7,958.0 629.1,949.9 629.6,952.2 630.0,946.8 630.5,951.3 630.9,955.3 631.4,951.8 631.8,950.1 632.3,947.1 632.8,953.6 633.2,955.2 633.7,954.5 634.1,953.3 634.6,947.8 635.0,958.8 635.5,952.3 635.9,952.0 636.4,955.2 636.8,944.9 637.3,952.5 637.8,952.2 638.2,954.1 638.7,957.7 639.1,954.6 639.6,946.3 640.0,951.7 640.5,953.7 640.9,953.6 641.4,948.5 641.9,947.1 642.3,955.1 642.8,954.4 643.2,953.2 643.7,947.1 644.1,959.7 644.6,942.9 645.0,952.1 645.5,961.0 645.9,952.9 646.4,954.4 646.9,949.3 647.3,958.5 647.8,949.0 648.2,954.6 648.7,954.2 649.1,950.0 649.6,957.0 650.0,948.7 650.5,951.4 650.9,953.8 651.4,952.4 651.9,955.6 652.3,957.3 652.8,953.0 653.2,952.1 653.7,952.2 654.1,952.8 654.6,957.1 655.0,953.4 655.5,955.7 655.9,953.9 656.4,951.3 656.9,957.5 657.3,950.6 657.8,954.4 658.2,959.8 658.7,950.5 659.1,954.3 659.6,948.8 660.0,952.7 660.5,949.2 660.9,953.3 661.4,952.7 661.9,955.2 662.3,960.4 662.8,955.8 663.2,957.1 663.7,954.6 664.1,954.0 664.6,951.9 665.0,948.4 665.5,955.2 666.0,960.8 666.4,956.7 666.9,953.1 667.3,961.0 667.8,953.5 668.2,952.8 668.7,950.7 669.1,951.7 669.6,954.3 670.0,962.4 670.5,954.4 671.0,951.5 671.4,953.1 671.9,954.5 672.3,949.1 672.8,955.8 673.2,957.8 673.7,956.5 674.1,957.5 674.6,950.7 675.0,949.3 675.5,960.1 676.0,959.4 676.4,949.9 676.9,956.2 677.3,955.6 677.8,957.5 678.2,956.3 678.7,953.7 679.1,956.3 679.6,956.2 680.0,955.4 680.5,948.9 681.0,944.9 681.4,952.8 681.9,949.8 682.3,956.6 682.8,958.3 683.2,956.7 683.7,954.4 684.1,956.0 684.6,960.0 685.0,953.1 685.5,959.1 686.0,958.4 686.4,956.8 686.9,961.1 687.3,953.3 687.8,959.3 688.2,952.5 688.7,953.1 689.1,952.1 689.6,957.5 690.1,952.6 690.5,956.1 691.0,951.9 691.4,959.8 691.9,962.6 692.3,956.8 692.8,961.9 693.2,958.1 693.7,963.9 694.1,956.4 694.6,950.4 695.1,961.5 695.5,955.7 696.0,952.4 696.4,953.8 696.9,950.3 697.3,955.6 697.8,952.3 698.2,961.5 698.7,958.6 699.1,950.2 699.6,950.8 700.1,954.2 700.5,949.3 701.0,955.9 701.4,956.1 701.9,953.5 702.3,954.4 702.8,958.1 703.2,961.5 703.7,961.7 704.1,956.5 704.6,959.5 705.1,953.7 705.5,957.9 706.0,953.0 706.4,959.1 706.9,952.0 707.3,953.0 707.8,956.4 708.2,958.5 708.7,951.3 709.1,954.6 709.6,957.0 710.1,957.4 710.5,953.5 711.0,956.9 711.4,955.6 711.9,961.6 712.3,958.6 712.8,951.8 713.2,948.7 713.7,957.0 714.2,960.9 714.6,957.3 715.1,959.8 715.5,954.9 716.0,951.8 716.4,959.4 716.9,957.0 717.3,959.2 717.8,951.7 718.2,957.4 718.7,954.5 719.2,959.6 719.6,954.7 720.1,954.6 720.5,954.7 721.0,961.3 721.4,956.9 721.9,954.1 722.3,953.1 722.8,953.0 723.2,962.1 723.7,950.3 724.2,953.8 724.6,959.1 725.1,961.1 725.5,956.3 726.0,959.7 726.4,959.6 726.9,960.4 727.3,957.0 727.8,962.8 728.2,957.7 728.7,962.5 729.2,953.0 729.6,960.4 730.1,952.5 730.5,951.6 731.0,958.8 731.4,954.1 731.9,958.7 732.3,953.2 732.8,962.9 733.2,957.1 733.7,953.0 734.2,957.7 734.6,960.3 735.1,954.3 735.5,959.0 736.0,964.5 736.4,960.3 736.9,957.1 737.3,955.1 737.8,959.2 738.3,951.7 738.7,946.2 739.2,954.8 739.6,953.3 740.1,963.5 740.5,957.7 741.0,953.7 741.4,953.0 741.9,959.0 742.3,954.2 742.8,955.1 743.3,956.9 743.7,957.5 744.2,957.6 744.6,957.6 745.1,961.9 745.5,963.3 746.0,951.2 746.4,966.4 746.9,957.6 747.3,961.5 747.8,954.4 748.3,958.1 748.7,957.7 749.2,957.3 749.6,959.9 750.1,959.0 750.5,953.0 751.0,956.1 751.4,959.1 751.9,958.9 752.3,955.1 752.8,955.2 753.3,955.5 753.7,952.0 754.2,951.2 754.6,961.4 755.1,954.2 755.5,955.8 756.0,952.6 756.4,959.9 756.9,961.4 757.4,954.1 757.8,956.6 758.3,951.9 758.7,960.8 759.2,957.6 759.6,951.1 760.1,958.4 760.5,955.0 761.0,955.1 761.4,954.7 761.9,950.8 762.4,951.1 762.8,955.0 763.3,952.4 763.7,949.0 764.2,959.5 764.6,951.1 765.1,949.5 765.5,948.5 766.0,953.0 766.4,953.4 766.9,950.2 767.4,951.8 767.8,942.6 768.3,946.0 768.7,945.1 769.2,946.2 769.6,947.4 770.1,937.8 770.5,956.0 771.0,941.1 771.4,945.1 771.9,946.4 772.4,946.1 772.8,943.5 773.3,931.8 773.7,938.0 774.2,944.2 774.6,937.8 775.1,936.9 775.5,931.9 776.0,944.3 776.4,941.4 776.9,935.9 777.4,938.3 777.8,938.0 778.3,933.9 778.7,936.5 779.2,937.9 779.6,938.6 780.1,940.7 780.5,935.8 781.0,933.6 781.5,936.3 781.9,932.1 782.4,929.4 782.8,937.5 783.3,931.6 783.7,932.8 784.2,934.2 784.6,927.3 785.1,933.0 785.5,931.6 786.0,929.0 786.5,930.1 786.9,925.2 787.4,919.3 787.8,925.5 788.3,922.5 788.7,928.2 789.2,925.3 789.6,921.7 790.1,923.1 790.5,927.1 791.0,925.7 791.5,922.2 791.9,921.8 792.4,918.5 792.8,918.4 793.3,920.3 793.7,917.0 794.2,917.9 794.6,912.1 795.1,909.4 795.5,908.6 796.0,912.5 796.5,918.1 796.9,916.9 797.4,908.4 797.8,905.7 798.3,913.4 798.7,911.5 799.2,904.3 799.6,912.4 800.1,908.6 800.5,912.0 801.0,907.7 801.5,908.9 801.9,906.2 802.4,900.9 802.8,902.9 803.3,900.9 803.7,906.1 804.2,899.5 804.6,898.0 805.1,906.7 805.6,909.4 806.0,911.6 806.5,911.7 806.9,903.7 807.4,907.9 807.8,909.7 808.3,912.6 808.7,906.0 809.2,914.8 809.6,917.0 810.1,913.6 810.6,918.5 811.0,923.4 811.5,920.2 811.9,924.7 812.4,925.3 812.8,923.9 813.3,924.4 813.7,922.4 814.2,928.8 814.6,923.3 815.1,923.0 815.6,928.6 816.0,924.0 816.5,928.7 816.9,931.6 817.4,928.6 817.8,929.2 818.3,932.7 818.7,932.6 819.2,924.9 819.6,926.3 820.1,936.3 820.6,933.4 821.0,925.0 821.5,928.1 821.9,933.6 822.4,930.4 822.8,936.2 823.3,935.3 823.7,937.4 824.2,932.0 824.6,939.0 825.1,944.3 825.6,935.0 826.0,943.1 826.5,942.4 826.9,941.6 827.4,939.4 827.8,935.8 828.3,937.1 828.7,943.2 829.2,944.2 829.7,945.2 830.1,944.3 830.6,944.3 831.0,939.5 831.5,936.9 831.9,942.1 832.4,943.2 832.8,941.8 833.3,936.1 833.7,939.8 834.2,936.4 834.7,942.3 835.1,938.1 835.6,941.3 836.0,943.1 836.5,942.5 836.9,947.0 837.4,938.1 837.8,934.2 838.3,945.5 838.7,947.1 839.2,947.2 839.7,943.1 840.1,943.9 840.6,942.4 841.0,937.2 841.5,939.7 841.9,943.4 842.4,939.4 842.8,948.2 843.3,935.7 843.7,939.5 844.2,944.9 844.7,938.5 845.1,936.4 845.6,935.4 846.0,937.5 846.5,945.3 846.9,941.1 847.4,941.3 847.8,937.4 848.3,942.0 848.7,939.2 849.2,935.2 849.7,936.7 850.1,938.8 850.6,942.0 851.0,937.3 851.5,939.0 851.9,944.1 852.4,933.6 852.8,931.6 853.3,939.2 853.8,936.8 854.2,934.4 854.7,935.3 855.1,932.6 855.6,935.2 856.0,931.6 856.5,935.2 856.9,927.6 857.4,928.3 857.8,931.1 858.3,928.5 858.8,932.1 859.2,928.9 859.7,926.6 860.1,928.7 860.6,925.5 861.0,921.2 861.5,922.0 861.9,922.4 862.4,922.9 862.8,924.1 863.3,926.3 863.8,924.2 864.2,927.8 864.7,925.2 865.1,919.1 865.6,925.0 866.0,922.6 866.5,916.0 866.9,918.2 867.4,920.4 867.8,916.9 868.3,919.3 868.8,916.7 869.2,917.6 869.7,913.7 870.1,916.1 870.6,913.2 871.0,916.8 871.5,908.2 871.9,915.3 872.4,918.5 872.8,916.0 873.3,913.8 873.8,915.7 874.2,910.6 874.7,910.6 875.1,912.2 875.6,912.9 876.0,916.8 876.5,910.0 876.9,916.7 877.4,907.3 877.9,910.0 878.3,912.5 878.8,916.7 879.2,910.1 879.7,904.4 880.1,913.3 880.6,911.3 881.0,907.1 881.5,906.8 881.9,907.5 882.4,909.8 882.9,911.2 883.3,902.9 883.8,915.8 884.2,906.8 884.7,904.9 885.1,908.0 885.6,905.3 886.0,912.7 886.5,907.7 886.9,901.8 887.4,901.2 887.9,900.3 888.3,900.4 888.8,903.5 889.2,898.3 889.7,905.9 890.1,899.3 890.6,898.5 891.0,902.0 891.5,890.9 891.9,894.1 892.4,899.1 892.9,896.4 893.3,895.7 893.8,896.5 894.2,892.2 894.7,893.1 895.1,888.0 895.6,885.4 896.0,895.8 896.5,887.0 896.9,886.7 897.4,893.3 897.9,891.0 898.3,884.2 898.8,883.0 899.2,883.4 899.7,879.1 900.1,883.2 900.6,880.5 901.0,879.2 901.5,880.1 902.0,878.7 902.4,881.4 902.9,878.8 903.3,865.8 903.8,873.7 904.2,864.9 904.7,862.2 905.1,868.3 905.6,861.6 906.0,861.4 906.5,864.7 907.0,856.8 907.4,854.3 907.9,857.1 908.3,858.6 908.8,854.4 909.2,845.2 909.7,846.7 910.1,846.6 910.6,852.2 911.0,846.4 911.5,844.2 912.0,843.2 912.4,835.3 912.9,835.4 913.3,832.7 913.8,824.5 914.2,825.0 914.7,824.1 915.1,815.3 915.6,819.3 916.0,816.4 916.5,814.8 917.0,805.6 917.4,806.2 917.9,808.5 918.3,803.5 918.8,795.3 919.2,796.4 919.7,798.2 920.1,790.3 920.6,789.5 921.0,794.9 921.5,783.1 922.0,780.4 922.4,774.7 922.9,773.5 923.3,778.9 923.8,770.7 924.2,764.6 924.7,763.3 925.1,764.4 925.6,764.7 926.1,756.6 926.5,759.4 927.0,753.2 927.4,755.4 927.9,756.3 928.3,757.7 928.8,755.6 929.2,758.5 929.7,762.8 930.1,757.9 930.6,764.5 931.1,767.1 931.5,770.3 932.0,767.8 932.4,768.8 932.9,771.7 933.3,770.5 933.8,774.8 934.2,779.9 934.7,782.8 935.1,781.7 935.6,788.2 936.1,785.8 936.5,800.5 937.0,799.9 937.4,806.8 937.9,806.3 938.3,814.5 938.8,821.3 939.2,828.2 939.7,824.6 940.1,837.1 940.6,837.7 941.1,839.2 941.5,847.3 942.0,848.0 942.4,851.3 942.9,853.0 943.3,859.4 943.8,861.7 944.2,863.8 944.7,863.7 945.1,867.9 945.6,873.6 946.1,879.2 946.5,876.8 947.0,884.3 947.4,881.4 947.9,879.7 948.3,888.1 948.8,884.3 949.2,891.2 949.7,895.5 950.2,892.2 950.6,894.6 951.1,905.3 951.5,898.6 952.0,899.9 952.4,902.8 952.9,900.7 953.3,901.8 953.8,904.4 954.2,895.4 954.7,910.0 955.2,901.9 955.6,902.7 956.1,909.2 956.5,908.2 957.0,904.3 957.4,910.3 957.9,906.1 958.3,908.3 958.8,906.1 959.2,909.2 959.7,914.2 960.2,913.9 960.6,915.2 961.1,918.0 961.5,915.2 962.0,913.6 962.4,915.5 962.9,923.0 963.3,917.8 963.8,919.4 964.2,918.4 964.7,920.2 965.2,921.4 965.6,920.3 966.1,920.3 966.5,918.6 967.0,918.9 967.4,923.8 967.9,925.6 968.3,926.7 968.8,924.0 969.2,921.3 969.7,927.0 970.2,927.4 970.6,920.2 971.1,928.9 971.5,928.6 972.0,932.9 972.4,923.3 972.9,923.2 973.3,931.0 973.8,922.2 974.3,926.5 974.7,925.6 975.2,926.3 975.6,923.6 976.1,930.0 976.5,934.8 977.0,933.3 977.4,933.8 977.9,931.3 978.3,938.2 978.8,935.3 979.3,937.6 979.7,928.7 980.2,935.9 980.6,930.9 981.1,936.6 981.5,936.4 982.0,932.0 982.4,937.0 982.9,940.8 983.3,938.7 983.8,939.3 984.3,934.3 984.7,935.2 985.2,933.8 985.6,938.5 986.1,942.4 986.5,939.8 987.0,938.3 987.4,934.4 987.9,940.1 988.3,937.8 988.8,931.9 989.3,932.6 989.7,937.7 990.2,935.8 990.6,945.0 991.1,939.3 991.5,935.5 992.0,937.6 992.4,945.1 992.9,936.1 993.3,942.3 993.8,941.2 994.3,944.9 994.7,941.6 995.2,938.3 995.6,941.7 996.1,940.1 996.5,943.4 997.0,939.7 997.4,947.0 997.9,939.6 998.4,941.6 998.8,937.7 999.3,940.5 999.7,940.1 1000.2,940.6 1000.6,943.3 1001.1,938.1 1001.5,936.9 1002.0,943.9 1002.4,938.8 1002.9,937.4 1003.4,943.8 1003.8,942.4 1004.3,930.0 1004.7,938.0 1005.2,942.1 1005.6,942.1 1006.1,937.1 1006.5,944.4 1007.0,935.8 1007.4,937.7 1007.9,938.8 1008.4,938.1 1008.8,940.8 1009.3,941.4 1009.7,937.4 1010.2,942.4 1010.6,934.7 1011.1,936.2 1011.5,942.9 1012.0,936.9 1012.4,940.1 1012.9,934.6 1013.4,934.9 1013.8,935.3 1014.3,936.1 1014.7,934.0 1015.2,935.1 1015.6,937.2 1016.1,938.9 1016.5,934.7 1017.0,936.4 1017.4,937.0 1017.9,929.6 1018.4,927.5 1018.8,938.7 1019.3,937.3 1019.7,932.4 1020.2,933.1 1020.6,928.1 1021.1,926.2 1021.5,931.9 1022.0,925.1 1022.5,933.3 1022.9,927.1 1023.4,930.2 1023.8,935.6 1024.3,935.0 1024.7,926.8 1025.2,931.1 1025.6,923.1 1026.1,924.2 1026.5,927.1 1027.0,930.3 1027.5,922.7 1027.9,926.2 1028.4,924.0 1028.8,918.4 1029.3,921.7 1029.7,926.8 1030.2,920.3 1030.6,921.5 1031.1,921.8 1031.5,915.3 1032.0,921.4 1032.5,921.5 1032.9,921.0 1033.4,919.1 1033.8,912.0 1034.3,910.8 1034.7,909.3 1035.2,908.1 1035.6,907.8 1036.1,913.4 1036.5,914.4 1037.0,906.1 1037.5,910.5 1037.9,902.3 1038.4,904.8 1038.8,901.6 1039.3,898.4 1039.7,903.6 1040.2,902.7 1040.6,900.0 1041.1,898.5 1041.6,895.8 1042.0,897.7 1042.5,894.8 1042.9,896.5 1043.4,889.9 1043.8,893.6 1044.3,893.1 1044.7,894.2 1045.2,891.9 1045.6,887.2 1046.1,882.3 1046.6,876.4 1047.0,881.2 1047.5,884.5 1047.9,883.5 1048.4,866.5 1048.8,871.0 1049.3,870.6 1049.7,866.2 1050.2,868.6 1050.6,866.1 1051.1,862.2 1051.6,862.0 1052.0,854.4 1052.5,854.6 1052.9,852.8 1053.4,857.1 1053.8,845.9 1054.3,848.8 1054.7,850.1 1055.2,844.8 1055.6,845.6 1056.1,838.0 1056.6,839.5 1057.0,838.8 1057.5,841.2 1057.9,833.4 1058.4,833.6 1058.8,826.1 1059.3,824.1 1059.7,827.0 1060.2,821.2 1060.6,821.9 1061.1,817.1 1061.6,819.8 1062.0,818.5 1062.5,804.6 1062.9,812.0 1063.4,804.5 1063.8,802.4 1064.3,798.0 1064.7,798.7 1065.2,789.9 1065.7,789.1 1066.1,786.8 1066.6,788.4 1067.0,788.4 1067.5,785.4 1067.9,781.7 1068.4,776.0 1068.8,769.6 1069.3,775.3 1069.7,772.5 1070.2,771.6 1070.7,774.1 1071.1,767.2 1071.6,766.3 1072.0,757.9 1072.5,767.6 1072.9,764.9 1073.4,761.8 1073.8,765.3 1074.3,759.5 1074.7,760.6 1075.2,768.8 1075.7,763.6 1076.1,763.3 1076.6,761.7 1077.0,760.2 1077.5,757.4 1077.9,763.6 1078.4,753.5 1078.8,754.6 1079.3,748.4 1079.7,744.0 1080.2,731.9 1080.7,728.8 1081.1,736.5 1081.6,732.0 1082.0,720.8 1082.5,717.9 1082.9,715.4 1083.4,704.0 1083.8,707.1 1084.3,688.3 1084.7,679.7 1085.2,662.3 1085.7,668.2 1086.1,654.8 1086.6,653.0 1087.0,635.8 1087.5,631.7 1087.9,621.1 1088.4,611.3 1088.8,607.0 1089.3,595.7 1089.8,579.5 1090.2,558.8 1090.7,546.4 1091.1,527.0 1091.6,501.8 1092.0,481.1 1092.5,462.4 1092.9,439.7 1093.4,425.6 1093.8,410.6 1094.3,380.0 1094.8,362.9 1095.2,346.8 1095.7,321.8 1096.1,308.9 1096.6,284.5 1097.0,272.1 1097.5,257.2 1097.9,248.8 1098.4,240.2 1098.8,229.6 1099.3,216.7 1099.8,196.6 1100.2,202.6 1100.7,189.2 1101.1,180.5 1101.6,178.1 1102.0,180.1 1102.5,176.0 1102.9,179.7 1103.4,182.0 1103.8,188.8 1104.3,188.0 1104.8,196.6 1105.2,201.1 1105.7,207.2 1106.1,223.1 1106.6,231.0 1107.0,239.3 1107.5,259.0 1107.9,273.5 1108.4,287.6 1108.8,303.5 1109.3,325.7 1109.8,331.5 1110.2,346.7 1110.7,363.5 1111.1,394.4 1111.6,413.5 1112.0,431.6 1112.5,449.8 1112.9,475.2 1113.4,495.0 1113.9,505.1 1114.3,526.5 1114.8,549.6 1115.2,569.7 1115.7,581.3 1116.1,604.6 1116.6,626.8 1117.0,635.5 1117.5,645.5 1117.9,654.3 1118.4,663.4 1118.9,682.4 1119.3,698.0 1119.8,705.7 1120.2,724.1 1120.7,740.6 1121.1,750.5 1121.6,767.4 1122.0,777.0 1122.5,797.9 1122.9,801.7 1123.4,822.1 1123.9,823.8 1124.3,831.7 1124.8,838.3 1125.2,845.6 1125.7,850.2 1126.1,854.1 1126.6,859.6 1127.0,867.0 1127.5,871.4 1127.9,870.3 1128.4,879.1 1128.9,874.0 1129.3,876.7 1129.8,879.0 1130.2,887.8 1130.7,882.5 1131.1,885.6 1131.6,897.7 1132.0,901.6 1132.5,902.6 1132.9,894.6 1133.4,902.2 1133.9,907.1 1134.3,906.3 1134.8,901.8 1135.2,907.9 1135.7,904.4 1136.1,907.2 1136.6,920.5 1137.0,916.2 1137.5,909.5 1138.0,910.2 1138.4,918.1 1138.9,915.2 1139.3,920.3 1139.8,916.8 1140.2,919.3 1140.7,921.8 1141.1,918.2 1141.6,916.0 1142.0,919.7 1142.5,922.5 1143.0,925.3 1143.4,926.8 1143.9,927.9 1144.3,931.0 1144.8,927.0 1145.2,936.3 1145.7,939.5 1146.1,934.7 1146.6,935.1 1147.0,939.9 1147.5,938.8 1148.0,938.1 1148.4,937.8 1148.9,936.8 1149.3,936.2 1149.8,943.7 1150.2,946.5 1150.7,939.3 1151.1,943.7 1151.6,945.6 1152.0,944.1 1152.5,943.7 1153.0,945.7 1153.4,940.7 1153.9,948.3 1154.3,948.0 1154.8,957.3 1155.2,953.6 1155.7,949.5 1156.1,951.1 1156.6,957.8 1157.0,957.8 1157.5,953.1 1158.0,952.3 1158.4,947.9 1158.9,952.3 1159.3,953.2 1159.8,951.5 1160.2,960.7 1160.7,948.0 1161.1,954.6 1161.6,956.9 1162.1,957.3 1162.5,962.1 1163.0,951.3 1163.4,954.0 1163.9,957.4 1164.3,957.8 1164.8,956.3 1165.2,955.2 1165.7,962.2 1166.1,954.9 1166.6,956.9 1167.1,964.5 1167.5,965.9 1168.0,963.1 1168.4,957.2 1168.9,957.5 1169.3,957.7 1169.8,957.1 1170.2,960.0 1170.7,966.4 1171.1,963.0 1171.6,959.7 1172.1,960.0 1172.5,958.8 1173.0,967.7 1173.4,956.4 1173.9,965.0 1174.3,959.1 1174.8,960.8 1175.2,959.5 1175.7,968.6 1176.1,965.2 1176.6,975.6 1177.1,962.3 1177.5,962.3 1178.0,968.7 1178.4,968.9 1178.9,966.1 1179.3,960.1 1179.8,972.8 1180.2,969.9 1180.7,969.6 1181.1,966.2 1181.6,970.9 1182.1,966.8 1182.5,969.3 1183.0,968.7 1183.4,974.1 1183.9,968.1 1184.3,968.8 1184.8,974.2 1185.2,971.2 1185.7,970.5 1186.2,969.9 1186.6,974.4 1187.1,968.9 1187.5,973.1 1188.0,978.9 1188.4,973.2 1188.9,969.1 1189.3,967.7 1189.8,972.7 1190.2,967.9 1190.7,966.7 1191.2,969.9 1191.6,968.8 1192.1,976.0 1192.5,967.7 1193.0,978.8 1193.4,970.5 1193.9,973.7 1194.3,975.8 1194.8,974.2 1195.2,976.1 1195.7,970.0 1196.2,965.4 1196.6,972.9 1197.1,967.6 1197.5,971.6 1198.0,977.1 1198.4,973.0 1198.9,971.6 1199.3,969.7 1199.8,972.7 1200.2,973.1 1200.7,968.0 1201.2,974.8 1201.6,969.8 1202.1,974.5 1202.5,972.0 1203.0,977.2 1203.4,976.7 1203.9,973.7 1204.3,973.2 1204.8,975.2 1205.2,978.6 1205.7,977.4 1206.2,974.1 1206.6,974.7 1207.1,979.2 1207.5,967.6 1208.0,975.5 1208.4,970.2 1208.9,978.4 1209.3,971.7 1209.8,973.0 1210.3,969.5 1210.7,973.4 1211.2,976.2 1211.6,979.3 1212.1,968.7 1212.5,971.7 1213.0,987.3 1213.4,976.6 1213.9,973.1 1214.3,975.0 1214.8,963.5 1215.3,978.8 1215.7,973.5 1216.2,967.7 1216.6,977.1 1217.1,970.5 1217.5,969.0 1218.0,974.6 1218.4,974.1 1218.9,970.9 1219.3,972.2 1219.8,967.6 1220.3,967.1 1220.7,975.5 1221.2,976.9 1221.6,973.7 1222.1,973.4 1222.5,970.5 1223.0,971.4 1223.4,968.4 1223.9,978.0 1224.3,969.5 1224.8,973.0 1225.3,971.4 1225.7,966.2 1226.2,978.2 1226.6,969.7 1227.1,968.2 1227.5,971.3 1228.0,967.5 1228.4,970.8 1228.9,967.1 1229.3,972.5 1229.8,970.5 1230.3,965.3 1230.7,973.8 1231.2,970.6 1231.6,965.8 1232.1,970.8 1232.5,970.7 1233.0,975.5 1233.4,965.2 1233.9,970.9 1234.4,966.9 1234.8,968.8 1235.3,964.9 1235.7,965.0 1236.2,966.2 1236.6,959.3 1237.1,955.2 1237.5,961.9 1238.0,959.5 1238.4,960.5 1238.9,961.6 1239.4,957.6 1239.8,961.8 1240.3,956.4 1240.7,956.0 1241.2,957.7 1241.6,955.9 1242.1,952.4 1242.5,952.2 1243.0,947.9 1243.4,947.2 1243.9,948.5 1244.4,949.8 1244.8,944.0 1245.3,947.1 1245.7,949.6 1246.2,948.9 1246.6,939.6 1247.1,941.6 1247.5,938.2 1248.0,936.9 1248.4,934.9 1248.9,931.5 1249.4,930.2 1249.8,925.4 1250.3,921.2 1250.7,920.4 1251.2,918.5 1251.6,918.3 1252.1,912.4 1252.5,910.8 1253.0,910.4 1253.4,898.9 1253.9,898.1 1254.4,897.6 1254.8,892.3 1255.3,885.0 1255.7,888.6 1256.2,881.1 1256.6,874.0 1257.1,880.8 1257.5,865.7 1258.0,866.7 1258.5,860.8 1258.9,860.3 1259.4,858.6 1259.8,850.4 1260.3,849.7 1260.7,846.4 1261.2,840.0 1261.6,844.7 1262.1,838.0 1262.5,833.3 1263.0,829.0 1263.5,827.3 1263.9,826.2 1264.4,821.2 1264.8,824.4 1265.3,807.5 1265.7,805.7 1266.2,809.3 1266.6,800.4 1267.1,803.8 1267.5,798.9 1268.0,800.9 1268.5,798.2 1268.9,799.7 1269.4,797.1 1269.8,797.7 1270.3,795.2 1270.7,798.0 1271.2,797.5 1271.6,795.6 1272.1,795.8 1272.5,799.0 1273.0,808.4 1273.5,801.6 1273.9,814.5 1274.4,814.9 1274.8,824.0 1275.3,825.6 1275.7,825.6 1276.2,831.5 1276.6,826.3 1277.1,838.7 1277.5,842.6 1278.0,837.5 1278.5,850.5 1278.9,850.4 1279.4,854.8 1279.8,852.5 1280.3,863.2 1280.7,866.6 1281.2,868.0 1281.6,868.1 1282.1,877.9 1282.6,883.3 1283.0,884.0 1283.5,890.0 1283.9,888.4 1284.4,895.2 1284.8,900.3 1285.3,903.6 1285.7,917.4 1286.2,912.8 1286.6,913.2 1287.1,921.8 1287.6,918.3 1288.0,926.7 1288.5,931.0 1288.9,929.3 1289.4,932.7 1289.8,933.1 1290.3,939.6 1290.7,939.3 1291.2,950.4 1291.6,948.8 1292.1,947.9 1292.6,945.7 1293.0,960.1 1293.5,959.2 1293.9,957.9 1294.4,958.4 1294.8,959.6 1295.3,958.6 1295.7,968.3 1296.2,963.4 1296.6,958.6 1297.1,962.5 1297.6,956.6 1298.0,969.3 1298.5,970.6 1298.9,975.2 1299.4,977.2 1299.8,967.7 1300.3,973.0 1300.7,975.7 1301.2,975.8 1301.6,971.8 1302.1,977.2 1302.6,976.8 1303.0,980.6 1303.5,976.2 1303.9,976.1 1304.4,975.7 1304.8,976.8 1305.3,975.9 1305.7,978.1 1306.2,981.7 1306.7,982.1 1307.1,985.8 1307.6,985.6 1308.0,984.5 1308.5,978.6 1308.9,985.4 1309.4,988.1 1309.8,979.7 1310.3,981.0 1310.7,982.1 1311.2,982.2 1311.7,985.4 1312.1,983.6 1312.6,988.8 1313.0,983.4 1313.5,987.7 1313.9,986.7 1314.4,985.4 1314.8,992.9 1315.3,989.5 1315.7,991.6 1316.2,988.7 1316.7,992.5 1317.1,992.3 1317.6,989.6 1318.0,983.8 1318.5,993.2 1318.9,992.7 1319.4,990.8 1319.8,991.0 1320.3,990.5 1320.7,990.7 1321.2,986.4 1321.7,989.7 1322.1,991.0 1322.6,987.6 1323.0,986.3 1323.5,996.4 1323.9,991.8 1324.4,988.4 1324.8,987.7 1325.3,979.9 1325.8,984.2 1326.2,988.4 1326.7,993.9 1327.1,981.7 1327.6,986.6 1328.0,995.9 1328.5,991.4 1328.9,990.5 1329.4,993.2 1329.8,988.5 1330.3,988.3 1330.8,991.5 1331.2,992.0 1331.7,985.1 1332.1,994.4 1332.6,982.7 1333.0,986.5 1333.5,1000.1 1333.9,987.2 1334.4,991.4 1334.8,985.5 1335.3,988.0 1335.8,986.5 1336.2,987.7 1336.7,991.6 1337.1,995.6 1337.6,992.5 1338.0,995.0 1338.5,987.6 1338.9,994.7 1339.4,991.6 1339.8,994.5 1340.3,988.1 1340.8,988.9 1341.2,994.7 1341.7,992.0 1342.1,990.3 1342.6,987.5 1343.0,989.7 1343.5,991.8 1343.9,992.8 1344.4,988.2 1344.8,989.1 1345.3,991.9 1345.8,986.5 1346.2,993.9 1346.7,990.6 1347.1,990.2 1347.6,982.0 1348.0,985.0 1348.5,987.1 1348.9,988.8 1349.4,987.1 1349.9,992.4 1350.3,991.6 1350.8,990.3 1351.2,984.0 1351.7,996.5 1352.1,990.5 1352.6,993.7 1353.0,989.3 1353.5,991.8 1353.9,994.4 1354.4,992.8 1354.9,995.5 1355.3,991.5 1355.8,999.4 1356.2,985.5 1356.7,990.4 1357.1,996.0 1357.6,991.7 1358.0,991.1 1358.5,986.4 1358.9,997.2 1359.4,986.1 1359.9,994.8 1360.3,993.8 1360.8,996.3 1361.2,998.5 1361.7,990.8 1362.1,990.5 1362.6,992.3 1363.0,987.3 1363.5,996.6 1363.9,992.2 1364.4,994.3 1364.9,989.7 1365.3,993.9 1365.8,991.7 1366.2,993.7 1366.7,990.1 1367.1,997.8 1367.6,991.8 1368.0,985.0 1368.5,996.6 1368.9,993.2 1369.4,991.1 1369.9,1003.4 1370.3,994.2 1370.8,989.6 1371.2,992.3 1371.7,995.9 1372.1,993.7 1372.6,999.0 1373.0,998.4 1373.5,991.7 1374.0,994.7 1374.4,996.9 1374.9,993.1 1375.3,993.0 1375.8,997.8 1376.2,996.3 1376.7,989.6 1377.1,992.7 1377.6,993.1 1378.0,994.2 1378.5,992.0 1379.0,999.4 1379.4,991.0 1379.9,990.5 1380.3,995.2 1380.8,986.2 1381.2,990.6 1381.7,996.5 1382.1,989.4 1382.6,991.1 1383.0,997.9 1383.5,995.6 1384.0,994.1 1384.4,994.6 1384.9,991.2 1385.3,994.7 1385.8,992.8 1386.2,1002.4 1386.7,995.2 1387.1,991.9 1387.6,992.9 1388.0,993.1 1388.5,987.8 1389.0,989.7 1389.4,998.0 1389.9,987.4 1390.3,990.2 1390.8,995.8 1391.2,997.4 1391.7,988.2 1392.1,997.0 1392.6,990.2 1393.0,997.4 1393.5,993.0 1394.0,990.1 1394.4,993.5 1394.9,992.8 1395.3,987.8 1395.8,998.1 1396.2,989.0 1396.7,994.2 1397.1,988.1 1397.6,983.1 1398.1,985.5 1398.5,989.0 1399.0,991.6 1399.4,995.3 1399.9,989.0 1400.3,987.5 1400.8,983.9 1401.2,988.0 1401.7,989.0 1402.1,979.8 1402.6,992.3 1403.1,991.4 1403.5,995.3 1404.0,983.7 1404.4,986.9 1404.9,986.6 1405.3,981.5 1405.8,983.0 1406.2,982.3 1406.7,987.5 1407.1,987.0 1407.6,990.1 1408.1,983.5 1408.5,979.7 1409.0,986.0 1409.4,985.5 1409.9,986.3 1410.3,988.0 1410.8,981.1 1411.2,985.7 1411.7,978.9 1412.1,982.7 1412.6,984.2 1413.1,980.9 1413.5,981.7 1414.0,975.5 1414.4,977.8 1414.9,980.2 1415.3,974.9 1415.8,975.8 1416.2,987.2 1416.7,978.9 1417.1,974.5 1417.6,973.3 1418.1,981.5 1418.5,966.0 1419.0,974.3 1419.4,977.3 1419.9,972.5 1420.3,975.9 1420.8,969.8 1421.2,973.1 1421.7,972.8 1422.2,972.3 1422.6,972.3 1423.1,971.5 1423.5,974.9 1424.0,969.5 1424.4,967.9 1424.9,968.6 1425.3,968.2 1425.8,963.3 1426.2,961.5 1426.7,963.1 1427.2,968.5 1427.6,964.6 1428.1,965.0 1428.5,976.3 1429.0,969.5 1429.4,964.2 1429.9,962.1 1430.3,968.9 1430.8,960.6 1431.2,967.3 1431.7,964.5 1432.2,966.8 1432.6,958.7 1433.1,964.1 1433.5,953.8 1434.0,959.3 1434.4,963.4 1434.9,961.6 1435.3,952.0 1435.8,960.7 1436.2,959.5 1436.7,957.3 1437.2,954.7 1437.6,956.0 1438.1,954.7 1438.5,960.0 1439.0,958.1 1439.4,960.1 1439.9,958.6 1440.3,951.5 1440.8,956.6 1441.2,963.9 1441.7,952.3 1442.2,957.4 1442.6,953.8 1443.1,953.7 1443.5,957.9 1444.0,960.8 1444.4,960.6 1444.9,959.9 1445.3,962.1 1445.8,953.3 1446.3,962.6 1446.7,961.6 1447.2,960.0 1447.6,961.1 1448.1,958.6 1448.5,966.5 1449.0,960.1 1449.4,958.1 1449.9,963.9 1450.3,962.4 1450.8,964.8 1451.3,971.1 1451.7,965.7 1452.2,967.2 1452.6,975.4 1453.1,962.7 1453.5,969.5 1454.0,972.8 1454.4,974.5 1454.9,977.5 1455.3,967.4 1455.8,972.3 1456.3,970.2 1456.7,969.3 1457.2,968.7 1457.6,966.4 1458.1,973.3 1458.5,975.2 1459.0,969.0 1459.4,976.0 1459.9,971.7 1460.3,970.4 1460.8,965.0 1461.3,978.9 1461.7,977.9 1462.2,974.6 1462.6,974.7 1463.1,971.8 1463.5,978.7 1464.0,977.0 1464.4,979.5 1464.9,978.6 1465.3,973.2 1465.8,973.0 1466.3,980.5 1466.7,973.2 1467.2,980.6 1467.6,983.2 1468.1,975.5 1468.5,982.9 1469.0,980.9 1469.4,982.9 1469.9,978.9 1470.4,981.3 1470.8,983.1 1471.3,988.4 1471.7,984.6 1472.2,983.8 1472.6,977.4 1473.1,983.4 1473.5,979.8 1474.0,982.0 1474.4,983.2 1474.9,985.7 1475.4,984.2 1475.8,982.6 1476.3,981.5 1476.7,986.4 1477.2,978.0 1477.6,981.0 1478.1,985.5 1478.5,979.5 1479.0,982.8 1479.4,982.6 1479.9,986.1 1480.4,982.6 1480.8,972.1 1481.3,977.6 1481.7,978.2 1482.2,979.7 1482.6,977.6 1483.1,982.6 1483.5,979.2 1484.0,970.5 1484.4,972.0 1484.9,966.4 1485.4,979.7 1485.8,972.4 1486.3,971.9 1486.7,966.1 1487.2,969.7 1487.6,972.3 1488.1,968.6 1488.5,968.1 1489.0,966.6 1489.4,975.4 1489.9,965.6 1490.4,961.6 1490.8,964.3 1491.3,964.2 1491.7,964.4 1492.2,963.0 1492.6,959.1 1493.1,961.5 1493.5,962.7 1494.0,955.1 1494.5,966.2 1494.9,964.0 1495.4,949.9 1495.8,953.9 1496.3,957.6 1496.7,957.5 1497.2,957.8 1497.6,943.3 1498.1,944.7 1498.5,945.7 1499.0,948.5 1499.5,941.5 1499.9,946.1 1500.4,945.3 1500.8,945.4 1501.3,937.1 1501.7,941.6 1502.2,940.2 1502.6,937.5 1503.1,942.8 1503.5,936.1 1504.0,941.6 1504.5,933.3 1504.9,940.9 1505.4,939.9 1505.8,930.1 1506.3,933.7 1506.7,933.1 1507.2,927.8 1507.6,933.8 1508.1,932.8 1508.5,927.2 1509.0,930.6 1509.5,933.5 1509.9,929.7 1510.4,927.9 1510.8,936.8 1511.3,927.6 1511.7,932.9 1512.2,936.3 1512.6,935.7 1513.1,926.8 1513.5,933.0 1514.0,934.5 1514.5,935.0 1514.9,938.9 1515.4,939.5 1515.8,938.8 1516.3,940.1 1516.7,943.7 1517.2,945.4 1517.6,934.7 1518.1,950.3 1518.6,941.0 1519.0,946.6 1519.5,938.3 1519.9,942.9 1520.4,940.7 1520.8,949.7 1521.3,949.5 1521.7,946.7 1522.2,946.6 1522.6,949.1 1523.1,944.7 1523.6,946.4 1524.0,946.3 1524.5,952.6 1524.9,950.2 1525.4,945.9 1525.8,952.3 1526.3,953.4 1526.7,957.0 1527.2,950.3 1527.6,954.2 1528.1,960.8 1528.6,952.4 1529.0,952.6 1529.5,956.1 1529.9,952.8 1530.4,954.9 1530.8,953.3 1531.3,952.6 1531.7,958.9 1532.2,954.5 1532.6,952.4 1533.1,955.2 1533.6,955.8 1534.0,957.5 1534.5,959.9 1534.9,963.0 1535.4,952.0 1535.8,955.5 1536.3,949.5 1536.7,956.7 1537.2,957.5 1537.6,952.8 1538.1,951.5 1538.6,950.7 1539.0,948.3 1539.5,955.5 1539.9,959.6 1540.4,947.8 1540.8,957.2 1541.3,950.2 1541.7,944.8 1542.2,951.2 1542.7,951.2 1543.1,949.1 1543.6,946.0 1544.0,952.3 1544.5,944.5 1544.9,947.2 1545.4,946.5 1545.8,940.2 1546.3,936.0 1546.7,935.6 1547.2,939.7 1547.7,941.6 1548.1,933.0 1548.6,936.0 1549.0,943.3 1549.5,930.3 1549.9,937.6 1550.4,936.2 1550.8,936.8 1551.3,927.5 1551.7,933.1 1552.2,925.7 1552.7,934.6 1553.1,925.5 1553.6,928.9 1554.0,923.4 1554.5,925.6 1554.9,918.2 1555.4,923.5 1555.8,923.2 1556.3,919.5 1556.7,923.9 1557.2,917.8 1557.7,917.8 1558.1,915.2 1558.6,918.6 1559.0,907.7 1559.5,907.5 1559.9,906.0 1560.4,907.5 1560.8,904.6 1561.3,905.1 1561.7,901.6 1562.2,897.1 1562.7,897.1 1563.1,897.2 1563.6,885.4 1564.0,896.9 1564.5,887.8 1564.9,886.5 1565.4,886.8 1565.8,882.9 1566.3,876.5 1566.8,879.0 1567.2,883.0 1567.7,879.9 1568.1,878.9 1568.6,870.7 1569.0,870.5 1569.5,873.8 1569.9,874.2 1570.4,867.9 1570.8,863.5 1571.3,859.5 1571.8,871.5 1572.2,860.7 1572.7,868.2 1573.1,870.5 1573.6,880.1 1574.0,870.0 1574.5,870.3 1574.9,874.0 1575.4,875.9 1575.8,880.9 1576.3,880.5 1576.8,877.2 1577.2,874.4 1577.7,885.4 1578.1,884.0 1578.6,893.9 1579.0,885.9 1579.5,893.6 1579.9,892.0 1580.4,893.3 1580.8,904.7 1581.3,901.1 1581.8,901.7 1582.2,907.2 1582.7,903.6 1583.1,907.2 1583.6,908.3 1584.0,920.2 1584.5,916.2 1584.9,919.5 1585.4,923.6 1585.8,921.0 1586.3,923.4 1586.8,920.2 1587.2,930.4 1587.7,932.0 1588.1,932.1 1588.6,940.7 1589.0,932.2 1589.5,943.1 1589.9,939.0 1590.4,942.5 1590.9,948.4 1591.3,956.6 1591.8,949.6 1592.2,952.8 1592.7,954.5 1593.1,969.0 1593.6,965.9 1594.0,967.9 1594.5,976.4 1594.9,971.8 1595.4,965.1 1595.9,973.0 1596.3,972.2 1596.8,985.8 1597.2,974.4 1597.7,982.2 1598.1,980.6 1598.6,982.2 1599.0,985.3 1599.5,986.0 1599.9,985.2 1600.4,984.3 1600.9,987.6 1601.3,987.3 1601.8,988.9 1602.2,993.7 1602.7,993.7 1603.1,997.0 1603.6,995.2 1604.0,1004.1 1604.5,995.0 1604.9,994.7 1605.4,1003.0 1605.9,997.1 1606.3,1000.8 1606.8,1004.6 1607.2,1001.1 1607.7,1000.7 1608.1,1006.1 1608.6,1004.2 1609.0,1001.5 1609.5,999.5 1610.0,1003.0 1610.4,998.6 1610.9,1002.0 1611.3,1001.5 1611.8,1007.1 1612.2,1009.3 1612.7,1004.3 1613.1,1005.5 1613.6,1003.4 1614.0,1002.6 1614.5,1006.5 1615.0,1010.6 1615.4,1010.5 1615.9,1011.3 1616.3,1008.4 1616.8,999.5 1617.2,1013.5 1617.7,1015.2 1618.1,1014.0 1618.6,1014.2 1619.0,1015.3 1619.5,1021.5 1620.0,1012.9 1620.4,1017.8 1620.9,1015.3 1621.3,1015.1 1621.8,1012.3 1622.2,1011.8 1622.7,1009.1 1623.1,1015.8 1623.6,1012.7 1624.0,1009.6 1624.5,1011.5 1625.0,1010.1 1625.4,1020.7 1625.9,1014.1 1626.3,1015.6 1626.8,1010.9 1627.2,1011.7 1627.7,1019.7 1628.1,1015.1 1628.6,1017.0 1629.0,1023.2 1629.5,1024.3 1630.0,1019.2 1630.4,1018.6 1630.9,1017.8 1631.3,1016.0 1631.8,1024.8 1632.2,1012.8 1632.7,1017.1 1633.1,1010.4 1633.6,1013.0 1634.1,1019.3 1634.5,1019.6 1635.0,1019.3 1635.4,1016.9 1635.9,1015.6 1636.3,1016.3 1636.8,1017.0 1637.2,1022.6 1637.7,1024.1 1638.1,1020.3 1638.6,1016.8 1639.1,1015.3 1639.5,1020.1 1640.0,1018.1 1640.4,1012.2 1640.9,1024.3 1641.3,1019.2 1641.8,1018.1 1642.2,1016.1 1642.7,1016.1 1643.1,1022.9 1643.6,1016.0 1644.1,1020.0 1644.5,1022.1 1645.0,1026.7 1645.4,1022.1 1645.9,1019.8 1646.3,1018.3 1646.8,1023.3 1647.2,1023.9 1647.7,1018.6 1648.1,1022.5 1648.6,1019.8 1649.1,1014.3 1649.5,1016.7 1650.0,1023.6 1650.4,1026.0 1650.9,1023.2 1651.3,1020.0 1651.8,1018.1 1652.2,1022.9 1652.7,1022.2 1653.1,1015.0 1653.6,1023.5 1654.1,1018.5 1654.5,1023.7 1655.0,1023.3 1655.4,1024.1 1655.9,1025.4 1656.3,1024.1 1656.8,1017.6 1657.2,1017.8 1657.7,1025.6 1658.2,1023.5 1658.6,1015.9 1659.1,1014.4 1659.5,1025.3 1660.0,1030.3 1660.4,1025.2 1660.9,1021.3 1661.3,1023.2 1661.8,1012.1 1662.2,1018.6 1662.7,1026.2 1663.2,1025.7 1663.6,1014.6 1664.1,1027.0 1664.5,1024.6 1665.0,1026.2 1665.4,1022.0 1665.9,1022.8 1666.3,1018.8 1666.8,1024.1 1667.2,1026.3 1667.7,1019.5 1668.2,1024.5 1668.6,1021.1 1669.1,1027.1 1669.5,1026.9 1670.0,1014.5 1670.4,1025.0 1670.9,1027.2 1671.3,1021.4 1671.8,1022.7 1672.2,1023.0 1672.7,1019.3 1673.2,1023.2 1673.6,1029.5 1674.1,1025.5 1674.5,1029.5 1675.0,1027.5 1675.4,1028.4 1675.9,1024.4 1676.3,1026.9 1676.8,1031.6 1677.2,1029.6 1677.7,1025.3 1678.2,1021.5 1678.6,1020.7 1679.1,1025.1 1679.5,1025.9 1680.0,1017.4 1680.4,1025.1 1680.9,1025.7 1681.3,1025.5 1681.8,1022.4 1682.3,1033.1 1682.7,1027.8 1683.2,1019.4 1683.6,1021.9 1684.1,1027.6 1684.5,1026.5 1685.0,1025.1 1685.4,1024.5 1685.9,1023.9 1686.3,1023.0 1686.8,1020.9 1687.3,1026.9 1687.7,1014.3 1688.2,1022.0 1688.6,1029.4 1689.1,1021.8 1689.5,1020.3 1690.0,1031.8 1690.4,1028.7 1690.9,1024.2 1691.3,1022.6 1691.8,1023.9 1692.3,1023.5 1692.7,1023.9 1693.2,1022.1 1693.6,1026.8 1694.1,1022.7 1694.5,1018.1 1695.0,1020.0 1695.4,1024.8 1695.9,1021.0 1696.3,1015.6 1696.8,1030.4 1697.3,1026.7 1697.7,1023.0 1698.2,1022.8 1698.6,1026.7 1699.1,1029.9 1699.5,1022.4 1700.0,1026.3 1700.4,1022.4 1700.9,1026.0 1701.3,1020.5 1701.8,1017.9 1702.3,1025.0 1702.7,1024.5 1703.2,1027.4 1703.6,1022.2 1704.1,1029.8 1704.5,1025.0 1705.0,1030.4 1705.4,1023.4 1705.9,1030.3 1706.4,1024.4 1706.8,1025.2 1707.3,1028.2 1707.7,1018.0 1708.2,1020.7 1708.6,1031.5 1709.1,1019.0 1709.5,1022.8 1710.0,1026.6 1710.4,1030.1 1710.9,1022.7 1711.4,1025.1 1711.8,1020.4 1712.3,1023.1 1712.7,1028.4 1713.2,1025.8 1713.6,1024.4 1714.1,1026.1 1714.5,1025.0 1715.0,1025.2 1715.4,1023.2 1715.9,1020.9 1716.4,1027.0 1716.8,1020.2 1717.3,1028.3 1717.7,1032.4 1718.2,1030.1 1718.6,1033.1 1719.1,1020.6 1719.5,1025.4 1720.0,1021.4 1720.4,1021.7 1720.9,1018.0 1721.4,1019.9 1721.8,1027.6 1722.3,1027.0 1722.7,1028.9 1723.2,1028.6 1723.6,1027.3 1724.1,1021.4 1724.5,1023.9 1725.0,1027.1 1725.4,1029.0 1725.9,1022.9 1726.4,1022.5 1726.8,1022.7 1727.3,1030.2 1727.7,1026.4 1728.2,1023.1 1728.6,1021.4 1729.1,1025.9 1729.5,1018.0 1730.0,1023.4 1730.5,1022.1 1730.9,1022.0 1731.4,1024.9 1731.8,1025.7 1732.3,1035.4 1732.7,1024.5 1733.2,1026.7 1733.6,1021.1 1734.1,1018.0 1734.5,1028.3 1735.0,1031.4 1735.5,1020.4 1735.9,1023.8 1736.4,1028.2 1736.8,1024.4 1737.3,1015.1 1737.7,1027.7 1738.2,1023.4 1738.6,1026.6 1739.1,1020.4 1739.5,1027.2 1740.0,1027.8 1740.5,1021.2 1740.9,1025.7 1741.4,1021.5 1741.8,1022.0 1742.3,1020.4 1742.7,1022.2 1743.2,1021.3 1743.6,1028.1 1744.1,1022.9 1744.5,1019.5 1745.0,1028.7 1745.5,1025.7 1745.9,1027.3 1746.4,1023.4 1746.8,1026.2 1747.3,1023.2 1747.7,1020.0 1748.2,1023.9 1748.6,1024.1 1749.1,1024.0 1749.5,1026.6 1750.0,1017.1 1750.5,1024.6 1750.9,1020.5 1751.4,1022.4 1751.8,1025.1 1752.3,1023.6 1752.7,1020.9 1753.2,1026.2 1753.6,1023.1 1754.1,1026.8 1754.6,1027.9 1755.0,1022.0 1755.5,1019.2 1755.9,1023.6 1756.4,1026.3 1756.8,1024.4 1757.3,1018.9 1757.7,1016.9 1758.2,1019.7 1758.6,1019.7 1759.1,1025.4 1759.6,1023.4 1760.0,1026.3 1760.5,1022.8 1760.9,1029.2 1761.4,1023.1 1761.8,1025.1 1762.3,1021.5 1762.7,1024.6 1763.2,1027.0 1763.6,1025.8 1764.1,1027.6 1764.6,1020.7 1765.0,1024.6 1765.5,1029.1 1765.9,1023.8 1766.4,1022.2 1766.8,1021.9 1767.3,1020.8 1767.7,1023.2 1768.2,1027.8 1768.6,1024.3 1769.1,1022.5 1769.6,1019.7 1770.0,1018.4 1770.5,1031.2 1770.9,1020.7 1771.4,1022.7 1771.8,1020.6 1772.3,1022.9 1772.7,1020.7 1773.2,1022.5 1773.6,1027.4 1774.1,1019.3 1774.6,1023.8 1775.0,1021.5 1775.5,1024.3 1775.9,1019.0 1776.4,1022.9 1776.8,1017.6 1777.3,1014.4 1777.7,1016.1 1778.2,1017.2 1778.7,1016.4 1779.1,1019.1 1779.6,1024.1 1780.0,1015.7 1780.5,1021.3 1780.9,1020.0 1781.4,1016.7 1781.8,1015.6 1782.3,1020.4 1782.7,1020.4 1783.2,1017.1 1783.7,1017.6 1784.1,1017.9 1784.6,1012.9 1785.0,1017.9 1785.5,1018.4 1785.9,1023.4 1786.4,1012.2 1786.8,1013.4 1787.3,1016.7 1787.7,1014.0 1788.2,1014.4 1788.7,1015.7 1789.1,1014.4 1789.6,1015.1 1790.0,1016.6 1790.5,1009.0 1790.9,1016.7 1791.4,1006.3 1791.8,1020.4 1792.3,1017.3 1792.7,1011.6 1793.2,1017.2 1793.7,1012.8 1794.1,1014.7 1794.6,1015.6 1795.0,1013.9 1795.5,1012.4 1795.9,1014.4 1796.4,1011.2 1796.8,1010.3 1797.3,1007.9 1797.7,1004.5 1798.2,1016.5 1798.7,1013.3 1799.1,1005.1 1799.6,1011.3 1800.0,1010.3 1800.5,1001.2 1800.9,1005.8 1801.4,1008.1 1801.8,1014.3 1802.3,1011.6 1802.8,1011.8 1803.2,1008.0 1803.7,1010.0 1804.1,1001.7 1804.6,1007.7 1805.0,1007.5 1805.5,999.7 1805.9,1004.4 1806.4,1008.2 1806.8,1008.9 1807.3,1006.2 1807.8,997.6 1808.2,998.9 1808.7,996.3 1809.1,1001.6 1809.6,993.1 1810.0,991.3 1810.5,988.1 1810.9,993.5 1811.4,993.2 1811.8,988.4 1812.3,986.6 1812.8,987.4 1813.2,991.6 1813.7,980.4 1814.1,983.6 1814.6,982.9 1815.0,981.9 1815.5,983.4 1815.9,980.2 1816.4,976.6 1816.8,979.3 1817.3,976.6 1817.8,972.0 1818.2,970.4 1818.7,963.8 1819.1,967.1 1819.6,962.4 1820.0,959.7 1820.5,961.4 1820.9,954.8 1821.4,956.5 1821.8,956.5 1822.3,958.2 1822.8,954.6 1823.2,956.0 1823.7,959.0 1824.1,954.8 1824.6,946.3 1825.0,942.6 1825.5,944.3 1825.9,943.1 1826.4,937.8 1826.9,937.6 1827.3,936.7 1827.8,939.8 1828.2,946.5 1828.7,947.2 1829.1,937.3 1829.6,939.5 1830.0,936.8 1830.5,936.6 1830.9,943.2 1831.4,944.8 1831.9,943.7 1832.3,949.8 1832.8,947.8 1833.2,954.6 1833.7,950.4 1834.1,956.9 1834.6,954.6 1835.0,957.3 1835.5,960.5 1835.9,955.0 1836.4,958.7 1836.9,962.8 1837.3,963.8 1837.8,967.4 1838.2,965.3 1838.7,965.1 1839.1,971.2 1839.6,974.3 1840.0,971.9 1840.5,980.7 1840.9,980.5 1841.4,982.7 1841.9,984.1 1842.3,979.8 1842.8,992.2 1843.2,983.6 1843.7,989.1 1844.1,991.9 1844.6,992.0 1845.0,992.9 1845.5,990.6 1845.9,993.3 1846.4,995.9 1846.9,1001.4 1847.3,995.2 1847.8,1000.9 1848.2,1000.7 1848.7,1000.2 1849.1,998.7 1849.6,1000.9 1850.0,995.8 1850.5,1003.1 1851.0,1004.5 1851.4,1002.1 1851.9,1006.4 1852.3,1006.2 1852.8,1003.0 1853.2,1009.1 1853.7,1004.6 1854.1,1015.6 1854.6,1003.6 1855.0,1004.8 1855.5,1005.7 1856.0,1009.2 1856.4,1012.7 1856.9,1009.1 1857.3,1007.6 1857.8,1016.1 1858.2,1013.1 1858.7,1008.6 1859.1,1009.4 1859.6,1004.5 1860.0,1010.3 1860.5,1016.5 1861.0,1006.3 1861.4,1005.5 1861.9,1011.2 1862.3,1002.3 1862.8,1016.0 1863.2,1005.7 1863.7,1008.7 1864.1,1010.8 1864.6,1015.8 1865.0,1013.0 1865.5,1004.9 1866.0,1005.7 1866.4,1012.7 1866.9,1004.5 1867.3,1011.1 1867.8,1009.3 1868.2,1015.3 1868.7,1016.9 1869.1,1003.6 1869.6,1014.4 1870.0,1015.3 1870.5,1010.4 1871.0,1011.2 1871.4,1009.2 1871.9,1012.4 1872.3,1015.3 1872.8,1018.8 1873.2,1019.4 1873.7,1013.4 1874.1,1011.6 1874.6,1018.4 1875.1,1005.0 1875.5,1010.1 1876.0,1017.7 1876.4,1023.6 1876.9,1012.9 1877.3,1016.3 1877.8,1012.1 1878.2,1016.1 1878.7,1016.3 1879.1,1014.1 1879.6,1018.4 1880.1,1016.6 1880.5,1019.3 1881.0,1016.9 1881.4,1013.5 1881.9,1018.6 1882.3,1021.4 1882.8,1015.7 1883.2,1023.6 1883.7,1020.6 1884.1,1017.9 1884.6,1019.5 1885.1,1018.1 1885.5,1016.6 1886.0,1023.3 1886.4,1023.5 1886.9,1018.8 1887.3,1020.0 1887.8,1020.1 1888.2,1023.5 1888.7,1026.5 1889.1,1019.1 1889.6,1022.7 1890.1,1021.7 1890.5,1024.0 1891.0,1027.4 1891.4,1019.2 1891.9,1015.2 1892.3,1022.2 1892.8,1017.2 1893.2,1029.1 1893.7,1020.8 1894.2,1022.4 1894.6,1024.5 1895.1,1024.5 1895.5,1022.4 1896.0,1024.1 1896.4,1027.7 1896.9,1023.3 1897.3,1031.2 1897.8,1026.0 1898.2,1016.4 1898.7,1028.2 1899.2,1018.8 1899.6,1026.4 1900.1,1033.5 1900.5,1029.4 1901.0,1021.5 1901.4,1022.8 1901.9,1025.9 1902.3,1031.2 1902.8,1023.4 1903.2,1030.2 1903.7,1027.4 1904.2,1026.0 1904.6,1025.9 1905.1,1032.7 1905.5,1021.3 1906.0,1022.7 1906.4,1030.1 1906.9,1030.6 1907.3,1022.4 1907.8,1023.9 1908.2,1023.1 1908.7,1029.3 1909.2,1025.1 1909.6,1032.7 1910.1,1030.4 1910.5,1028.6"/>
<line x1="524.4" y1="825.5" x2="524.4" y2="1215" stroke="#000" stroke-width="2.6" stroke-dasharray="5 2.2"/>
<line x1="803" y1="879" x2="805.5" y2="1267" stroke="#000" stroke-width="2.6" stroke-dasharray="5 2.2"/>
<line x1="884" y1="768" x2="884.5" y2="1156" stroke="#000" stroke-width="2.2" stroke-dasharray="5 2.2"/>
<line x1="928.7" y1="714" x2="934" y2="1194" stroke="#000" stroke-width="2.6" stroke-dasharray="5 2.2"/>
<line x1="1075" y1="511" x2="1075" y2="1032" stroke="#000" stroke-width="2.2" stroke-dasharray="5 2.2"/>
<line x1="1104" y1="151" x2="1104.5" y2="1151" stroke="#000" stroke-width="2.4" stroke-dasharray="5 2.2"/>
<line x1="1268.3" y1="751.5" x2="1268.3" y2="1272" stroke="#000" stroke-width="2.2" stroke-dasharray="5 2.2"/>
<line x1="1444.5" y1="884.7" x2="1444.5" y2="1333" stroke="#000" stroke-width="2.8" stroke-dasharray="5 2.2"/>
<line x1="1514.5" y1="626" x2="1514.5" y2="1147" stroke="#000" stroke-width="2.8" stroke-dasharray="5 2.2"/>
<line x1="1573" y1="842.4" x2="1573" y2="1290.4" stroke="#000" stroke-width="2.4" stroke-dasharray="5 2.2"/>
<line x1="1827.8" y1="785.6" x2="1827.8" y2="1309" stroke="#000" stroke-width="2.4" stroke-dasharray="5 2.2"/>
<line x1="727" y1="670" x2="888" y2="768" stroke="#000" stroke-width="2.4"/>
<line x1="981" y1="429" x2="1077" y2="516" stroke="#000" stroke-width="2.4" stroke-dasharray="4 2.4"/>
<g fill="#000">
<rect x="316" y="55" width="6" height="1292"/>
<rect x="1908" y="55" width="5" height="1292"/>
<rect x="294" y="55" width="1619" height="5"/>
<rect x="294" y="1341" width="1619" height="6"/>
<rect x="294" y="912" width="22" height="6"/>
<rect x="294" y="483" width="22" height="6"/>
<rect x="306" y="1126.5" width="10" height="6"/>
<rect x="306" y="697.5" width="10" height="6"/>
<rect x="306" y="268.5" width="10" height="6"/>
<rect x="316" y="1347" width="6" height="22"/>
<rect x="543" y="1347" width="6" height="22"/>
<rect x="771" y="1347" width="6" height="22"/>
<rect x="998" y="1347" width="6" height="22"/>
<rect x="1225" y="1347" width="6" height="22"/>
<rect x="1453" y="1347" width="6" height="22"/>
<rect x="1680" y="1347" width="6" height="22"/>
<rect x="1908" y="1347" width="5" height="22"/>
<rect x="430" y="1347" width="6" height="10"/>
<rect x="657" y="1347" width="6" height="10"/>
<rect x="884" y="1347" width="6" height="10"/>
<rect x="1112" y="1347" width="6" height="10"/>
<rect x="1339" y="1347" width="6" height="10"/>
<rect x="1566" y="1347" width="6" height="10"/>
<rect x="1794" y="1347" width="6" height="10"/>
</g>
<g font-family='"Liberation Sans", Arial, Helvetica, sans-serif' fill="#000" style="font-kerning:none">
<text transform="translate(110.74,73.20) scale(1,1.0120)" font-size="54.40">30,000</text>
<text transform="translate(110.74,502.50) scale(1,1.0120)" font-size="54.40">20,000</text>
<text transform="translate(110.74,931.50) scale(1,1.0120)" font-size="54.40">10,000</text>
<text transform="translate(246.87,1359.50) scale(1,1.0120)" font-size="54.40">0</text>
<text transform="translate(289.55,1428.36) scale(1,0.9907)" font-size="55.60">10</text>
<text transform="translate(515.13,1428.36) scale(1,0.9907)" font-size="55.60">20</text>
<text transform="translate(742.83,1428.36) scale(1,0.9907)" font-size="55.60">30</text>
<text transform="translate(970.61,1428.36) scale(1,0.9907)" font-size="55.60">40</text>
<text transform="translate(1197.49,1428.36) scale(1,0.9907)" font-size="55.60">50</text>
<text transform="translate(1424.55,1428.36) scale(1,0.9907)" font-size="55.60">60</text>
<text transform="translate(1651.90,1428.36) scale(1,0.9907)" font-size="55.60">70</text>
<text transform="translate(1879.48,1428.36) scale(1,0.9907)" font-size="55.60">80</text>
<text transform="translate(970.55,1531.90) scale(1,1.0313)" font-size="66.66">2 theta / °</text>
<text transform="translate(85.90,907.95) rotate(-90) scale(1,1.0465)" font-size="66.67">Intensity / a.u.</text>
<text transform="translate(369.82,226.41) scale(1,1.0639)" font-size="143.38">C</text>
</g>
<g stroke-width="8" stroke-linecap="round">
<line x1="1512" y1="127" x2="1660" y2="127" stroke="#EF4142"/>
<line x1="1512" y1="209.5" x2="1660" y2="209.5" stroke="#0000FF"/>
<line x1="1512" y1="291.3" x2="1660" y2="291.3" stroke="#008000"/>
</g>
<g font-family='"Liberation Sans", Arial, Helvetica, sans-serif' fill="#000" style="font-kerning:none">
<text transform="translate(1677.26,150.80) scale(1,1.0360)" font-size="67.50">MZ01</text>
<text transform="translate(1677.26,232.90) scale(1,1.0360)" font-size="67.50">MZ02</text>
<text transform="translate(1677.26,315.20) scale(1,1.0360)" font-size="67.50">MZ03</text>
<text transform="translate(1041.48,128.96) scale(1,1.046)" font-size="55.06">Ni (111)</text>
<text transform="translate(725.69,382.20) scale(1,1.046)" font-size="55.03">MgO (200)</text>
<text transform="translate(726.07,465.70) scale(1,1.046)" font-size="55.17">NiO (200)</text>
<text transform="translate(445.09,608.70) scale(1,1.046)" font-size="55.03">NiO (111)</text>
<text transform="translate(445.08,691.70) scale(1,1.046)" font-size="55.06">MgO (311)</text>
<text transform="translate(838.81,674.70) scale(1,1.046)" font-size="54.76">S (331)</text>
<text transform="translate(459.12,808.00) scale(1,1.046)" font-size="54.67">S (001)</text>
<text transform="translate(690.11,860.70) scale(1,1.046)" font-size="54.83">S (221)</text>
<text transform="translate(1181.87,731.70) scale(1,1.046)" font-size="55.27">Ni (200)</text>
<text transform="translate(1426.27,537.50) scale(1,1.046)" font-size="55.19">MgO (220)</text>
<text transform="translate(1426.24,619.00) scale(1,1.046)" font-size="55.58">NiO (220)</text>
<text transform="translate(1695.86,759.60) scale(1,1.046)" font-size="55.35">Ni (220)</text>
<text transform="translate(1543.53,830.90) scale(1,1.046)" font-size="54.45">S (440)</text>
<text transform="translate(1311.31,846.50) scale(1,1.046)" font-size="54.92">S (442)</text>
</g>
</svg>
</body></html>
